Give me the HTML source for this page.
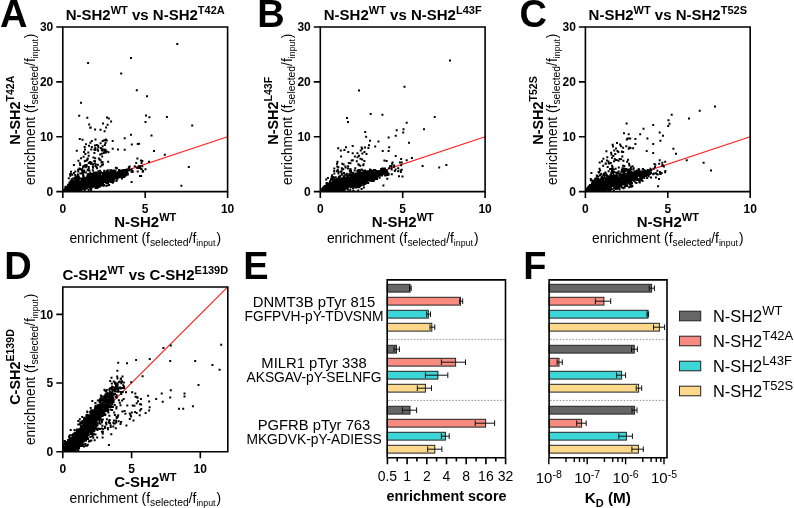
<!DOCTYPE html>
<html><head><meta charset="utf-8"><style>html,body{margin:0;padding:0;background:#fff;}svg{display:block;filter:blur(0.3px);}</style></head><body>
<svg width="794" height="508" viewBox="0 0 794 508" font-family='"Liberation Sans", sans-serif'>
<rect width="794" height="508" fill="#fff"/>
<text x="0" y="27.0" font-size="38" font-weight="bold" text-anchor="start" >A</text>
<text x="257.2" y="27.0" font-size="38" font-weight="bold" text-anchor="start" >B</text>
<text x="519.5" y="27.0" font-size="38" font-weight="bold" text-anchor="start" >C</text>
<text x="4.3" y="278.8" font-size="38" font-weight="bold" text-anchor="start" >D</text>
<text x="243.2" y="279.0" font-size="38" font-weight="bold" text-anchor="start" >E</text>
<text x="523.2" y="278.8" font-size="38" font-weight="bold" text-anchor="start" >F</text>
<line x1="62.8" y1="191.6" x2="227.6" y2="136.7" stroke="#ff2020" stroke-width="1.2"/>
<clipPath id="cA"><rect x="62.8" y="26.98999999999998" width="164.8" height="164.61"/></clipPath>
<path clip-path="url(#cA)" d="M88.9 180.5h2.0M118.9 171.8h2.0M66.7 188.8h2.0M109.2 176.3h2.0M65.4 191.6h2.0M93.8 181.4h2.0M91.9 181.0h2.0M85.2 186.7h2.0M69.7 186.4h2.0M90.0 176.6h2.0M84.2 182.6h2.0M78.9 181.5h2.0M106.6 177.2h2.0M81.9 179.3h2.0M84.8 183.8h2.0M78.2 191.1h2.0M69.8 188.0h2.0M112.9 170.7h2.0M66.9 190.0h2.0M64.0 190.9h2.0M72.5 191.2h2.0M125.5 169.6h2.0M125.3 175.3h2.0M109.7 176.1h2.0M93.6 178.8h2.0M87.6 190.0h2.0M94.8 176.2h2.0M93.2 178.6h2.0M113.8 172.0h2.0M81.7 183.2h2.0M107.3 176.7h2.0M97.1 177.9h2.0M67.7 187.2h2.0M114.7 177.0h2.0M103.1 178.7h2.0M104.0 176.0h2.0M107.1 173.8h2.0M111.5 176.5h2.0M83.6 187.1h2.0M101.9 182.4h2.0M124.5 172.9h2.0M73.1 188.7h2.0M102.9 177.2h2.0M69.0 188.6h2.0M79.1 186.0h2.0M112.7 180.8h2.0M102.4 176.5h2.0M67.9 190.0h2.0M99.1 178.2h2.0M75.9 184.2h2.0M85.5 185.8h2.0M69.5 190.2h2.0M74.0 190.4h2.0M83.8 184.4h2.0M105.2 175.3h2.0M111.3 174.0h2.0M89.1 183.3h2.0M108.0 179.6h2.0M79.4 188.4h2.0M84.0 184.2h2.0M72.0 184.5h2.0M112.8 178.8h2.0M88.2 182.4h2.0M122.0 172.5h2.0M101.7 184.0h2.0M91.4 181.6h2.0M66.5 188.4h2.0M67.8 188.9h2.0M82.0 184.5h2.0M116.5 175.0h2.0M117.4 175.0h2.0M97.3 179.9h2.0M108.6 177.1h2.0M89.1 188.1h2.0M122.7 174.8h2.0M72.5 190.3h2.0M99.1 174.4h2.0M97.8 179.8h2.0M110.4 177.4h2.0M76.9 184.4h2.0M121.8 172.2h2.0M71.1 184.6h2.0M99.6 181.8h2.0M98.9 183.2h2.0M113.0 178.5h2.0M82.5 182.2h2.0M91.5 181.1h2.0M96.0 179.2h2.0M85.8 182.2h2.0M65.7 191.3h2.0M77.0 189.6h2.0M88.5 184.9h2.0M96.6 175.6h2.0M100.5 176.3h2.0M69.5 186.8h2.0M112.7 175.2h2.0M108.1 177.2h2.0M112.0 182.3h2.0M86.4 182.6h2.0M102.3 179.9h2.0M113.3 178.3h2.0M76.4 181.2h2.0M94.4 182.9h2.0M102.5 176.0h2.0M120.1 172.6h2.0M63.9 190.9h2.0M82.9 179.5h2.0M69.2 186.3h2.0M76.2 188.2h2.0M81.2 182.3h2.0M92.2 177.6h2.0M96.8 186.4h2.0M110.5 175.5h2.0M110.7 173.4h2.0M95.9 186.9h2.0M85.8 186.9h2.0M112.3 173.8h2.0M93.3 175.8h2.0M95.2 172.4h2.0M104.3 175.5h2.0M125.9 174.5h2.0M118.0 171.5h2.0M77.2 185.8h2.0M124.9 170.4h2.0M124.4 172.9h2.0M77.3 186.9h2.0M111.9 176.9h2.0M68.8 186.4h2.0M108.1 184.9h2.0M62.6 190.7h2.0M125.3 172.1h2.0M103.8 180.4h2.0M85.6 183.1h2.0M94.1 178.4h2.0M115.7 173.3h2.0M81.1 188.3h2.0M86.4 182.1h2.0M89.7 188.4h2.0M79.8 181.5h2.0M107.2 176.9h2.0M76.5 182.3h2.0M104.3 173.1h2.0M116.4 176.0h2.0M67.5 189.6h2.0M88.9 175.4h2.0M71.0 182.0h2.0M72.8 185.0h2.0M77.7 189.6h2.0M76.4 183.5h2.0M92.3 180.8h2.0M101.4 176.7h2.0M94.6 177.9h2.0M87.3 178.0h2.0M84.6 184.5h2.0M107.2 174.0h2.0M84.1 189.3h2.0M96.4 180.6h2.0M93.2 179.9h2.0M115.8 177.4h2.0M66.2 189.2h2.0M66.8 190.7h2.0M102.0 184.7h2.0M116.7 172.6h2.0M85.4 180.1h2.0M82.7 176.5h2.0M82.7 182.4h2.0M82.1 175.7h2.0M90.1 189.7h2.0M95.2 181.8h2.0M70.9 187.0h2.0M70.4 190.3h2.0M86.8 179.0h2.0M70.4 188.4h2.0M109.0 177.0h2.0M74.6 183.3h2.0M95.2 173.6h2.0M89.2 185.3h2.0M108.0 173.5h2.0M97.1 185.6h2.0M117.7 173.0h2.0M77.0 190.0h2.0M111.7 178.6h2.0M64.2 190.4h2.0M67.0 185.7h2.0M104.2 181.1h2.0M104.9 180.7h2.0M90.0 178.9h2.0M69.5 191.6h2.0M93.3 178.4h2.0M89.5 181.3h2.0M63.3 190.6h2.0M96.4 177.5h2.0M116.9 175.2h2.0M88.2 183.3h2.0M100.3 177.3h2.0M85.3 179.1h2.0M86.7 183.9h2.0M78.3 188.2h2.0M109.7 174.0h2.0M113.8 176.5h2.0M72.6 187.9h2.0M117.6 174.6h2.0M105.8 179.4h2.0M92.3 181.7h2.0M80.2 187.4h2.0M117.6 173.2h2.0M87.2 181.5h2.0M94.8 175.3h2.0M116.0 176.3h2.0M84.1 179.8h2.0M84.0 185.5h2.0M68.4 186.4h2.0M114.4 172.5h2.0M104.7 176.6h2.0M66.8 188.2h2.0M104.4 174.4h2.0M102.8 179.5h2.0M78.0 178.7h2.0M70.5 184.2h2.0M86.5 182.8h2.0M91.6 178.3h2.0M92.4 181.8h2.0M117.3 177.6h2.0M74.9 185.8h2.0M84.9 185.0h2.0M86.8 182.9h2.0M119.7 173.5h2.0M71.9 187.8h2.0M110.8 173.3h2.0M85.4 188.6h2.0M122.8 173.8h2.0M87.4 184.8h2.0M72.8 181.9h2.0M78.9 183.2h2.0M73.0 187.4h2.0M88.8 178.8h2.0M88.2 184.3h2.0M82.4 185.9h2.0M68.7 186.9h2.0M118.0 170.1h2.0M110.4 170.2h2.0M121.0 178.4h2.0M93.3 178.6h2.0M79.0 184.7h2.0M72.7 185.3h2.0M99.9 179.4h2.0M79.4 188.1h2.0M109.1 173.5h2.0M97.3 178.4h2.0M123.3 172.4h2.0M85.1 181.2h2.0M105.8 171.1h2.0M102.6 179.1h2.0M96.0 182.3h2.0M92.3 186.7h2.0M113.5 179.3h2.0M94.5 182.5h2.0M96.6 178.4h2.0M94.4 178.8h2.0M79.3 185.6h2.0M109.2 170.3h2.0M75.0 178.5h2.0M80.3 183.0h2.0M107.8 178.7h2.0M117.5 172.1h2.0M100.8 183.7h2.0M62.8 190.6h2.0M81.0 182.8h2.0M75.7 181.8h2.0M77.9 189.1h2.0M78.3 189.4h2.0M69.7 190.1h2.0M75.0 187.4h2.0M74.8 182.8h2.0M86.7 185.8h2.0M86.8 178.2h2.0M74.3 183.1h2.0M107.8 178.4h2.0M90.2 183.2h2.0M105.3 172.8h2.0M73.7 190.1h2.0M89.4 184.4h2.0M78.3 178.2h2.0M64.5 191.5h2.0M82.2 174.5h2.0M122.2 174.2h2.0M101.2 178.0h2.0M86.6 179.5h2.0M109.9 177.2h2.0M111.4 181.0h2.0M64.1 188.8h2.0M103.0 174.4h2.0M96.5 179.3h2.0M99.3 175.6h2.0M122.9 173.4h2.0M80.1 190.1h2.0M122.5 171.9h2.0M75.2 184.7h2.0M100.3 181.4h2.0M85.8 181.2h2.0M117.4 171.9h2.0M108.1 175.6h2.0M85.7 183.0h2.0M62.7 191.5h2.0M90.7 185.3h2.0M81.4 187.2h2.0M69.4 186.4h2.0M106.6 180.0h2.0M71.7 182.4h2.0M65.7 188.6h2.0M96.9 178.8h2.0M108.3 177.6h2.0M88.5 184.5h2.0M79.5 188.6h2.0M75.3 180.9h2.0M93.5 175.9h2.0M101.8 183.3h2.0M82.4 180.0h2.0M92.3 184.8h2.0M82.4 186.2h2.0M112.9 177.6h2.0M69.6 188.7h2.0M85.6 179.8h2.0M100.5 181.1h2.0M64.7 190.3h2.0M72.6 185.2h2.0M82.7 185.1h2.0M72.9 189.6h2.0M103.8 175.4h2.0M89.8 178.9h2.0M109.8 176.9h2.0M122.2 175.6h2.0M98.1 183.6h2.0M108.5 173.3h2.0M69.2 186.0h2.0M62.7 191.1h2.0M91.7 184.6h2.0M82.2 184.5h2.0M91.7 177.0h2.0M76.9 186.3h2.0M126.7 174.4h2.0M97.1 182.8h2.0M98.8 184.1h2.0M91.4 182.0h2.0M121.3 173.7h2.0M85.0 178.6h2.0M93.9 180.9h2.0M88.4 178.3h2.0M94.7 181.6h2.0M89.5 179.0h2.0M74.9 190.5h2.0M68.0 185.3h2.0M73.9 189.6h2.0M81.6 178.9h2.0M123.9 173.3h2.0M81.9 183.2h2.0M89.2 177.9h2.0M96.2 184.0h2.0M70.9 188.0h2.0M70.4 186.0h2.0M117.2 176.1h2.0M71.7 182.4h2.0M110.4 174.6h2.0M68.5 190.3h2.0M85.7 188.1h2.0M123.5 172.9h2.0M64.7 191.6h2.0M85.6 182.2h2.0M89.3 182.6h2.0M117.4 173.2h2.0M83.8 186.9h2.0M62.4 191.3h2.0M119.2 177.2h2.0M74.0 185.8h2.0M78.7 191.2h2.0M101.6 181.6h2.0M107.7 174.3h2.0M91.7 186.8h2.0M116.2 177.2h2.0M120.4 170.7h2.0M81.6 183.6h2.0M78.2 190.5h2.0M105.6 180.2h2.0M120.5 175.6h2.0M90.8 182.8h2.0M70.1 185.8h2.0M90.4 185.7h2.0M65.0 190.0h2.0M86.6 181.7h2.0M87.9 181.9h2.0M80.2 184.2h2.0M97.7 184.2h2.0M111.7 176.7h2.0M91.1 176.0h2.0M106.3 185.6h2.0M65.4 189.1h2.0M70.0 190.7h2.0M123.1 171.5h2.0M116.1 176.0h2.0M100.1 178.8h2.0M80.6 188.0h2.0M98.6 179.8h2.0M109.1 179.3h2.0M107.6 176.4h2.0M95.3 174.4h2.0M76.5 186.5h2.0M97.3 184.6h2.0M76.0 183.7h2.0M121.0 173.5h2.0M102.7 181.2h2.0M104.7 175.1h2.0M77.3 191.4h2.0M115.5 178.0h2.0M113.7 176.8h2.0M110.6 173.0h2.0M83.9 186.7h2.0M96.2 188.1h2.0M111.3 179.2h2.0M112.2 176.6h2.0M104.9 178.1h2.0M121.0 173.0h2.0M117.1 174.0h2.0M119.8 174.5h2.0M93.1 184.0h2.0M109.1 172.2h2.0M86.4 175.5h2.0M69.1 184.6h2.0M89.5 186.8h2.0M83.3 188.1h2.0M80.0 185.8h2.0M68.2 190.0h2.0M92.3 185.9h2.0M96.7 180.1h2.0M92.7 180.5h2.0M86.7 184.2h2.0M87.0 186.5h2.0M79.3 184.7h2.0M116.5 174.3h2.0M89.7 185.5h2.0M125.3 171.1h2.0M111.3 177.1h2.0M98.2 181.0h2.0M112.8 172.5h2.0M75.3 189.0h2.0M124.4 173.4h2.0M71.4 188.9h2.0M88.5 180.0h2.0M72.6 191.5h2.0M99.1 178.4h2.0M96.3 182.1h2.0M104.7 173.5h2.0M73.6 189.1h2.0M88.1 178.6h2.0M93.7 179.4h2.0M112.4 180.6h2.0M110.8 176.3h2.0M97.8 186.4h2.0M85.1 181.8h2.0M75.7 185.0h2.0M81.6 183.9h2.0M91.8 184.7h2.0M72.7 187.5h2.0M85.2 183.4h2.0M91.4 181.1h2.0M95.5 180.4h2.0M116.3 179.1h2.0M66.3 190.6h2.0M88.5 178.6h2.0M71.0 187.2h2.0M106.9 178.5h2.0M66.3 189.3h2.0M100.1 175.8h2.0M62.5 191.3h2.0M104.8 178.9h2.0M115.8 176.7h2.0M96.9 178.2h2.0M118.7 173.9h2.0M77.4 184.5h2.0M123.8 171.7h2.0M100.4 183.8h2.0M88.7 183.2h2.0M97.5 178.4h2.0M110.9 178.5h2.0M64.5 191.0h2.0M87.4 176.4h2.0M80.5 184.8h2.0M86.9 185.9h2.0M79.0 184.4h2.0M70.4 189.7h2.0M106.0 176.6h2.0M74.4 187.1h2.0M69.1 188.5h2.0M106.7 176.2h2.0M71.8 182.9h2.0M74.1 179.7h2.0M86.1 185.1h2.0M112.1 177.4h2.0M113.5 179.6h2.0M105.6 173.2h2.0M69.5 188.4h2.0M85.5 187.3h2.0M91.3 178.7h2.0M70.5 189.8h2.0M98.3 185.7h2.0M72.7 183.9h2.0M91.7 177.5h2.0M99.6 181.8h2.0M107.3 176.1h2.0M126.4 173.4h2.0M67.0 189.8h2.0M106.1 174.0h2.0M69.6 186.2h2.0M107.7 178.0h2.0M92.7 182.9h2.0M87.3 180.9h2.0M85.7 181.9h2.0M127.6 168.8h2.0M64.5 188.7h2.0M100.1 181.8h2.0M71.4 186.7h2.0M63.3 190.1h2.0M120.9 173.8h2.0M98.0 179.4h2.0M106.9 172.7h2.0M92.2 182.0h2.0M121.2 175.3h2.0M99.2 181.4h2.0M85.3 180.9h2.0M65.8 189.3h2.0M68.3 189.2h2.0M87.6 181.7h2.0M106.1 180.0h2.0M69.4 186.4h2.0M70.0 182.5h2.0M84.7 182.2h2.0M91.8 180.9h2.0M101.9 178.8h2.0M81.8 182.9h2.0M76.1 188.9h2.0M91.1 181.4h2.0M100.0 185.6h2.0M102.0 179.7h2.0M68.2 187.0h2.0M72.8 183.1h2.0M123.5 173.3h2.0M98.3 186.8h2.0M68.5 186.6h2.0M102.9 175.7h2.0M90.0 174.3h2.0M78.8 187.9h2.0M111.4 175.7h2.0M69.3 188.6h2.0M72.2 187.1h2.0M91.1 187.5h2.0M102.3 178.0h2.0M110.5 174.4h2.0M123.1 176.9h2.0M92.1 180.7h2.0M71.0 187.2h2.0M100.5 178.9h2.0M121.6 175.9h2.0M105.4 181.2h2.0M93.9 177.6h2.0M111.7 182.7h2.0M80.5 179.8h2.0M63.9 190.5h2.0M95.6 177.0h2.0M95.4 177.1h2.0M83.1 184.8h2.0M91.5 177.5h2.0M71.6 188.3h2.0M119.1 176.9h2.0M116.2 176.8h2.0M73.3 186.8h2.0M89.4 173.1h2.0M121.7 176.8h2.0M65.8 186.7h2.0M68.0 188.4h2.0M84.8 184.2h2.0M79.7 190.0h2.0M103.6 181.8h2.0M126.6 169.7h2.0M102.4 178.0h2.0M110.5 175.6h2.0M97.8 182.3h2.0M122.3 170.0h2.0M94.2 181.1h2.0M72.2 189.2h2.0M113.0 170.4h2.0M90.6 179.8h2.0M81.4 185.4h2.0M100.6 179.3h2.0M76.4 187.5h2.0M115.5 180.9h2.0M105.8 178.6h2.0M64.9 189.7h2.0M104.0 175.9h2.0M67.1 189.3h2.0M85.9 187.1h2.0M121.5 175.0h2.0M108.2 179.4h2.0M75.2 191.5h2.0M73.5 183.7h2.0M70.9 187.6h2.0M108.9 173.4h2.0M99.0 180.7h2.0M64.3 189.4h2.0M75.8 188.9h2.0M88.8 181.1h2.0M73.5 185.6h2.0M69.9 186.1h2.0M85.6 182.3h2.0M92.9 181.0h2.0M89.6 177.1h2.0M73.1 191.3h2.0M89.3 174.9h2.0M117.9 172.0h2.0M68.8 185.2h2.0M91.6 182.9h2.0M88.8 179.1h2.0M65.2 191.3h2.0M88.9 183.4h2.0M114.5 170.6h2.0M80.2 190.1h2.0M98.9 179.9h2.0M86.4 180.5h2.0M93.3 186.2h2.0M74.0 185.2h2.0M104.0 178.7h2.0M78.8 190.5h2.0M62.8 190.8h2.0M99.6 183.0h2.0M120.0 174.5h2.0M78.5 188.6h2.0M116.0 168.2h2.0M115.1 174.9h2.0M111.0 179.8h2.0M115.1 174.6h2.0M95.0 175.7h2.0M109.4 175.4h2.0M84.0 186.4h2.0M118.1 176.1h2.0M106.3 182.1h2.0M89.4 180.0h2.0M85.1 187.5h2.0M101.7 180.1h2.0M123.1 172.5h2.0M94.8 180.5h2.0M106.3 176.6h2.0M108.9 179.1h2.0M105.9 182.4h2.0M116.1 177.0h2.0M77.9 184.8h2.0M74.2 190.1h2.0M119.0 173.0h2.0M83.0 179.6h2.0M111.1 179.7h2.0M101.2 185.5h2.0M124.6 173.6h2.0M82.5 184.0h2.0M87.3 179.4h2.0M74.4 183.7h2.0M114.6 172.9h2.0M65.3 190.0h2.0M87.5 182.0h2.0M72.4 185.8h2.0M92.3 178.9h2.0M100.3 182.7h2.0M113.2 176.8h2.0M92.9 183.3h2.0M71.9 188.2h2.0M83.2 180.9h2.0M96.6 183.7h2.0M97.5 178.6h2.0M66.6 188.7h2.0M73.4 189.2h2.0M121.0 172.0h2.0M101.9 176.8h2.0M99.8 184.0h2.0M78.0 188.0h2.0M77.2 185.9h2.0M72.4 187.8h2.0M95.9 183.0h2.0M72.2 183.7h2.0M82.0 185.7h2.0M96.5 172.8h2.0M107.0 178.9h2.0M96.0 177.4h2.0M87.2 178.6h2.0M108.9 180.1h2.0M88.0 179.7h2.0M82.6 188.0h2.0M89.5 185.2h2.0M82.4 175.7h2.0M83.0 184.5h2.0M91.3 182.9h2.0M73.5 184.9h2.0M77.9 184.3h2.0M122.4 176.0h2.0M69.4 185.0h2.0M62.8 191.4h2.0M113.3 176.9h2.0M118.8 171.4h2.0M77.7 181.4h2.0M114.7 173.0h2.0M92.6 184.2h2.0M98.6 183.4h2.0M67.1 187.9h2.0M84.1 186.1h2.0M87.6 180.2h2.0M95.2 184.0h2.0M67.4 188.9h2.0M63.1 190.0h2.0M76.0 178.0h2.0M74.5 186.3h2.0M89.3 173.4h2.0M122.8 173.2h2.0M83.2 188.4h2.0M119.9 174.0h2.0M70.0 188.9h2.0M103.6 178.2h2.0M90.0 182.3h2.0M67.3 188.9h2.0M111.5 180.2h2.0M83.6 190.7h2.0M115.8 178.0h2.0M95.6 180.2h2.0M113.6 177.2h2.0M82.4 178.1h2.0M114.7 173.8h2.0M83.0 179.0h2.0M119.9 173.4h2.0M107.0 180.4h2.0M107.1 177.0h2.0M93.5 181.5h2.0M100.2 185.4h2.0M114.0 177.0h2.0M102.1 181.4h2.0M65.7 188.8h2.0M122.0 173.5h2.0M109.2 170.4h2.0M80.0 187.4h2.0M105.5 176.9h2.0M111.6 175.2h2.0M74.2 187.4h2.0M98.1 178.1h2.0M71.2 188.7h2.0M88.9 183.7h2.0M71.3 189.4h2.0M70.9 188.6h2.0M89.0 181.3h2.0M113.0 174.2h2.0M123.6 170.8h2.0M77.4 190.0h2.0M107.5 173.3h2.0M116.1 173.8h2.0M112.7 172.9h2.0M90.8 181.2h2.0M74.7 184.5h2.0M78.4 181.8h2.0M101.6 181.6h2.0M94.6 187.9h2.0M82.2 184.1h2.0M79.9 184.8h2.0M81.6 180.1h2.0M97.8 177.1h2.0M81.0 183.0h2.0M67.7 188.6h2.0M74.5 184.9h2.0M107.6 177.8h2.0M108.8 175.7h2.0M86.7 180.3h2.0M70.5 182.1h2.0M113.5 174.8h2.0M78.0 184.1h2.0M99.9 183.6h2.0M81.0 189.5h2.0M75.2 191.5h2.0M73.5 184.1h2.0M76.6 182.7h2.0M109.8 176.9h2.0M97.0 181.7h2.0M78.6 182.1h2.0M74.7 187.6h2.0M79.2 190.8h2.0M102.6 176.1h2.0M99.7 177.8h2.0M69.4 185.0h2.0M74.8 182.6h2.0M124.2 175.8h2.0M82.1 180.9h2.0M79.9 178.6h2.0M99.1 175.2h2.0M104.1 176.8h2.0M68.2 188.6h2.0M108.0 177.6h2.0M103.9 178.6h2.0M102.5 177.5h2.0M83.8 181.1h2.0M99.2 177.0h2.0M105.6 179.7h2.0M122.2 173.6h2.0M106.1 179.9h2.0M123.7 169.9h2.0M125.3 171.9h2.0M74.6 191.6h2.0M83.9 182.3h2.0M72.0 184.1h2.0M110.4 178.0h2.0M72.2 185.3h2.0M90.0 186.0h2.0M116.0 174.8h2.0M92.5 177.5h2.0M92.6 178.6h2.0M106.9 180.1h2.0M70.4 189.5h2.0M104.8 173.6h2.0M102.2 182.7h2.0M119.1 173.8h2.0M113.6 171.9h2.0M86.3 181.5h2.0M110.5 173.9h2.0M77.3 187.9h2.0M93.0 183.5h2.0M78.8 185.1h2.0M91.4 183.8h2.0M98.1 173.5h2.0M87.4 176.6h2.0M80.8 183.9h2.0M99.9 185.4h2.0M98.1 180.7h2.0M84.3 187.3h2.0M68.4 187.4h2.0M70.6 188.2h2.0M77.7 188.2h2.0M62.7 191.4h2.0M69.9 184.8h2.0M70.9 182.3h2.0M77.6 187.3h2.0M105.8 173.6h2.0M65.1 189.1h2.0M92.2 183.3h2.0M69.2 191.4h2.0M72.8 188.5h2.0M84.4 188.8h2.0M84.8 178.6h2.0M83.3 181.7h2.0M94.1 176.7h2.0M76.5 187.4h2.0M89.5 182.0h2.0M89.2 179.8h2.0M92.9 176.3h2.0M122.9 173.1h2.0M84.5 178.7h2.0M81.3 186.6h2.0M86.5 184.2h2.0M99.5 179.3h2.0M92.7 185.6h2.0M75.8 189.0h2.0M83.0 186.4h2.0M79.7 187.7h2.0M70.0 189.2h2.0M96.7 185.4h2.0M78.9 190.7h2.0M85.4 183.9h2.0M75.1 183.5h2.0M79.7 184.5h2.0M76.1 191.0h2.0M96.0 184.8h2.0M97.9 183.8h2.0M66.0 188.1h2.0M103.8 178.9h2.0M105.7 181.7h2.0M101.5 177.2h2.0M70.9 191.4h2.0M82.8 181.3h2.0M89.9 185.8h2.0M72.7 186.2h2.0M116.7 173.3h2.0M102.5 176.5h2.0M77.3 187.1h2.0M76.0 185.0h2.0M67.5 186.5h2.0M70.9 188.5h2.0M86.5 177.3h2.0M91.5 185.4h2.0M81.8 184.5h2.0M80.6 182.1h2.0M115.9 175.2h2.0M102.4 178.6h2.0M66.2 191.3h2.0M71.8 182.1h2.0M114.7 174.9h2.0M94.8 180.8h2.0M89.9 181.2h2.0M95.0 180.2h2.0M76.5 181.2h2.0M102.0 182.7h2.0M88.3 179.0h2.0M92.6 183.4h2.0M92.1 178.3h2.0M73.8 184.9h2.0M80.2 185.0h2.0M64.8 190.9h2.0M99.3 184.3h2.0M76.4 186.9h2.0M85.6 186.4h2.0M89.6 184.5h2.0M112.3 171.5h2.0M75.4 181.5h2.0M87.1 178.4h2.0M62.6 191.5h2.0M121.3 173.7h2.0M89.3 183.8h2.0M82.4 182.0h2.0M84.0 179.5h2.0M102.0 174.7h2.0M85.6 177.5h2.0M87.1 182.0h2.0M117.5 176.4h2.0M64.5 186.8h2.0M72.8 184.3h2.0M89.2 179.4h2.0M96.8 180.1h2.0M68.9 190.2h2.0M81.0 179.8h2.0M95.6 185.2h2.0M88.9 179.0h2.0M72.0 180.9h2.0M76.2 185.1h2.0M83.8 178.0h2.0M118.0 174.5h2.0M64.7 190.6h2.0M66.7 189.9h2.0M102.8 179.0h2.0M80.5 182.2h2.0M109.1 175.0h2.0M124.6 173.0h2.0M95.0 181.5h2.0M71.0 187.0h2.0M83.3 183.7h2.0M102.8 178.8h2.0M79.2 182.2h2.0M68.2 188.5h2.0M100.2 179.5h2.0M95.4 186.7h2.0M97.6 183.9h2.0M121.5 174.4h2.0M114.1 171.3h2.0M104.1 178.5h2.0M71.8 185.6h2.0M82.9 183.0h2.0M73.4 187.7h2.0M64.2 191.2h2.0M84.4 182.0h2.0M71.2 185.1h2.0M112.4 176.3h2.0M107.6 175.4h2.0M68.6 190.8h2.0M77.0 185.5h2.0M115.3 173.7h2.0M69.6 190.1h2.0M84.6 184.3h2.0M96.6 181.9h2.0M82.8 180.0h2.0M103.7 178.7h2.0M113.7 175.8h2.0M91.1 186.6h2.0M113.2 176.4h2.0M67.3 186.0h2.0M98.6 175.3h2.0M114.8 175.2h2.0M62.8 190.7h2.0M118.6 174.1h2.0M97.4 171.2h2.0M81.8 181.5h2.0M82.3 186.0h2.0M110.7 175.8h2.0M108.1 178.7h2.0M110.1 178.2h2.0M111.2 179.9h2.0M82.6 189.1h2.0M95.8 182.5h2.0M94.6 180.9h2.0M103.8 180.0h2.0M73.2 191.2h2.0M95.3 178.9h2.0M74.7 180.2h2.0M72.9 187.9h2.0M91.6 181.9h2.0M89.4 183.5h2.0M68.3 187.1h2.0M111.0 173.7h2.0M67.3 191.5h2.0M70.9 187.5h2.0M63.2 190.9h2.0M74.0 191.1h2.0M76.7 186.9h2.0M101.3 176.2h2.0M73.4 191.3h2.0M69.0 186.6h2.0M98.8 179.8h2.0M69.3 186.9h2.0M118.4 173.8h2.0M120.3 170.9h2.0M102.7 176.4h2.0M76.6 183.4h2.0M120.4 170.4h2.0M100.2 177.1h2.0M80.2 186.5h2.0M80.0 187.2h2.0M80.4 182.3h2.0M73.6 185.1h2.0M79.1 187.8h2.0M63.1 190.0h2.0M73.0 191.5h2.0M86.0 185.5h2.0M107.9 177.7h2.0M109.5 171.4h2.0M66.1 189.1h2.0M111.9 178.9h2.0M95.5 179.9h2.0M107.9 177.3h2.0M64.0 189.4h2.0M79.0 185.6h2.0M86.8 182.8h2.0M103.2 172.4h2.0M117.9 172.9h2.0M105.3 185.8h2.0M98.6 178.1h2.0M76.0 190.9h2.0M62.3 191.4h2.0M112.7 175.1h2.0M87.1 178.4h2.0M123.4 176.8h2.0M116.2 179.2h2.0M112.4 176.9h2.0M85.6 179.3h2.0M107.7 181.2h2.0M74.9 185.6h2.0M78.1 183.7h2.0M110.2 174.7h2.0M122.6 172.6h2.0M76.4 181.8h2.0M100.6 181.1h2.0M112.1 173.0h2.0M103.3 170.8h2.0M90.7 178.0h2.0M87.9 181.9h2.0M105.3 182.9h2.0M62.0 191.6h2.0M116.4 177.8h2.0M81.8 187.1h2.0M85.8 186.6h2.0M111.7 177.4h2.0M110.2 181.9h2.0M93.1 183.6h2.0M76.6 182.4h2.0M67.8 188.3h2.0M102.3 176.0h2.0M62.1 191.5h2.0M72.7 186.3h2.0M116.4 175.1h2.0M121.2 174.2h2.0M70.0 190.4h2.0M102.0 179.1h2.0M86.8 177.6h2.0M83.7 182.7h2.0M112.0 179.3h2.0M75.7 179.4h2.0M80.8 181.5h2.0M76.8 185.3h2.0M87.4 187.5h2.0M121.6 174.6h2.0M95.8 173.9h2.0M110.1 180.6h2.0M100.9 179.5h2.0M68.0 187.0h2.0M75.4 189.4h2.0M120.3 176.3h2.0M121.4 172.9h2.0M72.9 188.7h2.0M94.4 178.8h2.0M102.6 174.0h2.0M73.7 187.7h2.0M66.5 189.9h2.0M107.5 177.4h2.0M69.0 189.7h2.0M99.3 173.1h2.0M99.7 179.8h2.0M77.2 177.5h2.0M78.2 186.4h2.0M118.8 175.8h2.0M99.6 177.0h2.0M73.0 187.6h2.0M103.2 179.4h2.0M98.6 182.4h2.0M97.7 183.1h2.0M118.8 172.4h2.0M69.7 186.7h2.0M106.6 177.8h2.0M111.2 175.7h2.0M70.0 187.9h2.0M86.3 182.5h2.0M111.8 170.7h2.0M115.8 177.9h2.0M87.8 185.0h2.0M104.6 178.7h2.0M77.1 187.5h2.0M94.6 182.3h2.0M87.5 180.3h2.0M70.9 185.2h2.0M97.5 182.6h2.0M62.2 191.5h2.0M68.2 190.8h2.0M98.9 186.6h2.0M76.1 188.1h2.0M77.2 187.3h2.0M119.4 170.8h2.0M81.4 182.0h2.0M83.3 184.5h2.0M62.5 190.9h2.0M126.9 174.6h2.0M88.2 179.8h2.0M90.7 184.6h2.0M87.8 179.8h2.0M111.2 173.6h2.0M96.5 181.0h2.0M63.4 191.0h2.0M102.3 179.4h2.0M71.3 181.3h2.0M78.3 185.5h2.0M63.6 191.3h2.0M105.6 178.4h2.0M71.4 191.4h2.0M95.2 184.7h2.0M92.8 183.0h2.0M98.3 178.1h2.0M80.9 182.1h2.0M113.0 175.7h2.0M92.0 179.8h2.0M94.6 187.3h2.0M90.7 181.2h2.0M95.2 183.1h2.0M68.8 190.2h2.0M78.7 184.7h2.0M67.3 189.4h2.0M72.0 183.0h2.0M75.0 187.2h2.0M121.5 173.2h2.0M64.3 189.6h2.0M92.6 172.4h2.0M107.0 179.2h2.0M100.9 179.6h2.0M88.1 174.5h2.0M76.2 186.0h2.0M114.2 174.2h2.0M75.9 189.0h2.0M71.0 188.9h2.0M94.9 181.1h2.0M83.7 181.6h2.0M105.1 175.9h2.0M65.5 189.3h2.0M122.3 172.3h2.0M73.3 184.5h2.0M87.9 181.6h2.0M83.7 187.2h2.0M114.8 167.8h2.0M97.4 182.0h2.0M112.3 172.0h2.0M97.6 179.7h2.0M75.9 187.7h2.0M99.8 178.6h2.0M103.0 173.0h2.0M101.5 184.6h2.0M79.9 184.8h2.0M109.6 181.9h2.0M113.4 176.6h2.0M88.1 181.8h2.0M88.9 179.9h2.0M121.9 175.9h2.0M86.0 184.4h2.0M117.2 174.3h2.0M91.6 184.6h2.0M87.2 183.1h2.0M98.0 185.3h2.0M86.1 181.3h2.0M73.5 191.1h2.0M106.8 176.9h2.0M99.0 179.7h2.0M99.4 181.5h2.0M93.2 180.7h2.0M107.5 178.2h2.0M81.9 183.3h2.0M68.6 187.1h2.0M80.9 187.5h2.0M112.9 175.1h2.0M67.1 184.8h2.0M84.8 183.8h2.0M92.1 180.0h2.0M67.3 186.6h2.0M92.6 183.7h2.0M113.2 176.7h2.0M118.6 173.9h2.0M75.4 187.8h2.0M121.1 171.7h2.0M97.0 177.8h2.0M106.8 170.2h2.0M107.0 172.3h2.0M68.7 190.3h2.0M109.4 172.8h2.0M87.6 176.8h2.0M94.3 183.7h2.0M81.1 181.8h2.0M79.3 191.1h2.0M94.2 182.7h2.0M81.0 184.6h2.0M71.5 185.4h2.0M97.2 178.3h2.0M74.9 185.1h2.0M79.0 181.5h2.0M98.0 178.3h2.0M64.2 191.5h2.0M79.7 187.2h2.0M106.1 173.7h2.0M91.9 183.4h2.0M111.2 172.2h2.0M126.6 173.3h2.0M69.5 187.0h2.0M68.6 186.3h2.0M96.6 174.3h2.0M106.7 179.0h2.0M73.7 187.7h2.0M82.0 178.3h2.0M116.1 174.5h2.0M97.9 180.6h2.0M103.0 184.9h2.0M91.7 186.2h2.0M113.0 175.8h2.0M106.6 181.7h2.0M103.4 172.2h2.0M74.9 182.1h2.0M91.7 184.1h2.0M121.2 173.9h2.0M90.6 180.3h2.0M103.4 181.9h2.0M111.1 177.6h2.0M62.0 191.1h2.0M78.5 184.2h2.0M113.8 174.8h2.0M90.6 174.2h2.0M68.8 185.5h2.0M107.2 177.4h2.0M63.7 190.4h2.0M84.2 183.6h2.0M93.0 186.4h2.0M114.5 178.0h2.0M92.5 185.9h2.0M88.5 179.0h2.0M96.3 177.4h2.0M62.4 191.2h2.0M101.9 180.1h2.0M80.4 181.4h2.0M84.4 180.3h2.0M90.5 176.5h2.0M107.0 182.9h2.0M70.6 190.6h2.0M87.1 187.0h2.0M97.0 178.0h2.0M90.2 178.7h2.0M84.4 184.3h2.0M74.7 181.4h2.0M88.0 183.7h2.0M105.4 176.6h2.0M115.0 173.9h2.0M86.4 182.2h2.0M107.1 182.7h2.0M102.8 179.2h2.0M108.9 178.7h2.0M88.0 179.9h2.0M82.9 179.3h2.0M83.4 185.2h2.0M69.1 183.7h2.0M74.8 188.4h2.0M111.8 181.2h2.0M82.5 184.4h2.0M108.8 181.4h2.0M74.0 191.4h2.0M89.6 174.0h2.0M87.0 181.5h2.0M86.6 180.6h2.0M86.4 180.8h2.0M79.6 185.7h2.0M115.0 178.0h2.0M108.0 179.0h2.0M122.8 169.9h2.0M94.0 181.3h2.0M80.2 188.8h2.0M102.0 177.2h2.0M84.2 184.9h2.0M109.5 178.2h2.0M76.2 183.6h2.0M63.6 191.1h2.0M100.8 182.2h2.0M92.3 179.5h2.0M69.9 182.2h2.0M108.7 176.0h2.0M111.5 179.3h2.0M86.8 187.0h2.0M77.1 188.9h2.0M91.5 174.1h2.0M112.3 181.9h2.0M77.7 180.5h2.0M86.5 185.3h2.0M105.7 177.4h2.0M102.6 173.9h2.0M113.8 175.0h2.0M62.2 191.6h2.0M77.5 185.0h2.0M113.7 176.9h2.0M69.5 191.4h2.0M77.8 183.3h2.0M66.5 190.1h2.0M114.5 176.7h2.0M68.0 191.1h2.0M64.5 190.8h2.0M107.8 172.7h2.0M101.5 179.2h2.0M74.2 183.0h2.0M91.5 176.8h2.0M113.8 175.5h2.0M120.1 170.4h2.0M106.3 175.6h2.0M87.9 184.3h2.0M84.0 184.4h2.0M109.6 182.1h2.0M94.7 178.9h2.0M102.6 180.9h2.0M88.3 180.1h2.0M68.6 190.7h2.0M93.0 180.4h2.0M68.6 184.0h2.0M68.6 191.4h2.0M97.9 173.7h2.0M78.3 189.5h2.0M109.9 173.8h2.0M118.4 174.5h2.0M79.7 184.7h2.0M103.0 176.8h2.0M105.6 181.1h2.0M70.5 185.1h2.0M88.0 179.6h2.0M112.0 176.2h2.0M71.0 188.3h2.0M120.4 173.7h2.0M86.5 175.6h2.0M95.6 179.5h2.0M101.7 182.7h2.0M78.2 187.6h2.0M93.1 179.8h2.0M96.6 173.5h2.0M108.5 177.2h2.0M102.2 179.8h2.0M85.3 183.9h2.0M118.5 176.9h2.0M64.6 191.4h2.0M115.5 173.7h2.0M117.5 173.4h2.0M91.9 182.2h2.0M80.6 180.2h2.0M62.5 190.0h2.0M99.0 181.0h2.0M86.9 183.3h2.0M64.7 191.3h2.0M102.7 185.8h2.0M127.8 170.6h2.0M126.1 173.5h2.0M104.6 173.5h2.0M76.3 182.6h2.0M65.3 188.7h2.0M97.8 185.7h2.0M69.1 191.0h2.0M95.9 182.2h2.0M93.6 174.1h2.0M111.7 178.2h2.0M72.4 183.8h2.0M80.2 181.6h2.0M68.4 187.4h2.0M85.6 185.1h2.0M116.2 176.5h2.0M66.3 189.1h2.0M118.3 176.3h2.0M88.0 182.4h2.0M100.7 179.7h2.0M68.1 188.1h2.0M72.3 191.3h2.0M96.6 176.8h2.0M95.3 178.6h2.0M102.7 177.8h2.0M96.8 180.4h2.0M93.9 172.7h2.0M103.3 140.3h2.0M94.0 161.2h2.0M84.6 160.8h2.0M101.3 165.0h2.0M103.2 171.8h2.0M93.9 185.3h2.0M74.3 171.5h2.0M86.0 177.3h2.0M80.3 169.4h2.0M72.9 165.0h2.0M87.8 163.0h2.0M83.6 147.0h2.0M101.5 175.9h2.0M96.8 187.4h2.0M77.0 179.2h2.0M95.4 176.4h2.0M99.2 154.4h2.0M70.9 181.9h2.0M92.0 164.2h2.0M104.9 152.5h2.0M69.2 175.7h2.0M84.0 165.3h2.0M100.8 150.0h2.0M79.2 165.1h2.0M94.2 149.9h2.0M100.1 172.3h2.0M77.2 169.8h2.0M105.6 151.3h2.0M97.9 158.6h2.0M95.5 166.9h2.0M75.6 185.2h2.0M87.7 155.7h2.0M87.1 174.0h2.0M101.2 156.4h2.0M82.0 167.2h2.0M76.9 190.5h2.0M92.4 157.4h2.0M80.6 173.3h2.0M81.5 173.1h2.0M70.0 171.8h2.0M104.5 149.8h2.0M99.6 160.2h2.0M85.3 166.6h2.0M80.1 158.3h2.0M85.3 165.2h2.0M96.9 164.8h2.0M87.8 168.6h2.0M96.6 149.5h2.0M101.0 165.3h2.0M77.1 185.2h2.0M79.3 173.5h2.0M100.7 153.8h2.0M93.8 163.5h2.0M86.4 180.4h2.0M93.4 152.9h2.0M101.6 150.8h2.0M94.2 158.3h2.0M93.8 179.1h2.0M75.1 178.6h2.0M75.5 181.5h2.0M82.8 171.9h2.0M90.1 191.3h2.0M82.6 156.8h2.0M69.2 173.9h2.0M74.8 191.6h2.0M86.0 160.3h2.0M75.9 179.3h2.0M93.3 161.0h2.0M99.0 170.8h2.0M83.8 161.3h2.0M88.8 177.0h2.0M85.7 165.4h2.0M84.5 167.3h2.0M94.1 129.5h2.0M103.6 131.2h2.0M81.5 171.4h2.0M77.8 183.1h2.0M101.5 162.0h2.0M100.7 148.7h2.0M84.4 153.9h2.0M91.9 166.5h2.0M81.1 169.2h2.0M98.6 159.5h2.0M73.9 177.8h2.0M90.9 176.8h2.0M74.7 176.4h2.0M78.6 168.6h2.0M74.2 174.9h2.0M88.5 170.8h2.0M101.5 172.9h2.0M82.6 166.1h2.0M79.9 173.5h2.0M92.0 167.7h2.0M99.5 177.4h2.0M74.1 180.2h2.0M77.4 160.8h2.0M87.7 167.0h2.0M81.0 179.8h2.0M70.9 186.2h2.0M72.9 173.0h2.0M105.8 140.6h2.0M81.6 171.1h2.0M94.4 166.0h2.0M68.4 182.7h2.0M71.9 178.8h2.0M91.8 170.2h2.0M94.8 164.4h2.0M86.6 170.3h2.0M102.7 149.6h2.0M78.2 169.2h2.0M87.2 169.5h2.0M91.0 178.3h2.0M83.2 172.3h2.0M89.4 175.1h2.0M91.5 178.2h2.0M103.8 151.5h2.0M70.3 174.2h2.0M100.5 162.6h2.0M96.1 168.2h2.0M83.8 178.3h2.0M78.9 163.2h2.0M104.6 140.5h2.0M86.4 159.4h2.0M104.5 143.0h2.0M90.5 162.6h2.0M95.8 145.0h2.0M94.3 148.0h2.0M99.4 166.4h2.0M79.4 182.0h2.0M88.4 187.0h2.0M85.7 164.9h2.0M70.7 179.2h2.0M69.5 181.3h2.0M99.6 143.3h2.0M84.9 172.6h2.0M76.3 188.1h2.0M101.9 173.0h2.0M101.7 146.2h2.0M77.2 171.6h2.0M77.8 176.5h2.0M107.2 161.7h2.0M76.1 180.4h2.0M76.9 174.4h2.0M74.4 180.2h2.0M76.4 185.4h2.0M92.8 175.2h2.0M67.8 178.2h2.0M83.2 170.6h2.0M79.3 169.0h2.0M102.0 164.2h2.0M88.9 162.0h2.0M72.4 178.4h2.0M75.9 176.6h2.0M81.2 170.8h2.0M86.8 158.5h2.0M71.3 174.7h2.0M75.5 178.6h2.0M89.9 164.0h2.0M101.9 175.1h2.0M136.7 171.6h2.0M136.4 158.5h2.0M141.7 171.7h2.0M137.7 166.3h2.0M141.3 161.0h2.0M140.6 162.9h2.0M130.5 171.8h2.0M135.9 167.7h2.0M131.6 172.1h2.0M139.0 166.3h2.0M124.5 170.2h2.0M131.7 171.2h2.0M128.6 169.7h2.0M125.9 171.2h2.0M124.1 172.2h2.0M133.8 166.2h2.0M140.1 175.9h2.0M131.2 170.9h2.0M138.9 168.0h2.0M127.9 167.3h2.0M130.6 182.0h2.0M137.4 168.1h2.0M131.1 171.7h2.0M135.2 162.9h2.0M141.3 166.3h2.0M139.9 168.8h2.0M125.4 173.3h2.0M128.0 168.1h2.0M130.7 169.4h2.0M128.7 166.6h2.0M176.3 44.0h2.0M87.1 63.0h2.0M130.0 58.0h2.0M120.2 73.6h2.0M135.8 90.2h2.0M80.0 102.7h2.0M146.0 96.3h2.0M78.2 115.7h2.0M86.3 117.8h2.0M106.0 117.5h2.0M107.8 118.4h2.0M110.1 121.4h2.0M88.2 124.4h2.0M89.7 127.4h2.0M89.2 127.8h2.0M102.0 123.6h2.0M106.6 124.7h2.0M105.1 127.4h2.0M99.5 129.8h2.0M130.0 134.8h2.0M123.7 138.2h2.0M78.8 139.0h2.0M81.5 139.8h2.0M94.5 139.5h2.0M104.9 139.5h2.0M90.8 140.9h2.0M101.6 141.1h2.0M111.7 141.1h2.0M89.4 142.8h2.0M85.0 144.2h2.0M103.9 145.0h2.0M88.0 145.8h2.0M130.8 144.5h2.0M136.8 143.9h2.0M138.1 143.7h2.0M93.9 145.5h2.0M97.1 145.8h2.0M90.8 147.1h2.0M97.4 147.3h2.0M99.9 148.1h2.0M84.0 149.4h2.0M90.3 149.4h2.0M93.4 149.6h2.0M111.7 148.7h2.0M117.0 149.4h2.0M123.7 149.7h2.0M75.8 150.8h2.0M83.0 152.0h2.0M87.3 152.4h2.0M97.1 150.8h2.0M102.8 153.1h2.0M107.5 152.3h2.0M145.0 115.6h2.0M148.4 117.3h2.0M165.9 117.0h2.0M144.5 122.1h2.0M191.2 125.5h2.0M150.5 135.5h2.0M153.0 150.9h2.0M163.8 154.7h2.0M139.9 160.6h2.0M147.9 161.8h2.0M140.7 169.2h2.0M142.1 170.9h2.0M144.5 169.2h2.0M187.8 167.0h2.0M139.0 176.0h2.0M180.4 185.8h2.0" stroke="#000" stroke-width="2" fill="none"/>
<path d="M62.8 191.6V26.98999999999998H227.60000000000002V191.6H62.8" fill="none" stroke="#000" stroke-width="1.6"/>
<path d="M62.8 191.6v6.5M145.2 191.6v6.5M227.6 191.6v6.5M62.8 191.6h-6.5M62.8 136.7h-6.5M62.8 81.9h-6.5M62.8 27.0h-6.5" stroke="#000" stroke-width="1.6"/>
<text x="62.8" y="212.6" font-size="12" font-weight="bold" text-anchor="middle" >0</text>
<text x="145.2" y="212.6" font-size="12" font-weight="bold" text-anchor="middle" >5</text>
<text x="227.6" y="212.6" font-size="12" font-weight="bold" text-anchor="middle" >10</text>
<text x="53.3" y="195.9" font-size="12" font-weight="bold" text-anchor="end" >0</text>
<text x="53.3" y="141.0" font-size="12" font-weight="bold" text-anchor="end" >10</text>
<text x="53.3" y="86.2" font-size="12" font-weight="bold" text-anchor="end" >20</text>
<text x="53.3" y="31.3" font-size="12" font-weight="bold" text-anchor="end" >30</text>
<text x="145.2" y="226.8" font-size="15" font-weight="bold" text-anchor="middle">N-SH2<tspan font-size="11" dy="-6">WT</tspan></text>
<text x="145.2" y="242.8" font-size="13.8" text-anchor="middle">enrichment (f<tspan font-size="10.4" dy="3">selected</tspan><tspan dy="-3">/f</tspan><tspan font-size="8.8" dy="3">input</tspan><tspan dy="-3" dx="1">)</tspan></text>
<text transform="translate(20.0,144.7) rotate(-90)" font-size="14.4" font-weight="bold">N-SH2<tspan font-size="10.6" dy="-5.8">T42A</tspan></text>
<text transform="translate(34.8,109.3) rotate(-90)" font-size="13.8" text-anchor="middle">enrichment (f<tspan font-size="10.4" dy="3">selected</tspan><tspan dy="-3">/f</tspan><tspan font-size="8.8" dy="3">input</tspan><tspan dy="-3" dx="1">)</tspan></text>
<text x="145.2" y="19.8" font-size="15" font-weight="bold" text-anchor="middle">N-SH2<tspan font-size="11" dy="-6">WT</tspan><tspan dy="6"> vs N-SH2</tspan><tspan font-size="11" dy="-6">T42A</tspan></text>
<line x1="320.3" y1="191.6" x2="485.1" y2="136.7" stroke="#ff2020" stroke-width="1.2"/>
<clipPath id="cB"><rect x="320.3" y="26.98999999999998" width="164.8" height="164.61"/></clipPath>
<path clip-path="url(#cB)" d="M326.3 189.4h2.0M346.6 184.7h2.0M332.5 186.5h2.0M360.7 169.6h2.0M382.1 168.8h2.0M355.0 178.3h2.0M353.4 183.9h2.0M379.6 173.9h2.0M346.8 178.0h2.0M342.7 184.4h2.0M339.4 185.5h2.0M344.3 184.6h2.0M342.1 181.9h2.0M384.1 175.3h2.0M373.7 176.6h2.0M325.5 187.8h2.0M344.1 185.1h2.0M375.6 174.1h2.0M338.1 185.2h2.0M347.1 185.8h2.0M381.5 173.2h2.0M343.3 183.6h2.0M359.9 178.4h2.0M361.8 178.5h2.0M342.1 183.7h2.0M365.7 175.2h2.0M358.5 178.3h2.0M342.9 182.1h2.0M330.2 179.0h2.0M381.2 172.3h2.0M344.7 187.2h2.0M368.9 169.6h2.0M328.0 189.8h2.0M335.0 184.2h2.0M380.5 174.4h2.0M335.2 185.5h2.0M324.2 189.7h2.0M343.3 183.0h2.0M321.1 191.0h2.0M331.8 184.1h2.0M332.5 187.9h2.0M357.9 176.1h2.0M365.3 176.7h2.0M348.4 184.1h2.0M341.9 190.2h2.0M358.8 171.9h2.0M347.1 181.8h2.0M345.9 180.4h2.0M331.0 183.9h2.0M374.2 173.4h2.0M338.6 186.5h2.0M360.1 179.7h2.0M346.4 187.3h2.0M339.0 181.8h2.0M362.2 174.3h2.0M354.6 181.8h2.0M330.6 186.1h2.0M372.5 176.7h2.0M342.1 181.6h2.0M327.5 187.6h2.0M331.1 183.1h2.0M339.1 182.2h2.0M319.8 190.7h2.0M346.7 184.7h2.0M338.5 185.7h2.0M354.0 182.3h2.0M338.2 187.7h2.0M354.6 175.6h2.0M369.3 177.2h2.0M386.3 172.0h2.0M361.4 180.0h2.0M359.9 178.8h2.0M349.8 181.0h2.0M346.1 180.4h2.0M364.1 178.5h2.0M346.0 181.1h2.0M354.5 175.9h2.0M346.9 187.6h2.0M366.5 171.5h2.0M334.0 186.9h2.0M353.2 184.9h2.0M356.7 174.8h2.0M347.7 191.6h2.0M360.6 180.8h2.0M383.7 172.2h2.0M365.8 182.0h2.0M375.6 174.0h2.0M340.0 181.5h2.0M379.6 172.8h2.0M360.3 177.4h2.0M331.8 179.8h2.0M332.1 186.8h2.0M344.7 188.6h2.0M367.2 174.9h2.0M354.1 181.5h2.0M375.7 171.1h2.0M350.1 186.2h2.0M372.8 174.6h2.0M368.8 173.8h2.0M351.9 180.3h2.0M346.7 178.4h2.0M358.2 176.3h2.0M358.4 182.7h2.0M362.8 182.4h2.0M349.5 183.8h2.0M359.8 178.6h2.0M341.5 181.4h2.0M339.9 184.3h2.0M378.0 174.8h2.0M339.6 180.7h2.0M372.9 180.3h2.0M324.9 189.1h2.0M374.6 173.2h2.0M360.1 180.9h2.0M350.4 177.7h2.0M349.3 184.0h2.0M332.2 179.9h2.0M368.3 172.6h2.0M349.3 183.2h2.0M341.1 185.5h2.0M382.1 172.0h2.0M365.3 177.3h2.0M381.5 172.6h2.0M356.7 181.4h2.0M320.5 189.8h2.0M323.2 187.1h2.0M377.9 173.1h2.0M362.8 174.4h2.0M335.4 183.5h2.0M374.2 175.6h2.0M370.8 175.2h2.0M325.9 186.2h2.0M321.4 189.8h2.0M350.9 186.0h2.0M329.5 186.9h2.0M326.7 184.2h2.0M353.4 177.5h2.0M340.1 188.7h2.0M385.7 170.8h2.0M350.9 177.2h2.0M350.9 182.2h2.0M379.4 172.7h2.0M362.9 173.8h2.0M324.0 189.4h2.0M367.8 178.4h2.0M355.0 180.7h2.0M385.2 170.4h2.0M362.1 180.6h2.0M360.0 174.1h2.0M334.9 184.5h2.0M341.9 182.8h2.0M335.8 187.6h2.0M320.1 191.2h2.0M353.9 179.0h2.0M346.5 188.4h2.0M376.3 175.4h2.0M351.8 177.1h2.0M378.8 170.9h2.0M335.1 189.3h2.0M359.6 184.8h2.0M360.7 175.1h2.0M360.5 185.3h2.0M334.2 186.7h2.0M329.3 185.8h2.0M353.9 181.2h2.0M352.9 178.4h2.0M351.0 177.4h2.0M336.8 187.9h2.0M353.2 180.8h2.0M352.8 187.4h2.0M377.5 172.8h2.0M343.2 177.8h2.0M349.5 182.0h2.0M323.9 191.5h2.0M335.9 181.5h2.0M327.9 190.6h2.0M355.4 176.9h2.0M320.4 190.9h2.0M380.5 173.6h2.0M359.9 181.6h2.0M360.0 175.4h2.0M347.9 180.0h2.0M363.2 172.9h2.0M385.6 170.0h2.0M336.3 178.7h2.0M330.6 185.5h2.0M327.8 184.8h2.0M336.6 189.1h2.0M323.6 189.4h2.0M346.7 189.5h2.0M365.9 172.0h2.0M345.4 183.5h2.0M323.2 189.5h2.0M343.9 183.1h2.0M326.4 188.8h2.0M343.9 179.1h2.0M363.8 172.4h2.0M350.8 181.3h2.0M369.3 174.0h2.0M342.3 185.0h2.0M352.2 177.6h2.0M327.3 184.8h2.0M348.0 185.2h2.0M332.7 185.8h2.0M350.2 184.0h2.0M373.8 179.1h2.0M371.4 171.9h2.0M352.2 179.2h2.0M369.3 177.3h2.0M347.7 182.5h2.0M347.7 177.7h2.0M339.3 187.9h2.0M351.9 181.4h2.0M322.8 189.8h2.0M338.7 181.6h2.0M365.5 173.4h2.0M327.5 188.9h2.0M362.9 176.4h2.0M339.0 180.9h2.0M330.0 186.9h2.0M339.1 186.7h2.0M383.7 171.3h2.0M355.2 183.1h2.0M327.2 191.1h2.0M375.4 172.5h2.0M359.3 178.7h2.0M352.0 176.6h2.0M356.6 181.4h2.0M340.7 184.9h2.0M333.4 185.1h2.0M352.0 176.8h2.0M381.1 172.5h2.0M376.6 174.4h2.0M372.8 179.5h2.0M333.8 180.9h2.0M338.1 183.3h2.0M321.5 190.3h2.0M338.7 188.5h2.0M341.5 182.2h2.0M334.2 185.1h2.0M382.4 171.7h2.0M381.6 173.7h2.0M324.3 189.5h2.0M366.5 177.0h2.0M345.2 184.6h2.0M365.9 180.6h2.0M364.9 172.8h2.0M356.2 175.3h2.0M335.9 186.4h2.0M330.8 182.7h2.0M379.4 171.2h2.0M363.7 172.3h2.0M350.3 181.2h2.0M331.8 179.5h2.0M380.0 173.8h2.0M328.8 183.1h2.0M366.3 180.5h2.0M341.2 188.6h2.0M381.0 175.4h2.0M370.6 173.0h2.0M354.1 177.0h2.0M340.3 182.1h2.0M369.1 175.5h2.0M357.9 180.9h2.0M356.2 182.2h2.0M319.7 191.4h2.0M336.8 183.7h2.0M341.5 181.3h2.0M327.7 186.8h2.0M365.3 177.1h2.0M362.2 176.0h2.0M326.0 186.1h2.0M373.2 174.1h2.0M338.5 180.1h2.0M369.4 174.7h2.0M339.9 182.0h2.0M331.2 179.6h2.0M326.3 187.1h2.0M365.6 177.7h2.0M357.4 176.6h2.0M325.8 187.9h2.0M331.2 190.1h2.0M339.3 180.1h2.0M357.0 177.6h2.0M370.7 173.0h2.0M339.5 184.0h2.0M365.3 178.5h2.0M364.2 181.1h2.0M328.0 186.1h2.0M366.4 176.4h2.0M354.2 184.2h2.0M334.2 185.8h2.0M359.2 184.3h2.0M353.8 182.5h2.0M360.4 178.3h2.0M349.7 181.4h2.0M330.7 191.5h2.0M325.5 183.7h2.0M340.8 187.9h2.0M331.5 187.6h2.0M355.1 187.4h2.0M337.7 184.0h2.0M385.7 170.9h2.0M338.4 189.9h2.0M329.2 185.1h2.0M350.5 180.3h2.0M359.2 180.2h2.0M335.3 182.3h2.0M352.9 183.2h2.0M341.0 181.0h2.0M331.8 190.8h2.0M343.7 182.9h2.0M383.6 172.6h2.0M341.4 182.8h2.0M371.4 175.8h2.0M347.1 179.6h2.0M345.7 181.1h2.0M352.0 181.7h2.0M352.7 175.4h2.0M363.8 183.1h2.0M343.3 181.0h2.0M346.7 186.5h2.0M339.8 190.0h2.0M350.9 175.5h2.0M331.5 188.0h2.0M353.8 180.7h2.0M374.1 175.1h2.0M356.9 170.6h2.0M354.7 181.5h2.0M351.6 181.4h2.0M335.3 186.5h2.0M346.1 179.1h2.0M345.3 183.7h2.0M367.9 172.6h2.0M367.1 176.5h2.0M359.2 186.3h2.0M360.3 180.2h2.0M324.5 189.1h2.0M358.1 182.9h2.0M340.2 179.7h2.0M353.9 184.8h2.0M364.5 171.5h2.0M321.9 190.5h2.0M327.5 187.8h2.0M353.8 181.6h2.0M373.1 174.6h2.0M335.0 186.0h2.0M326.9 190.5h2.0M352.6 183.8h2.0M367.6 177.0h2.0M332.5 186.2h2.0M345.9 182.9h2.0M360.2 180.0h2.0M324.1 189.0h2.0M348.2 181.9h2.0M377.3 171.9h2.0M381.3 168.4h2.0M351.7 183.3h2.0M374.4 170.6h2.0M352.3 184.6h2.0M350.6 182.7h2.0M373.1 170.1h2.0M345.9 179.0h2.0M325.4 188.4h2.0M334.4 183.6h2.0M365.7 180.2h2.0M382.6 173.1h2.0M349.9 179.5h2.0M356.7 171.1h2.0M340.1 183.3h2.0M325.4 186.5h2.0M343.8 181.1h2.0M358.1 187.2h2.0M373.9 173.1h2.0M339.1 182.5h2.0M350.0 185.6h2.0M359.0 177.0h2.0M349.4 177.7h2.0M363.6 183.3h2.0M367.3 180.5h2.0M341.3 181.2h2.0M340.8 174.7h2.0M340.4 187.0h2.0M369.2 176.5h2.0M373.4 173.5h2.0M361.3 173.1h2.0M350.3 185.0h2.0M363.2 173.6h2.0M349.2 179.2h2.0M382.2 173.0h2.0M363.9 175.1h2.0M338.4 179.8h2.0M340.3 181.5h2.0M320.6 189.9h2.0M326.6 186.8h2.0M329.1 189.1h2.0M369.3 178.3h2.0M320.0 191.1h2.0M358.6 181.7h2.0M341.6 186.7h2.0M334.8 183.1h2.0M356.0 173.9h2.0M363.1 176.3h2.0M368.2 175.5h2.0M365.7 180.7h2.0M320.7 190.6h2.0M352.1 188.5h2.0M378.0 173.9h2.0M346.0 185.4h2.0M368.4 177.3h2.0M332.1 190.6h2.0M329.8 183.7h2.0M374.0 175.5h2.0M379.7 173.6h2.0M347.3 182.3h2.0M320.7 190.6h2.0M350.4 180.0h2.0M330.4 189.8h2.0M342.7 186.1h2.0M371.6 170.7h2.0M352.2 180.0h2.0M353.7 178.5h2.0M335.7 183.6h2.0M346.3 176.7h2.0M330.3 189.4h2.0M334.6 184.1h2.0M369.7 170.1h2.0M338.1 184.2h2.0M333.9 187.9h2.0M323.6 191.3h2.0M334.5 183.4h2.0M334.5 189.1h2.0M351.7 176.9h2.0M344.3 182.4h2.0M368.2 175.3h2.0M341.6 180.9h2.0M335.0 179.8h2.0M343.5 185.4h2.0M323.8 188.5h2.0M374.1 173.8h2.0M332.6 179.7h2.0M367.1 180.4h2.0M374.6 173.5h2.0M360.1 180.8h2.0M339.8 182.8h2.0M354.8 182.3h2.0M348.1 175.4h2.0M348.5 182.4h2.0M362.4 178.0h2.0M323.9 190.8h2.0M369.4 178.5h2.0M366.2 177.1h2.0M365.1 176.1h2.0M350.8 183.1h2.0M362.3 176.1h2.0M328.8 184.2h2.0M356.9 182.5h2.0M376.0 178.1h2.0M380.1 174.4h2.0M335.9 179.2h2.0M335.2 186.5h2.0M361.7 176.9h2.0M358.8 177.3h2.0M363.6 183.5h2.0M346.0 175.2h2.0M332.6 190.6h2.0M336.3 181.5h2.0M346.5 180.6h2.0M369.1 173.4h2.0M378.6 177.8h2.0M348.5 186.3h2.0M322.8 188.1h2.0M334.6 188.6h2.0M354.7 185.6h2.0M325.2 188.1h2.0M335.8 187.8h2.0M383.3 168.5h2.0M381.4 174.0h2.0M358.8 174.7h2.0M347.6 181.7h2.0M378.4 175.4h2.0M334.1 188.0h2.0M334.8 186.5h2.0M370.8 180.7h2.0M355.7 179.3h2.0M380.1 169.0h2.0M328.1 188.0h2.0M348.1 181.6h2.0M336.5 181.5h2.0M345.4 183.5h2.0M354.4 183.7h2.0M361.4 179.5h2.0M348.9 178.9h2.0M321.4 190.9h2.0M366.0 175.5h2.0M324.0 190.5h2.0M324.4 191.1h2.0M339.8 185.5h2.0M354.1 178.9h2.0M325.4 188.9h2.0M335.4 187.9h2.0M341.6 186.4h2.0M351.2 181.7h2.0M372.9 178.3h2.0M358.4 178.1h2.0M346.9 182.3h2.0M361.5 174.6h2.0M362.7 174.7h2.0M329.1 182.6h2.0M373.4 175.2h2.0M326.8 188.3h2.0M321.7 191.4h2.0M329.0 190.0h2.0M366.8 178.5h2.0M339.4 183.4h2.0M379.3 171.5h2.0M324.1 189.5h2.0M361.4 176.7h2.0M363.3 172.3h2.0M367.6 174.0h2.0M325.1 189.5h2.0M371.3 176.8h2.0M340.1 187.0h2.0M344.6 181.5h2.0M372.4 181.0h2.0M342.0 181.2h2.0M345.8 181.8h2.0M372.8 175.6h2.0M347.9 183.2h2.0M376.5 173.3h2.0M357.4 185.3h2.0M383.6 169.7h2.0M366.6 172.5h2.0M344.4 184.3h2.0M369.5 177.8h2.0M369.3 171.9h2.0M351.0 180.8h2.0M365.4 178.4h2.0M359.4 177.1h2.0M370.8 175.4h2.0M329.2 181.3h2.0M351.1 182.6h2.0M331.9 185.6h2.0M345.9 178.2h2.0M351.9 177.9h2.0M361.5 179.6h2.0M363.3 175.0h2.0M350.7 181.6h2.0M374.9 177.1h2.0M345.7 183.1h2.0M359.1 177.2h2.0M351.4 184.2h2.0M373.2 174.8h2.0M342.6 184.4h2.0M369.1 175.4h2.0M373.2 179.4h2.0M371.3 176.1h2.0M375.9 176.0h2.0M377.9 171.2h2.0M360.0 182.4h2.0M325.8 189.5h2.0M358.7 179.1h2.0M349.3 189.4h2.0M368.5 173.7h2.0M331.5 186.7h2.0M325.2 188.1h2.0M332.6 183.4h2.0M319.8 191.3h2.0M342.9 180.2h2.0M363.9 176.7h2.0M347.4 186.3h2.0M350.0 182.5h2.0M352.1 183.0h2.0M345.2 183.2h2.0M356.8 175.9h2.0M376.3 172.5h2.0M341.9 187.0h2.0M377.2 173.9h2.0M359.3 176.0h2.0M334.6 182.5h2.0M329.3 191.5h2.0M335.7 184.3h2.0M320.2 190.7h2.0M342.9 177.7h2.0M357.9 179.5h2.0M333.3 189.3h2.0M336.0 191.0h2.0M323.8 185.9h2.0M328.2 184.5h2.0M364.7 183.0h2.0M327.9 186.8h2.0M362.0 170.8h2.0M363.2 180.5h2.0M370.4 176.5h2.0M344.1 184.9h2.0M339.8 184.6h2.0M321.3 189.7h2.0M334.4 186.5h2.0M375.1 174.1h2.0M382.2 170.2h2.0M369.4 174.9h2.0M331.1 176.5h2.0M361.4 181.3h2.0M353.1 179.8h2.0M360.4 180.2h2.0M364.9 175.8h2.0M341.5 184.5h2.0M323.4 187.9h2.0M366.6 179.2h2.0M345.1 182.4h2.0M367.6 171.3h2.0M338.6 180.3h2.0M350.0 177.5h2.0M349.9 174.8h2.0M338.2 181.7h2.0M322.4 189.5h2.0M341.3 181.4h2.0M350.8 178.9h2.0M368.5 171.9h2.0M322.4 190.0h2.0M371.2 175.4h2.0M341.1 183.1h2.0M365.8 173.5h2.0M330.0 186.9h2.0M355.0 180.9h2.0M356.8 178.9h2.0M360.8 180.6h2.0M377.0 173.4h2.0M382.9 171.8h2.0M329.7 189.7h2.0M366.8 171.2h2.0M382.7 172.6h2.0M333.2 188.2h2.0M370.6 178.1h2.0M329.7 190.7h2.0M342.0 186.0h2.0M376.6 175.4h2.0M363.2 177.4h2.0M361.8 180.0h2.0M346.3 183.2h2.0M330.3 184.5h2.0M347.1 184.6h2.0M337.3 182.2h2.0M352.0 176.0h2.0M331.7 188.6h2.0M331.0 186.2h2.0M340.0 186.4h2.0M339.0 185.8h2.0M356.5 180.8h2.0M341.4 185.6h2.0M323.5 187.0h2.0M340.1 182.3h2.0M334.7 183.8h2.0M374.5 175.0h2.0M351.3 180.2h2.0M332.2 187.9h2.0M353.4 176.1h2.0M357.2 179.3h2.0M326.5 188.1h2.0M369.0 178.6h2.0M339.9 179.8h2.0M365.8 180.0h2.0M354.5 176.1h2.0M367.6 174.6h2.0M357.3 185.4h2.0M362.9 187.4h2.0M339.4 183.6h2.0M324.8 191.5h2.0M368.4 173.6h2.0M363.6 171.6h2.0M339.3 175.9h2.0M322.1 188.8h2.0M362.0 179.5h2.0M372.5 174.1h2.0M352.3 184.0h2.0M358.5 185.5h2.0M325.5 188.0h2.0M327.4 188.4h2.0M348.4 186.1h2.0M322.2 188.3h2.0M358.1 174.1h2.0M326.9 187.8h2.0M338.3 178.6h2.0M358.8 175.0h2.0M321.8 190.8h2.0M340.5 183.8h2.0M320.6 191.2h2.0M357.3 177.2h2.0M328.3 184.4h2.0M362.7 185.1h2.0M386.1 172.2h2.0M349.9 176.1h2.0M354.0 184.6h2.0M346.6 186.5h2.0M334.1 184.2h2.0M360.3 174.8h2.0M354.4 184.5h2.0M336.7 186.4h2.0M367.0 176.5h2.0M365.0 179.8h2.0M368.1 171.4h2.0M342.7 183.4h2.0M358.2 181.2h2.0M379.4 175.6h2.0M352.3 179.2h2.0M336.2 184.5h2.0M351.9 181.3h2.0M359.5 176.7h2.0M378.3 173.7h2.0M336.8 181.5h2.0M335.5 189.8h2.0M322.1 188.7h2.0M352.4 179.5h2.0M378.0 173.5h2.0M330.6 191.1h2.0M362.5 181.4h2.0M371.8 175.3h2.0M360.6 177.8h2.0M360.7 178.5h2.0M347.9 183.7h2.0M326.2 190.4h2.0M367.2 178.3h2.0M367.4 175.9h2.0M331.9 191.5h2.0M366.3 177.1h2.0M369.2 180.7h2.0M346.2 188.5h2.0M323.8 190.6h2.0M320.3 190.6h2.0M331.0 187.9h2.0M321.8 189.9h2.0M384.0 168.5h2.0M350.0 180.6h2.0M327.8 187.9h2.0M368.1 179.9h2.0M331.8 190.9h2.0M341.4 181.1h2.0M337.8 185.2h2.0M377.9 174.6h2.0M356.3 176.3h2.0M320.2 190.9h2.0M348.9 178.9h2.0M350.1 184.0h2.0M364.7 178.2h2.0M364.7 174.4h2.0M332.3 184.3h2.0M365.6 174.1h2.0M382.3 173.3h2.0M374.9 173.0h2.0M340.6 191.0h2.0M377.2 172.9h2.0M327.9 190.4h2.0M340.4 185.3h2.0M372.1 172.0h2.0M343.0 181.0h2.0M321.1 191.1h2.0M323.6 186.2h2.0M346.8 178.2h2.0M326.7 186.8h2.0M322.8 191.0h2.0M324.6 189.1h2.0M333.6 186.9h2.0M368.1 178.0h2.0M326.1 188.1h2.0M366.4 181.5h2.0M372.7 174.7h2.0M356.1 183.1h2.0M362.0 177.3h2.0M320.6 189.3h2.0M376.1 178.9h2.0M380.1 170.5h2.0M347.6 180.1h2.0M374.6 177.4h2.0M354.2 185.8h2.0M371.3 174.6h2.0M357.8 185.5h2.0M356.3 175.6h2.0M338.7 180.1h2.0M364.9 172.9h2.0M355.5 177.9h2.0M324.8 187.0h2.0M358.3 176.6h2.0M339.6 180.7h2.0M325.5 190.6h2.0M350.7 182.9h2.0M330.0 188.5h2.0M349.6 182.4h2.0M332.7 181.8h2.0M380.6 173.2h2.0M343.1 184.1h2.0M364.8 180.4h2.0M341.2 191.2h2.0M380.2 174.4h2.0M359.6 176.2h2.0M357.6 181.6h2.0M344.8 184.1h2.0M347.1 175.9h2.0M328.0 187.4h2.0M339.2 181.9h2.0M354.3 173.5h2.0M348.1 179.5h2.0M367.5 175.7h2.0M349.3 171.7h2.0M351.1 183.2h2.0M327.7 186.6h2.0M349.1 178.3h2.0M372.0 177.6h2.0M340.0 182.5h2.0M356.8 185.3h2.0M331.1 185.1h2.0M356.2 187.0h2.0M342.3 180.5h2.0M323.0 187.6h2.0M348.3 178.7h2.0M365.5 179.6h2.0M351.9 191.4h2.0M332.4 186.2h2.0M323.8 188.2h2.0M363.6 177.0h2.0M347.3 182.3h2.0M381.4 172.3h2.0M333.4 182.0h2.0M344.8 183.8h2.0M328.2 185.9h2.0M352.3 176.6h2.0M355.7 184.6h2.0M355.6 181.5h2.0M341.0 185.9h2.0M328.2 184.5h2.0M384.8 171.5h2.0M341.2 183.8h2.0M349.8 180.6h2.0M369.3 177.2h2.0M336.1 190.3h2.0M343.3 187.6h2.0M339.3 184.7h2.0M323.3 189.6h2.0M344.6 182.2h2.0M337.8 176.7h2.0M357.0 183.9h2.0M380.2 170.7h2.0M326.4 188.7h2.0M344.0 184.3h2.0M353.8 179.9h2.0M341.9 186.3h2.0M324.0 188.1h2.0M323.9 189.2h2.0M344.9 180.3h2.0M367.6 180.0h2.0M334.9 181.0h2.0M355.1 180.9h2.0M327.4 188.3h2.0M328.6 191.3h2.0M342.4 186.8h2.0M338.9 187.5h2.0M372.9 174.2h2.0M332.8 187.5h2.0M384.4 170.2h2.0M340.5 178.9h2.0M369.1 176.4h2.0M343.6 185.4h2.0M375.1 171.8h2.0M354.4 183.2h2.0M321.4 191.4h2.0M340.8 189.8h2.0M362.6 176.8h2.0M332.3 184.8h2.0M361.7 177.8h2.0M359.5 177.7h2.0M353.8 180.3h2.0M369.7 179.7h2.0M330.7 187.4h2.0M327.7 188.4h2.0M381.0 172.0h2.0M352.6 178.7h2.0M340.5 182.0h2.0M341.2 183.3h2.0M350.3 176.3h2.0M363.8 183.9h2.0M337.5 186.4h2.0M361.1 178.3h2.0M377.8 173.7h2.0M348.1 178.1h2.0M342.1 183.1h2.0M346.9 182.5h2.0M357.1 180.5h2.0M339.6 182.5h2.0M341.8 188.1h2.0M369.4 176.1h2.0M321.9 190.9h2.0M341.9 183.8h2.0M328.3 186.1h2.0M357.5 176.1h2.0M347.6 183.2h2.0M373.2 174.1h2.0M367.0 179.6h2.0M339.2 183.0h2.0M343.2 175.6h2.0M353.7 180.8h2.0M333.7 185.6h2.0M330.5 184.0h2.0M349.2 182.4h2.0M332.5 186.0h2.0M331.1 186.5h2.0M338.2 186.7h2.0M364.4 175.8h2.0M324.5 189.3h2.0M345.8 173.8h2.0M383.0 169.8h2.0M367.7 175.7h2.0M350.9 183.0h2.0M347.1 183.5h2.0M331.9 186.3h2.0M343.2 186.6h2.0M328.5 183.9h2.0M335.2 184.3h2.0M340.6 179.5h2.0M349.2 184.0h2.0M358.2 180.4h2.0M335.5 179.4h2.0M380.2 172.2h2.0M342.4 181.2h2.0M348.2 183.5h2.0M333.8 191.3h2.0M353.1 174.6h2.0M342.8 185.4h2.0M324.6 188.8h2.0M366.1 171.9h2.0M353.1 177.4h2.0M358.3 180.2h2.0M333.5 180.6h2.0M355.2 177.8h2.0M329.0 190.0h2.0M365.7 176.7h2.0M371.2 175.2h2.0M353.8 184.7h2.0M339.7 183.9h2.0M342.8 187.6h2.0M352.4 179.2h2.0M386.2 174.9h2.0M344.5 182.5h2.0M347.8 186.5h2.0M378.2 173.6h2.0M358.9 183.2h2.0M325.2 186.8h2.0M350.3 172.5h2.0M336.5 191.2h2.0M350.6 186.7h2.0M328.1 190.5h2.0M328.6 184.1h2.0M319.7 189.8h2.0M364.8 175.4h2.0M373.5 173.7h2.0M384.1 173.2h2.0M365.1 175.5h2.0M372.5 176.9h2.0M323.8 189.5h2.0M372.4 177.6h2.0M346.5 178.6h2.0M353.3 184.2h2.0M336.7 181.1h2.0M343.3 190.8h2.0M362.4 176.9h2.0M329.0 181.5h2.0M361.4 174.4h2.0M334.4 179.6h2.0M378.2 171.0h2.0M373.9 172.7h2.0M375.8 177.2h2.0M330.9 186.6h2.0M364.0 178.9h2.0M331.1 189.9h2.0M365.9 176.5h2.0M362.5 181.0h2.0M330.5 188.4h2.0M322.7 187.4h2.0M347.8 181.3h2.0M356.4 171.2h2.0M347.6 180.3h2.0M366.9 175.4h2.0M345.9 185.5h2.0M337.4 183.2h2.0M341.7 181.6h2.0M329.9 185.7h2.0M355.7 177.5h2.0M351.0 177.9h2.0M332.0 189.3h2.0M343.0 187.6h2.0M340.6 183.7h2.0M374.1 179.1h2.0M367.9 176.6h2.0M352.5 185.4h2.0M333.3 183.5h2.0M348.3 186.6h2.0M358.8 177.7h2.0M335.2 183.8h2.0M380.4 171.7h2.0M332.0 181.7h2.0M370.5 173.9h2.0M345.0 181.6h2.0M373.1 177.0h2.0M356.3 177.0h2.0M336.1 182.2h2.0M362.4 183.0h2.0M320.0 190.9h2.0M349.7 183.4h2.0M365.9 173.2h2.0M376.1 174.1h2.0M352.7 181.6h2.0M377.4 175.1h2.0M342.3 182.9h2.0M371.4 179.3h2.0M326.2 186.5h2.0M336.3 184.1h2.0M360.3 178.2h2.0M352.3 183.6h2.0M354.8 184.0h2.0M372.6 176.1h2.0M337.5 185.4h2.0M362.8 179.2h2.0M321.6 191.2h2.0M348.0 183.0h2.0M351.6 180.3h2.0M364.6 182.6h2.0M370.0 176.3h2.0M370.2 176.6h2.0M339.8 184.7h2.0M382.0 173.0h2.0M343.9 185.2h2.0M336.8 187.1h2.0M375.2 175.6h2.0M348.1 180.3h2.0M363.0 174.6h2.0M340.7 189.2h2.0M325.4 186.3h2.0M367.7 178.4h2.0M367.2 183.0h2.0M342.1 179.6h2.0M373.9 170.1h2.0M338.4 191.3h2.0M332.2 187.5h2.0M379.0 171.8h2.0M353.6 176.8h2.0M325.7 191.3h2.0M352.8 180.6h2.0M349.0 186.5h2.0M366.1 175.9h2.0M325.6 189.5h2.0M351.4 178.6h2.0M350.6 177.7h2.0M322.1 191.4h2.0M330.8 184.1h2.0M321.5 191.0h2.0M340.3 185.3h2.0M326.6 187.9h2.0M320.5 190.6h2.0M341.3 186.6h2.0M365.7 180.3h2.0M339.3 181.0h2.0M356.5 176.4h2.0M376.9 171.8h2.0M365.5 178.1h2.0M367.0 175.8h2.0M358.5 183.5h2.0M326.9 188.7h2.0M338.3 185.9h2.0M372.3 173.8h2.0M359.8 177.9h2.0M355.6 182.6h2.0M378.1 175.4h2.0M386.2 175.0h2.0M367.9 178.1h2.0M332.9 185.5h2.0M326.6 189.0h2.0M375.9 177.4h2.0M345.4 186.6h2.0M352.5 181.7h2.0M354.2 184.6h2.0M342.8 184.8h2.0M323.1 189.8h2.0M364.3 178.0h2.0M335.9 181.8h2.0M371.2 175.1h2.0M342.1 183.0h2.0M377.3 176.2h2.0M373.6 179.0h2.0M336.7 184.4h2.0M350.2 185.2h2.0M343.5 183.4h2.0M373.5 173.5h2.0M336.1 186.3h2.0M338.5 179.6h2.0M332.7 187.5h2.0M343.4 185.4h2.0M331.1 187.4h2.0M366.3 172.7h2.0M369.8 177.1h2.0M320.9 191.6h2.0M371.6 176.3h2.0M356.7 184.0h2.0M342.3 178.9h2.0M326.7 183.8h2.0M357.3 175.4h2.0M381.5 174.5h2.0M327.5 186.4h2.0M370.0 171.3h2.0M352.5 191.0h2.0M361.0 179.1h2.0M341.1 182.1h2.0M338.3 178.8h2.0M351.8 184.8h2.0M355.8 181.6h2.0M355.0 182.5h2.0M321.1 191.4h2.0M357.3 178.1h2.0M364.2 177.5h2.0M335.6 184.3h2.0M341.7 186.9h2.0M382.9 170.2h2.0M334.4 187.8h2.0M331.3 191.3h2.0M349.3 182.4h2.0M348.3 178.5h2.0M341.8 185.1h2.0M325.7 187.8h2.0M361.0 179.2h2.0M331.8 188.0h2.0M371.0 180.9h2.0M344.8 181.8h2.0M325.8 184.5h2.0M355.4 187.5h2.0M363.3 177.5h2.0M341.5 187.4h2.0M324.8 186.4h2.0M375.0 174.2h2.0M360.6 188.9h2.0M342.6 186.5h2.0M360.9 174.4h2.0M341.2 178.2h2.0M372.0 175.0h2.0M363.2 175.7h2.0M330.8 178.5h2.0M326.1 185.2h2.0M375.5 174.9h2.0M339.9 186.6h2.0M360.2 177.3h2.0M350.5 179.5h2.0M332.4 187.1h2.0M381.4 172.1h2.0M328.5 189.1h2.0M349.8 182.1h2.0M371.8 175.0h2.0M331.7 186.7h2.0M325.7 183.1h2.0M342.0 181.0h2.0M361.8 179.3h2.0M377.8 173.9h2.0M325.6 184.2h2.0M346.5 183.3h2.0M365.5 173.8h2.0M332.4 189.9h2.0M331.4 185.7h2.0M376.8 173.1h2.0M371.9 172.4h2.0M350.5 184.7h2.0M322.6 187.2h2.0M324.0 187.6h2.0M356.4 184.5h2.0M375.9 173.2h2.0M365.3 177.0h2.0M377.8 171.4h2.0M338.3 182.7h2.0M378.9 172.8h2.0M349.4 181.8h2.0M367.5 180.0h2.0M330.1 189.2h2.0M327.3 188.4h2.0M330.9 186.8h2.0M329.7 189.2h2.0M364.2 176.7h2.0M364.0 174.7h2.0M325.2 188.3h2.0M323.7 189.2h2.0M333.9 188.5h2.0M376.7 175.1h2.0M334.9 183.2h2.0M386.4 173.0h2.0M328.5 190.2h2.0M339.2 182.6h2.0M341.0 178.7h2.0M377.8 173.9h2.0M381.9 174.0h2.0M356.8 177.6h2.0M356.8 181.0h2.0M383.5 172.6h2.0M348.5 181.8h2.0M383.4 170.8h2.0M346.6 181.1h2.0M369.9 171.3h2.0M373.6 172.4h2.0M363.6 179.9h2.0M381.5 171.3h2.0M354.9 181.3h2.0M330.8 188.1h2.0M385.7 170.2h2.0M369.8 178.3h2.0M357.7 180.2h2.0M343.6 190.5h2.0M383.1 168.7h2.0M341.4 188.8h2.0M326.6 189.7h2.0M373.9 175.3h2.0M378.9 173.3h2.0M357.1 172.9h2.0M359.9 179.9h2.0M366.7 176.2h2.0M369.6 175.5h2.0M339.6 182.1h2.0M330.5 190.2h2.0M320.6 189.9h2.0M327.0 189.1h2.0M358.8 176.9h2.0M356.4 173.4h2.0M347.1 186.8h2.0M373.8 176.5h2.0M358.0 180.8h2.0M327.3 189.7h2.0M356.7 179.5h2.0M331.7 185.3h2.0M364.7 180.7h2.0M364.3 175.2h2.0M334.0 184.8h2.0M358.2 174.8h2.0M347.9 182.3h2.0M329.9 187.5h2.0M347.7 178.1h2.0M352.6 176.4h2.0M345.1 185.9h2.0M373.5 175.3h2.0M371.0 177.1h2.0M363.8 176.0h2.0M331.0 191.6h2.0M376.2 174.7h2.0M358.6 183.3h2.0M352.8 183.2h2.0M321.7 190.2h2.0M347.1 187.1h2.0M334.6 185.3h2.0M361.1 175.0h2.0M360.4 184.6h2.0M344.9 182.1h2.0M330.4 188.1h2.0M345.0 179.7h2.0M322.7 189.0h2.0M349.7 180.9h2.0M377.7 173.9h2.0M365.1 183.3h2.0M356.1 180.1h2.0M367.8 179.5h2.0M353.9 175.1h2.0M350.7 182.9h2.0M345.4 180.2h2.0M351.2 178.0h2.0M319.8 191.5h2.0M335.4 182.4h2.0M351.0 182.4h2.0M330.1 188.7h2.0M350.6 182.4h2.0M360.4 176.9h2.0M331.3 184.1h2.0M366.3 177.2h2.0M346.7 181.0h2.0M332.6 186.0h2.0M327.3 186.0h2.0M350.6 180.6h2.0M383.0 172.0h2.0M354.7 181.0h2.0M346.1 185.6h2.0M319.8 190.9h2.0M335.4 180.5h2.0M364.0 174.9h2.0M383.9 172.1h2.0M330.5 183.1h2.0M351.0 180.1h2.0M361.1 176.2h2.0M335.8 182.2h2.0M354.4 178.6h2.0M373.2 173.5h2.0M336.3 186.8h2.0M338.5 183.7h2.0M337.5 173.6h2.0M353.5 176.9h2.0M375.8 177.2h2.0M374.6 176.9h2.0M376.2 172.3h2.0M321.9 188.0h2.0M336.9 182.9h2.0M357.1 179.2h2.0M345.3 181.1h2.0M324.8 188.6h2.0M324.5 187.0h2.0M379.4 174.5h2.0M336.4 188.8h2.0M334.8 183.6h2.0M360.3 185.3h2.0M343.0 180.8h2.0M367.6 174.0h2.0M344.0 184.2h2.0M374.8 173.7h2.0M341.2 185.9h2.0M375.1 177.3h2.0M346.6 178.8h2.0M350.2 187.1h2.0M351.4 174.8h2.0M359.6 170.2h2.0M350.8 185.2h2.0M331.7 181.7h2.0M348.7 186.6h2.0M337.4 181.2h2.0M324.6 191.5h2.0M366.9 178.2h2.0M374.9 174.1h2.0M367.0 179.5h2.0M361.9 182.9h2.0M350.4 178.6h2.0M359.3 183.3h2.0M338.1 181.8h2.0M381.9 171.3h2.0M322.2 189.0h2.0M319.9 191.4h2.0M336.3 185.9h2.0M377.2 176.1h2.0M353.6 177.0h2.0M361.2 178.7h2.0M335.0 184.7h2.0M340.0 184.4h2.0M368.5 176.2h2.0M374.8 174.8h2.0M347.1 185.0h2.0M364.5 177.7h2.0M363.0 179.0h2.0M374.8 177.1h2.0M377.9 171.4h2.0M372.3 180.7h2.0M345.7 181.7h2.0M348.5 177.9h2.0M361.1 179.7h2.0M345.8 182.4h2.0M363.0 183.0h2.0M361.5 176.3h2.0M327.8 187.4h2.0M375.4 173.2h2.0M349.0 181.9h2.0M365.2 177.9h2.0M336.4 185.4h2.0M330.0 184.8h2.0M338.4 183.4h2.0M380.7 175.3h2.0M338.0 182.1h2.0M334.4 188.5h2.0M352.1 178.4h2.0M325.3 189.1h2.0M364.0 170.6h2.0M357.9 175.7h2.0M356.4 175.3h2.0M322.0 190.9h2.0M374.5 174.0h2.0M360.7 177.1h2.0M372.4 176.4h2.0M383.1 171.0h2.0M347.3 183.0h2.0M361.5 179.3h2.0M325.0 188.4h2.0M355.8 178.1h2.0M329.8 190.4h2.0M340.6 182.1h2.0M365.1 178.1h2.0M346.9 179.2h2.0M353.3 183.5h2.0M345.8 185.6h2.0M321.5 189.7h2.0M376.7 172.7h2.0M358.7 177.1h2.0M340.7 184.3h2.0M375.4 175.4h2.0M329.0 182.7h2.0M374.1 176.0h2.0M365.8 175.0h2.0M335.7 183.5h2.0M334.3 184.0h2.0M363.3 176.4h2.0M368.2 173.7h2.0M351.1 185.2h2.0M343.5 184.5h2.0M346.2 187.2h2.0M359.8 180.2h2.0M328.0 186.1h2.0M372.1 179.0h2.0M339.0 189.0h2.0M362.1 178.2h2.0M363.5 175.6h2.0M343.4 179.0h2.0M357.9 170.0h2.0M359.5 158.7h2.0M350.1 170.6h2.0M333.3 168.5h2.0M358.0 155.8h2.0M355.8 161.3h2.0M365.5 153.9h2.0M347.2 152.0h2.0M342.2 169.2h2.0M348.8 175.4h2.0M350.7 160.4h2.0M356.4 153.3h2.0M336.7 169.7h2.0M340.6 171.2h2.0M359.3 165.8h2.0M341.3 163.8h2.0M340.9 173.8h2.0M325.2 186.1h2.0M362.6 164.2h2.0M336.2 166.4h2.0M334.4 182.9h2.0M342.7 176.8h2.0M332.8 184.0h2.0M351.8 160.2h2.0M337.3 171.4h2.0M328.1 186.0h2.0M329.5 183.5h2.0M336.1 183.1h2.0M343.5 188.5h2.0M338.8 177.2h2.0M368.0 145.2h2.0M341.0 168.7h2.0M332.9 177.7h2.0M344.8 183.9h2.0M348.3 173.9h2.0M335.8 190.1h2.0M359.7 150.5h2.0M348.8 170.8h2.0M364.0 147.5h2.0M356.6 157.3h2.0M346.9 168.6h2.0M327.2 185.1h2.0M342.7 181.4h2.0M349.3 168.9h2.0M336.5 190.3h2.0M360.6 147.6h2.0M329.9 179.4h2.0M330.7 177.1h2.0M332.4 178.8h2.0M357.4 164.3h2.0M354.3 168.2h2.0M332.9 183.4h2.0M333.2 170.9h2.0M340.9 168.2h2.0M336.0 163.8h2.0M344.6 167.6h2.0M347.1 166.3h2.0M363.4 161.0h2.0M342.6 164.6h2.0M352.0 173.0h2.0M362.2 165.3h2.0M333.3 173.4h2.0M357.2 190.5h2.0M349.4 163.3h2.0M340.1 156.6h2.0M325.2 186.4h2.0M351.7 146.0h2.0M353.7 170.4h2.0M334.7 177.3h2.0M326.9 178.1h2.0M332.2 176.9h2.0M336.8 184.8h2.0M344.2 177.5h2.0M343.1 185.1h2.0M344.5 174.7h2.0M359.5 171.8h2.0M357.2 178.2h2.0M357.9 165.0h2.0M343.4 149.9h2.0M336.5 161.7h2.0M353.9 156.4h2.0M332.1 187.6h2.0M331.1 175.2h2.0M343.0 172.9h2.0M339.5 183.8h2.0M344.4 166.5h2.0M367.4 147.9h2.0M347.8 163.1h2.0M360.3 183.0h2.0M349.4 169.2h2.0M344.0 180.1h2.0M348.7 191.5h2.0M335.9 171.2h2.0M341.8 182.6h2.0M327.6 183.6h2.0M357.7 169.9h2.0M352.9 186.8h2.0M359.3 172.3h2.0M337.4 167.3h2.0M362.6 164.5h2.0M351.7 153.3h2.0M330.8 177.1h2.0M342.7 180.4h2.0M361.2 159.6h2.0M339.7 171.7h2.0M325.2 179.6h2.0M361.4 153.4h2.0M351.8 174.1h2.0M398.0 176.3h2.0M391.6 162.6h2.0M388.0 168.3h2.0M390.5 168.3h2.0M390.6 166.0h2.0M400.1 159.0h2.0M400.8 162.4h2.0M398.9 162.5h2.0M399.6 170.4h2.0M385.6 160.9h2.0M393.0 166.8h2.0M384.2 171.2h2.0M394.6 169.4h2.0M393.8 170.9h2.0M391.1 163.8h2.0M390.8 174.3h2.0M390.7 169.6h2.0M384.5 175.5h2.0M397.2 168.3h2.0M385.8 172.2h2.0M386.3 178.8h2.0M400.7 169.7h2.0M387.6 173.8h2.0M397.1 171.2h2.0M387.6 174.8h2.0M389.0 166.2h2.0M400.2 165.3h2.0M383.4 160.5h2.0M399.9 171.9h2.0M393.2 165.5h2.0M449.0 60.5h2.0M358.0 90.4h2.0M403.5 86.8h2.0M346.0 118.0h2.0M347.0 121.9h2.0M369.7 114.1h2.0M381.4 114.7h2.0M433.7 117.0h2.0M405.7 122.8h2.0M423.0 129.3h2.0M364.2 132.0h2.0M395.7 130.3h2.0M402.5 129.3h2.0M402.2 132.6h2.0M394.7 135.8h2.0M365.1 136.8h2.0M369.0 140.7h2.0M387.6 137.5h2.0M377.5 141.4h2.0M408.0 142.7h2.0M337.2 148.2h2.0M339.8 150.5h2.0M345.0 147.2h2.0M361.2 148.8h2.0M363.5 152.1h2.0M388.2 147.2h2.0M387.6 151.1h2.0M374.2 146.6h2.0M381.7 151.1h2.0M394.7 156.0h2.0M410.9 158.0h2.0M405.7 160.2h2.0M421.6 166.0h2.0M438.2 167.4h2.0M445.4 165.1h2.0M401.5 176.5h2.0M382.4 185.5h2.0" stroke="#000" stroke-width="2" fill="none"/>
<path d="M320.3 191.6V26.98999999999998H485.1V191.6H320.3" fill="none" stroke="#000" stroke-width="1.6"/>
<path d="M320.3 191.6v6.5M402.7 191.6v6.5M485.1 191.6v6.5M320.3 191.6h-6.5M320.3 136.7h-6.5M320.3 81.9h-6.5M320.3 27.0h-6.5" stroke="#000" stroke-width="1.6"/>
<text x="320.3" y="212.6" font-size="12" font-weight="bold" text-anchor="middle" >0</text>
<text x="402.7" y="212.6" font-size="12" font-weight="bold" text-anchor="middle" >5</text>
<text x="485.1" y="212.6" font-size="12" font-weight="bold" text-anchor="middle" >10</text>
<text x="310.8" y="195.9" font-size="12" font-weight="bold" text-anchor="end" >0</text>
<text x="310.8" y="141.0" font-size="12" font-weight="bold" text-anchor="end" >10</text>
<text x="310.8" y="86.2" font-size="12" font-weight="bold" text-anchor="end" >20</text>
<text x="310.8" y="31.3" font-size="12" font-weight="bold" text-anchor="end" >30</text>
<text x="402.7" y="226.8" font-size="15" font-weight="bold" text-anchor="middle">N-SH2<tspan font-size="11" dy="-6">WT</tspan></text>
<text x="402.7" y="242.8" font-size="13.8" text-anchor="middle">enrichment (f<tspan font-size="10.4" dy="3">selected</tspan><tspan dy="-3">/f</tspan><tspan font-size="8.8" dy="3">input</tspan><tspan dy="-3" dx="1">)</tspan></text>
<text transform="translate(277.5,144.7) rotate(-90)" font-size="14.4" font-weight="bold">N-SH2<tspan font-size="10.6" dy="-5.8">L43F</tspan></text>
<text transform="translate(292.3,109.3) rotate(-90)" font-size="13.8" text-anchor="middle">enrichment (f<tspan font-size="10.4" dy="3">selected</tspan><tspan dy="-3">/f</tspan><tspan font-size="8.8" dy="3">input</tspan><tspan dy="-3" dx="1">)</tspan></text>
<text x="402.7" y="19.8" font-size="15" font-weight="bold" text-anchor="middle">N-SH2<tspan font-size="11" dy="-6">WT</tspan><tspan dy="6"> vs N-SH2</tspan><tspan font-size="11" dy="-6">L43F</tspan></text>
<line x1="585.4" y1="191.6" x2="750.2" y2="136.7" stroke="#ff2020" stroke-width="1.2"/>
<clipPath id="cC"><rect x="585.4" y="26.98999999999998" width="164.80000000000007" height="164.61"/></clipPath>
<path clip-path="url(#cC)" d="M611.0 179.9h2.0M622.6 180.7h2.0M625.6 179.8h2.0M623.7 178.9h2.0M593.5 182.8h2.0M602.4 189.0h2.0M586.0 190.4h2.0M586.0 190.2h2.0M620.1 179.0h2.0M624.1 176.1h2.0M625.8 182.6h2.0M625.5 177.9h2.0M609.5 187.1h2.0M596.0 185.5h2.0M618.3 181.3h2.0M594.2 185.6h2.0M624.2 171.0h2.0M628.3 181.4h2.0M633.9 176.8h2.0M633.8 171.6h2.0M587.1 187.8h2.0M585.6 190.9h2.0M640.3 177.9h2.0M649.5 169.2h2.0M639.0 176.7h2.0M636.9 172.2h2.0M597.0 191.4h2.0M593.9 186.0h2.0M645.4 174.5h2.0M590.7 187.0h2.0M638.0 174.1h2.0M635.3 179.7h2.0M621.4 174.4h2.0M602.3 188.0h2.0M604.8 181.4h2.0M625.9 177.8h2.0M586.8 190.8h2.0M640.5 175.0h2.0M631.6 178.5h2.0M618.7 175.2h2.0M608.4 185.6h2.0M624.7 171.0h2.0M641.1 171.9h2.0M600.7 184.4h2.0M628.9 179.5h2.0M595.3 184.1h2.0M627.2 177.3h2.0M609.0 182.5h2.0M628.0 178.2h2.0M601.3 187.2h2.0M600.4 186.5h2.0M625.0 179.4h2.0M604.3 181.4h2.0M594.6 183.0h2.0M596.2 184.1h2.0M615.3 182.1h2.0M616.3 181.2h2.0M609.0 191.2h2.0M610.5 184.2h2.0M617.7 185.3h2.0M629.6 174.7h2.0M617.2 179.8h2.0M606.1 182.4h2.0M634.5 173.0h2.0M608.1 180.8h2.0M623.9 183.9h2.0M623.9 178.4h2.0M592.1 187.3h2.0M609.3 189.2h2.0M621.2 174.9h2.0M630.2 179.0h2.0M604.5 181.9h2.0M641.2 172.6h2.0M594.8 185.6h2.0M635.5 171.9h2.0M636.8 180.1h2.0M594.1 184.9h2.0M636.9 174.5h2.0M586.1 189.8h2.0M639.0 172.5h2.0M600.1 185.4h2.0M621.6 181.2h2.0M606.9 179.9h2.0M590.6 190.8h2.0M601.0 189.4h2.0M604.1 184.1h2.0M599.4 189.3h2.0M612.9 183.3h2.0M628.6 176.2h2.0M598.9 184.5h2.0M594.2 179.1h2.0M589.0 189.4h2.0M586.7 190.2h2.0M586.1 191.3h2.0M606.3 189.3h2.0M623.9 175.3h2.0M607.1 183.1h2.0M600.8 179.3h2.0M593.4 180.8h2.0M609.5 174.7h2.0M595.7 188.0h2.0M606.4 180.1h2.0M593.1 184.0h2.0M604.5 183.5h2.0M643.2 170.1h2.0M623.7 177.2h2.0M600.0 180.2h2.0M616.9 187.5h2.0M620.9 179.4h2.0M634.5 175.3h2.0M634.7 174.5h2.0M642.0 177.1h2.0M627.6 171.5h2.0M632.7 172.4h2.0M615.6 179.3h2.0M639.4 177.8h2.0M609.4 179.8h2.0M604.0 185.1h2.0M630.1 177.7h2.0M619.9 180.7h2.0M614.4 177.3h2.0M640.2 173.4h2.0M632.6 177.4h2.0M604.2 187.3h2.0M631.5 180.1h2.0M600.5 191.4h2.0M617.5 178.3h2.0M600.5 189.4h2.0M615.8 177.4h2.0M604.9 188.3h2.0M613.3 184.2h2.0M619.1 181.5h2.0M586.4 191.4h2.0M608.6 183.6h2.0M607.8 183.4h2.0M625.3 176.0h2.0M630.6 177.4h2.0M605.1 186.4h2.0M623.2 171.8h2.0M617.3 181.3h2.0M615.3 183.2h2.0M610.1 179.3h2.0M634.2 173.9h2.0M633.3 175.8h2.0M609.9 187.7h2.0M586.7 188.2h2.0M592.6 184.6h2.0M632.8 180.6h2.0M592.6 187.0h2.0M613.4 185.0h2.0M627.5 180.7h2.0M614.6 188.9h2.0M597.9 191.3h2.0M610.0 182.2h2.0M630.9 186.5h2.0M590.3 188.3h2.0M616.2 179.7h2.0M598.4 186.3h2.0M609.5 188.9h2.0M606.2 184.1h2.0M634.8 173.3h2.0M611.9 185.7h2.0M605.8 178.5h2.0M628.4 175.2h2.0M635.8 176.4h2.0M618.5 173.7h2.0M616.9 186.3h2.0M612.7 172.1h2.0M618.0 177.5h2.0M648.2 170.8h2.0M642.0 168.9h2.0M611.3 180.9h2.0M592.7 191.0h2.0M617.9 182.4h2.0M592.2 190.4h2.0M636.6 170.7h2.0M619.2 182.0h2.0M608.2 185.7h2.0M619.2 180.1h2.0M591.8 184.8h2.0M628.8 179.7h2.0M603.6 181.8h2.0M648.0 174.3h2.0M586.8 191.5h2.0M594.5 184.3h2.0M601.1 188.3h2.0M597.3 190.4h2.0M614.2 180.6h2.0M595.4 190.5h2.0M596.3 189.0h2.0M644.8 174.5h2.0M628.8 174.1h2.0M631.9 178.3h2.0M611.8 168.9h2.0M608.5 182.5h2.0M603.6 181.9h2.0M622.6 172.6h2.0M609.8 186.4h2.0M599.6 190.4h2.0M622.5 180.8h2.0M637.0 179.7h2.0M638.8 182.5h2.0M631.0 175.0h2.0M606.5 191.4h2.0M600.1 183.9h2.0M629.9 176.2h2.0M609.4 178.9h2.0M599.4 183.7h2.0M642.2 174.1h2.0M603.9 191.0h2.0M589.4 189.0h2.0M607.3 177.4h2.0M587.6 188.7h2.0M636.1 178.0h2.0M643.3 177.9h2.0M610.1 188.6h2.0M604.5 181.2h2.0M592.3 188.0h2.0M601.4 183.7h2.0M608.8 177.9h2.0M632.0 175.1h2.0M601.7 189.8h2.0M641.6 173.3h2.0M600.9 181.2h2.0M649.0 172.8h2.0M588.7 188.5h2.0M631.9 173.0h2.0M609.6 180.5h2.0M612.4 181.6h2.0M588.9 190.1h2.0M588.7 188.1h2.0M617.8 182.6h2.0M588.4 191.5h2.0M604.2 186.6h2.0M608.3 189.2h2.0M602.1 182.1h2.0M612.5 185.9h2.0M591.5 185.7h2.0M620.4 171.7h2.0M590.9 191.5h2.0M600.6 178.8h2.0M594.2 191.3h2.0M616.2 180.6h2.0M621.8 175.9h2.0M629.8 184.1h2.0M641.2 172.4h2.0M632.2 174.4h2.0M592.2 187.1h2.0M599.6 185.0h2.0M621.1 175.4h2.0M642.7 175.1h2.0M590.2 185.9h2.0M606.9 182.8h2.0M618.7 186.3h2.0M647.5 174.8h2.0M631.0 183.2h2.0M586.1 191.1h2.0M603.4 186.0h2.0M626.9 179.8h2.0M602.1 185.6h2.0M639.6 173.7h2.0M614.0 187.7h2.0M597.0 180.0h2.0M594.3 186.7h2.0M616.7 187.1h2.0M600.0 187.4h2.0M634.2 175.6h2.0M623.7 182.6h2.0M605.2 186.2h2.0M612.0 179.0h2.0M586.6 187.9h2.0M601.2 183.2h2.0M603.1 184.5h2.0M619.5 177.0h2.0M610.4 184.0h2.0M595.6 182.0h2.0M610.8 182.0h2.0M628.8 173.9h2.0M611.4 177.0h2.0M635.1 171.2h2.0M616.9 181.3h2.0M622.3 179.8h2.0M612.3 180.3h2.0M585.6 191.6h2.0M648.9 174.0h2.0M590.7 189.8h2.0M596.2 181.1h2.0M608.3 189.3h2.0M596.2 191.3h2.0M640.3 172.9h2.0M615.8 182.9h2.0M639.2 171.5h2.0M639.1 176.4h2.0M634.2 178.8h2.0M634.6 177.7h2.0M607.7 187.6h2.0M604.7 182.2h2.0M605.7 180.3h2.0M615.2 184.0h2.0M617.8 179.5h2.0M602.8 187.6h2.0M622.1 179.1h2.0M642.9 176.0h2.0M624.1 181.4h2.0M592.8 188.7h2.0M597.5 191.2h2.0M632.8 173.3h2.0M622.4 188.3h2.0M630.6 171.9h2.0M624.8 183.5h2.0M587.7 189.4h2.0M594.5 187.4h2.0M601.5 187.6h2.0M596.1 191.5h2.0M623.7 187.2h2.0M647.1 173.2h2.0M597.1 183.5h2.0M597.5 186.5h2.0M643.0 172.0h2.0M586.2 188.7h2.0M621.3 179.9h2.0M621.5 182.9h2.0M641.5 181.0h2.0M602.8 183.6h2.0M629.4 180.7h2.0M617.1 186.0h2.0M629.3 172.7h2.0M609.5 179.5h2.0M604.4 182.1h2.0M590.7 188.5h2.0M641.3 172.0h2.0M594.9 184.6h2.0M640.7 175.2h2.0M591.6 190.4h2.0M598.4 189.4h2.0M592.0 191.5h2.0M628.4 182.5h2.0M614.6 180.4h2.0M592.7 191.4h2.0M623.1 175.4h2.0M616.3 181.9h2.0M620.6 178.2h2.0M614.0 178.5h2.0M649.2 172.5h2.0M602.0 179.2h2.0M635.9 170.4h2.0M601.2 182.0h2.0M632.9 172.8h2.0M595.2 178.3h2.0M593.9 185.4h2.0M594.6 186.1h2.0M620.9 181.0h2.0M610.1 177.3h2.0M644.3 175.0h2.0M588.5 191.2h2.0M623.5 180.4h2.0M638.3 175.8h2.0M599.8 189.2h2.0M606.0 184.1h2.0M637.8 172.6h2.0M629.1 173.9h2.0M609.0 184.5h2.0M590.3 185.8h2.0M613.3 176.6h2.0M639.8 179.4h2.0M617.7 171.6h2.0M587.4 191.1h2.0M600.5 188.9h2.0M617.2 177.6h2.0M630.8 173.7h2.0M613.4 188.1h2.0M590.8 189.4h2.0M601.9 189.1h2.0M620.2 186.7h2.0M614.5 186.7h2.0M591.0 187.7h2.0M601.1 191.5h2.0M618.0 184.5h2.0M589.5 185.5h2.0M625.9 180.1h2.0M645.7 172.9h2.0M603.5 189.7h2.0M603.8 182.6h2.0M632.0 178.7h2.0M626.3 185.4h2.0M587.6 186.5h2.0M623.6 182.2h2.0M595.1 179.5h2.0M616.1 188.5h2.0M609.4 183.9h2.0M641.3 172.5h2.0M634.3 182.2h2.0M620.8 171.8h2.0M647.9 172.3h2.0M644.5 172.4h2.0M588.7 186.9h2.0M598.3 182.6h2.0M620.9 170.1h2.0M628.6 174.5h2.0M592.4 189.4h2.0M644.1 171.2h2.0M600.9 185.1h2.0M594.6 190.3h2.0M591.0 188.1h2.0M610.7 185.2h2.0M647.3 172.7h2.0M603.9 178.5h2.0M602.3 181.8h2.0M616.8 178.2h2.0M631.6 176.4h2.0M607.3 183.5h2.0M612.7 186.8h2.0M614.3 183.6h2.0M616.4 176.8h2.0M619.7 174.4h2.0M611.6 180.9h2.0M620.0 179.6h2.0M600.4 185.7h2.0M602.3 184.6h2.0M602.4 190.6h2.0M629.1 184.4h2.0M633.3 175.5h2.0M609.3 175.8h2.0M623.2 177.7h2.0M628.6 181.2h2.0M607.1 176.8h2.0M603.0 183.3h2.0M590.7 188.5h2.0M602.0 178.6h2.0M646.0 175.2h2.0M623.7 180.7h2.0M597.0 182.5h2.0M596.8 188.5h2.0M635.2 174.8h2.0M629.9 186.8h2.0M646.9 173.3h2.0M638.5 173.1h2.0M637.8 175.7h2.0M594.3 187.9h2.0M627.9 183.2h2.0M595.4 188.1h2.0M597.3 191.2h2.0M616.1 179.6h2.0M599.7 184.5h2.0M647.3 173.7h2.0M614.6 177.5h2.0M612.1 177.0h2.0M600.4 191.1h2.0M615.9 181.6h2.0M620.6 176.8h2.0M636.2 179.6h2.0M607.8 180.4h2.0M593.7 184.3h2.0M648.3 170.8h2.0M636.9 173.3h2.0M612.9 175.3h2.0M638.0 171.4h2.0M614.5 181.1h2.0M604.6 183.7h2.0M634.8 175.5h2.0M584.7 189.6h2.0M614.0 183.1h2.0M617.6 180.2h2.0M623.5 187.4h2.0M589.8 187.7h2.0M600.6 180.4h2.0M612.8 178.5h2.0M621.8 177.6h2.0M605.4 183.3h2.0M617.0 180.8h2.0M613.9 180.8h2.0M601.8 181.2h2.0M619.3 184.2h2.0M621.2 187.6h2.0M611.9 184.4h2.0M618.0 183.8h2.0M640.9 174.3h2.0M625.4 178.4h2.0M640.7 177.4h2.0M601.6 185.2h2.0M600.3 178.2h2.0M624.3 178.8h2.0M640.0 175.5h2.0M633.8 176.2h2.0M606.8 182.8h2.0M605.9 181.8h2.0M613.3 175.4h2.0M626.0 176.0h2.0M597.2 191.3h2.0M587.5 189.4h2.0M593.5 190.5h2.0M647.9 171.5h2.0M616.2 182.0h2.0M591.0 185.1h2.0M628.5 176.2h2.0M630.1 177.5h2.0M614.2 183.2h2.0M595.0 187.5h2.0M615.2 176.9h2.0M626.0 179.2h2.0M609.8 177.8h2.0M604.6 180.3h2.0M614.3 183.2h2.0M636.1 175.6h2.0M605.6 182.8h2.0M616.3 172.6h2.0M605.5 181.2h2.0M591.9 182.0h2.0M601.3 177.7h2.0M624.9 175.6h2.0M605.7 181.9h2.0M618.7 183.1h2.0M623.3 175.6h2.0M635.9 173.4h2.0M589.5 187.7h2.0M623.6 176.9h2.0M618.3 178.0h2.0M599.9 191.5h2.0M622.8 183.5h2.0M618.7 182.0h2.0M601.7 178.1h2.0M622.2 177.6h2.0M610.4 182.0h2.0M639.4 174.9h2.0M647.0 170.7h2.0M604.5 180.5h2.0M607.1 189.2h2.0M645.0 173.4h2.0M643.2 172.3h2.0M615.1 184.0h2.0M589.8 190.5h2.0M615.4 179.5h2.0M596.2 185.5h2.0M587.5 189.2h2.0M618.8 181.0h2.0M588.9 187.6h2.0M645.9 172.4h2.0M640.6 173.2h2.0M636.4 180.1h2.0M589.1 190.8h2.0M637.9 179.2h2.0M613.8 178.0h2.0M612.9 184.1h2.0M592.9 188.4h2.0M592.8 191.3h2.0M605.4 185.1h2.0M624.0 174.2h2.0M599.5 183.1h2.0M639.2 176.2h2.0M608.9 179.2h2.0M602.8 191.1h2.0M629.6 177.2h2.0M632.9 178.0h2.0M632.3 175.3h2.0M628.7 183.2h2.0M633.8 177.1h2.0M623.2 175.1h2.0M624.8 178.8h2.0M637.7 168.9h2.0M629.0 175.4h2.0M595.6 185.6h2.0M610.5 182.4h2.0M647.7 173.7h2.0M588.4 185.9h2.0M613.5 184.8h2.0M646.2 174.6h2.0M606.2 179.4h2.0M626.0 179.8h2.0M633.1 180.7h2.0M633.6 176.5h2.0M633.2 177.8h2.0M618.7 177.4h2.0M630.1 172.5h2.0M623.2 182.5h2.0M602.3 183.5h2.0M588.8 189.4h2.0M611.7 185.3h2.0M627.2 181.0h2.0M631.9 176.8h2.0M617.9 188.0h2.0M634.1 175.8h2.0M606.6 180.7h2.0M608.0 184.2h2.0M617.6 184.3h2.0M614.7 182.0h2.0M612.1 177.5h2.0M601.4 186.6h2.0M602.4 183.4h2.0M612.2 185.4h2.0M593.4 182.1h2.0M596.1 184.5h2.0M611.5 189.3h2.0M610.0 185.9h2.0M610.2 180.2h2.0M646.2 178.0h2.0M607.0 182.1h2.0M628.7 172.4h2.0M595.3 186.4h2.0M601.0 184.8h2.0M601.6 186.0h2.0M587.6 191.2h2.0M618.2 180.9h2.0M589.0 188.6h2.0M615.5 182.9h2.0M610.9 182.7h2.0M631.2 179.8h2.0M625.9 185.9h2.0M600.8 185.2h2.0M598.4 184.8h2.0M631.1 176.7h2.0M597.1 185.6h2.0M602.0 185.3h2.0M589.4 189.1h2.0M599.2 183.2h2.0M591.7 191.6h2.0M641.9 173.4h2.0M635.5 173.2h2.0M620.9 183.4h2.0M633.0 178.7h2.0M633.7 172.5h2.0M609.3 179.4h2.0M601.1 190.6h2.0M632.4 173.2h2.0M590.7 187.2h2.0M597.9 184.0h2.0M607.7 177.7h2.0M630.0 169.4h2.0M604.5 190.2h2.0M608.2 178.4h2.0M630.2 183.3h2.0M611.1 185.6h2.0M596.4 185.4h2.0M605.0 184.4h2.0M622.0 174.5h2.0M609.1 183.9h2.0M603.7 191.4h2.0M607.3 183.8h2.0M627.9 179.0h2.0M616.3 188.7h2.0M631.4 185.7h2.0M605.4 187.6h2.0M601.2 182.9h2.0M608.6 186.5h2.0M624.3 185.4h2.0M601.9 191.2h2.0M587.7 191.5h2.0M601.9 179.4h2.0M616.6 173.6h2.0M599.1 184.2h2.0M622.2 181.3h2.0M623.5 168.6h2.0M585.8 191.3h2.0M610.4 179.8h2.0M589.8 186.9h2.0M629.1 171.1h2.0M646.4 174.7h2.0M603.8 185.9h2.0M590.1 191.5h2.0M590.5 190.4h2.0M639.1 176.3h2.0M606.1 185.2h2.0M638.0 175.3h2.0M600.4 187.9h2.0M617.2 178.3h2.0M604.1 184.0h2.0M626.0 177.2h2.0M599.6 185.1h2.0M648.8 173.0h2.0M600.1 191.6h2.0M650.0 177.6h2.0M598.2 190.1h2.0M624.1 178.6h2.0M620.8 177.6h2.0M606.9 186.5h2.0M627.7 182.0h2.0M598.5 180.3h2.0M650.1 172.9h2.0M641.1 171.4h2.0M595.4 183.5h2.0M598.1 183.7h2.0M586.4 189.2h2.0M618.9 181.3h2.0M596.4 191.4h2.0M629.4 178.4h2.0M602.1 182.4h2.0M625.7 183.4h2.0M593.9 185.3h2.0M630.4 182.4h2.0M623.1 181.4h2.0M617.3 183.0h2.0M594.0 191.2h2.0M603.5 185.2h2.0M597.0 191.2h2.0M631.6 180.0h2.0M631.8 175.0h2.0M587.2 189.6h2.0M607.3 188.1h2.0M594.8 184.6h2.0M627.8 179.5h2.0M629.7 177.2h2.0M607.2 186.7h2.0M629.7 180.7h2.0M636.5 175.8h2.0M629.3 176.5h2.0M627.7 175.2h2.0M589.0 185.1h2.0M585.6 190.4h2.0M643.5 170.6h2.0M635.1 175.3h2.0M600.5 182.8h2.0M611.5 176.0h2.0M608.4 191.3h2.0M619.2 184.8h2.0M608.3 191.2h2.0M616.3 180.8h2.0M615.4 174.2h2.0M611.1 180.1h2.0M617.3 182.3h2.0M626.6 181.2h2.0M628.1 179.7h2.0M630.1 173.3h2.0M645.4 172.8h2.0M607.0 181.9h2.0M598.4 185.1h2.0M587.0 188.0h2.0M619.9 178.4h2.0M628.8 177.9h2.0M596.2 189.5h2.0M619.8 176.8h2.0M601.4 185.3h2.0M638.7 180.7h2.0M597.6 180.0h2.0M598.9 179.4h2.0M612.7 179.4h2.0M590.1 189.0h2.0M633.1 180.0h2.0M602.2 188.1h2.0M611.5 179.8h2.0M596.1 181.2h2.0M597.1 186.1h2.0M600.0 186.0h2.0M598.0 190.4h2.0M612.2 178.8h2.0M645.3 171.0h2.0M610.4 181.8h2.0M638.3 181.9h2.0M624.3 176.2h2.0M641.6 175.0h2.0M617.0 184.8h2.0M596.3 186.5h2.0M639.1 174.3h2.0M632.0 174.9h2.0M588.1 191.2h2.0M626.6 173.3h2.0M608.8 185.8h2.0M586.5 191.1h2.0M590.9 184.4h2.0M587.3 189.7h2.0M644.9 176.1h2.0M615.0 182.8h2.0M603.3 183.6h2.0M632.0 180.0h2.0M635.1 177.5h2.0M623.9 182.9h2.0M640.6 176.6h2.0M613.6 176.9h2.0M618.4 181.5h2.0M631.1 177.4h2.0M601.5 179.8h2.0M623.9 170.8h2.0M623.5 176.7h2.0M632.7 168.2h2.0M608.2 178.9h2.0M612.2 173.2h2.0M591.8 191.1h2.0M610.8 182.2h2.0M613.8 183.6h2.0M624.6 177.7h2.0M637.4 175.7h2.0M623.4 175.2h2.0M640.6 180.0h2.0M604.9 185.2h2.0M611.3 177.5h2.0M642.1 173.6h2.0M629.5 172.0h2.0M588.2 191.6h2.0M622.9 179.5h2.0M604.3 182.5h2.0M603.0 184.2h2.0M636.1 177.4h2.0M591.9 191.1h2.0M619.4 179.0h2.0M645.3 175.7h2.0M630.4 180.8h2.0M613.4 184.5h2.0M603.6 182.9h2.0M641.9 171.8h2.0M592.0 189.4h2.0M633.9 177.4h2.0M586.0 189.4h2.0M631.9 176.3h2.0M627.5 177.6h2.0M594.2 190.8h2.0M628.2 173.2h2.0M643.6 171.6h2.0M599.7 187.4h2.0M590.1 190.8h2.0M622.3 184.5h2.0M638.2 170.1h2.0M594.6 186.1h2.0M628.2 187.2h2.0M587.4 191.0h2.0M599.2 186.6h2.0M621.8 176.4h2.0M618.0 178.9h2.0M615.8 185.3h2.0M634.6 176.0h2.0M620.5 175.5h2.0M608.5 186.2h2.0M596.3 189.9h2.0M647.7 176.3h2.0M622.9 170.6h2.0M614.9 176.0h2.0M647.4 171.8h2.0M621.1 175.2h2.0M614.6 184.6h2.0M635.5 183.0h2.0M618.1 186.4h2.0M610.9 170.1h2.0M646.8 170.1h2.0M605.6 175.4h2.0M594.1 182.4h2.0M621.3 184.6h2.0M641.0 178.4h2.0M585.3 190.2h2.0M590.0 187.1h2.0M588.7 187.3h2.0M631.3 179.1h2.0M615.4 172.9h2.0M612.9 190.8h2.0M644.2 172.7h2.0M610.3 182.7h2.0M635.9 177.1h2.0M609.4 190.2h2.0M612.2 179.8h2.0M615.8 187.1h2.0M643.0 173.4h2.0M635.1 179.3h2.0M628.6 181.4h2.0M590.4 189.2h2.0M597.0 180.7h2.0M619.4 182.5h2.0M592.7 188.0h2.0M629.7 178.7h2.0M592.8 186.9h2.0M584.9 191.2h2.0M594.0 182.8h2.0M591.5 190.6h2.0M608.2 182.5h2.0M618.6 189.2h2.0M602.5 178.4h2.0M598.3 185.6h2.0M640.6 177.0h2.0M606.1 175.9h2.0M620.2 184.7h2.0M601.4 178.4h2.0M626.1 180.3h2.0M606.2 178.3h2.0M635.9 173.4h2.0M632.4 178.0h2.0M642.1 173.4h2.0M590.0 190.0h2.0M649.4 168.8h2.0M606.6 184.6h2.0M597.9 184.1h2.0M616.5 176.0h2.0M627.0 174.1h2.0M587.2 187.8h2.0M606.6 186.5h2.0M641.7 169.3h2.0M606.3 191.5h2.0M622.4 176.0h2.0M602.6 182.8h2.0M620.2 181.4h2.0M628.4 174.1h2.0M627.8 169.5h2.0M621.1 176.9h2.0M628.6 180.6h2.0M602.3 184.2h2.0M587.7 188.3h2.0M599.5 185.8h2.0M637.3 174.7h2.0M592.7 187.3h2.0M596.6 185.1h2.0M598.8 188.3h2.0M625.3 168.9h2.0M613.1 178.7h2.0M619.1 175.1h2.0M636.2 178.8h2.0M621.2 183.8h2.0M626.7 176.6h2.0M609.2 184.7h2.0M599.7 183.5h2.0M599.1 181.4h2.0M590.6 189.0h2.0M620.6 175.5h2.0M627.0 174.0h2.0M593.9 187.7h2.0M630.1 167.2h2.0M599.5 181.2h2.0M622.8 177.6h2.0M619.0 184.3h2.0M608.3 186.9h2.0M607.2 184.8h2.0M602.7 185.5h2.0M623.1 178.9h2.0M629.7 184.7h2.0M598.9 191.4h2.0M606.7 182.6h2.0M614.4 182.8h2.0M591.0 183.2h2.0M591.9 191.1h2.0M599.5 181.0h2.0M596.2 184.5h2.0M624.6 173.8h2.0M596.9 185.4h2.0M597.1 189.9h2.0M587.2 191.3h2.0M627.5 181.7h2.0M632.3 177.7h2.0M615.2 181.8h2.0M597.1 178.8h2.0M593.2 190.6h2.0M625.0 181.4h2.0M604.1 191.2h2.0M637.6 179.9h2.0M627.1 178.6h2.0M590.7 190.3h2.0M614.2 180.1h2.0M619.9 182.4h2.0M616.5 181.3h2.0M618.1 178.3h2.0M593.9 188.6h2.0M605.9 178.7h2.0M593.6 189.6h2.0M645.0 172.4h2.0M596.8 183.5h2.0M628.6 174.5h2.0M619.8 177.2h2.0M596.5 191.2h2.0M597.6 172.1h2.0M624.1 175.7h2.0M621.5 168.3h2.0M622.4 160.7h2.0M605.9 160.4h2.0M615.0 148.4h2.0M620.1 159.2h2.0M601.0 176.4h2.0M590.0 180.5h2.0M615.6 160.0h2.0M598.7 162.4h2.0M618.7 159.1h2.0M614.6 168.8h2.0M603.9 178.0h2.0M625.7 183.5h2.0M605.7 174.7h2.0M617.5 160.8h2.0M602.2 165.8h2.0M621.3 156.4h2.0M628.4 165.6h2.0M607.0 176.3h2.0M629.2 138.4h2.0M611.6 144.7h2.0M609.1 169.0h2.0M626.2 161.7h2.0M597.1 176.4h2.0M608.2 177.3h2.0M593.4 185.5h2.0M612.4 155.9h2.0M628.1 163.8h2.0M596.8 190.8h2.0M606.3 157.3h2.0M601.0 161.3h2.0M617.8 167.5h2.0M607.8 163.5h2.0M601.7 185.7h2.0M610.1 185.7h2.0M596.3 183.0h2.0M610.3 174.9h2.0M609.2 181.7h2.0M607.3 181.7h2.0M606.7 167.0h2.0M598.8 175.4h2.0M632.3 169.5h2.0M620.0 146.2h2.0M610.5 154.6h2.0M589.8 179.1h2.0M612.5 169.7h2.0M610.7 171.4h2.0M610.1 152.8h2.0M629.0 179.1h2.0M614.3 153.9h2.0M625.8 139.5h2.0M611.3 179.6h2.0M616.0 143.1h2.0M627.1 171.2h2.0M613.1 161.2h2.0M610.3 173.0h2.0M607.6 171.2h2.0M627.7 134.3h2.0M613.4 172.0h2.0M604.3 172.6h2.0M605.2 179.4h2.0M627.1 159.8h2.0M625.6 123.4h2.0M605.4 151.2h2.0M599.4 175.1h2.0M604.6 163.7h2.0M619.2 173.8h2.0M603.8 181.3h2.0M598.0 172.4h2.0M617.4 152.0h2.0M604.7 191.0h2.0M622.2 152.1h2.0M602.4 158.8h2.0M602.4 184.0h2.0M600.2 173.8h2.0M594.3 178.7h2.0M611.5 166.9h2.0M610.6 181.3h2.0M595.5 179.9h2.0M626.6 138.5h2.0M632.1 148.2h2.0M598.4 183.4h2.0M603.5 175.8h2.0M605.9 184.6h2.0M615.0 159.9h2.0M622.1 147.7h2.0M610.8 168.8h2.0M616.7 180.9h2.0M607.5 161.5h2.0M594.4 179.0h2.0M622.9 181.2h2.0M622.8 171.9h2.0M595.8 175.5h2.0M622.0 165.8h2.0M607.1 187.9h2.0M604.9 163.5h2.0M603.7 189.1h2.0M610.9 157.8h2.0M631.6 166.2h2.0M598.2 181.1h2.0M627.8 148.7h2.0M609.2 163.3h2.0M616.7 182.9h2.0M625.9 169.8h2.0M620.4 180.2h2.0M604.8 173.4h2.0M591.7 180.6h2.0M596.0 176.1h2.0M606.8 176.4h2.0M601.4 178.8h2.0M609.8 163.1h2.0M629.6 168.9h2.0M613.8 159.1h2.0M602.8 177.8h2.0M599.5 189.7h2.0M623.3 165.9h2.0M598.5 168.8h2.0M612.3 178.7h2.0M598.4 183.1h2.0M599.0 184.1h2.0M611.1 165.8h2.0M602.9 173.8h2.0M621.6 151.9h2.0M602.5 175.1h2.0M599.1 170.4h2.0M620.9 151.6h2.0M590.4 172.9h2.0M628.4 147.4h2.0M659.6 174.1h2.0M662.9 166.5h2.0M654.3 164.7h2.0M648.3 171.3h2.0M649.2 170.6h2.0M658.2 163.8h2.0M648.7 171.8h2.0M652.6 168.7h2.0M656.4 170.7h2.0M652.9 173.5h2.0M660.6 173.0h2.0M661.6 165.0h2.0M649.6 171.6h2.0M664.1 172.2h2.0M654.9 177.4h2.0M655.0 173.3h2.0M655.8 173.9h2.0M649.4 173.5h2.0M654.0 167.0h2.0M664.2 161.7h2.0M652.2 174.3h2.0M653.4 164.1h2.0M650.3 170.2h2.0M664.4 171.0h2.0M658.0 179.0h2.0M661.2 165.8h2.0M659.2 174.1h2.0M656.7 174.6h2.0M659.0 172.1h2.0M661.3 162.7h2.0M714.0 106.6h2.0M698.7 110.8h2.0M688.0 118.6h2.0M670.7 114.7h2.0M667.5 120.2h2.0M668.5 123.8h2.0M667.2 126.1h2.0M652.2 125.1h2.0M642.5 128.7h2.0M623.0 133.2h2.0M639.2 134.2h2.0M658.7 132.6h2.0M662.0 135.8h2.0M628.5 138.4h2.0M634.4 139.1h2.0M646.4 138.4h2.0M619.1 144.6h2.0M625.3 146.2h2.0M629.5 147.9h2.0M634.4 144.0h2.0M652.2 144.0h2.0M659.4 140.7h2.0M612.0 146.6h2.0M613.2 150.5h2.0M616.5 151.1h2.0M621.4 152.1h2.0M645.7 151.1h2.0M652.2 153.1h2.0M672.4 148.8h2.0M675.0 153.7h2.0M685.7 160.2h2.0M702.6 162.8h2.0M710.0 170.6h2.0M658.7 160.2h2.0M657.1 186.2h2.0" stroke="#000" stroke-width="2" fill="none"/>
<path d="M585.4 191.6V26.98999999999998H750.2V191.6H585.4" fill="none" stroke="#000" stroke-width="1.6"/>
<path d="M585.4 191.6v6.5M667.8 191.6v6.5M750.2 191.6v6.5M585.4 191.6h-6.5M585.4 136.7h-6.5M585.4 81.9h-6.5M585.4 27.0h-6.5" stroke="#000" stroke-width="1.6"/>
<text x="585.4" y="212.6" font-size="12" font-weight="bold" text-anchor="middle" >0</text>
<text x="667.8" y="212.6" font-size="12" font-weight="bold" text-anchor="middle" >5</text>
<text x="750.2" y="212.6" font-size="12" font-weight="bold" text-anchor="middle" >10</text>
<text x="575.9" y="195.9" font-size="12" font-weight="bold" text-anchor="end" >0</text>
<text x="575.9" y="141.0" font-size="12" font-weight="bold" text-anchor="end" >10</text>
<text x="575.9" y="86.2" font-size="12" font-weight="bold" text-anchor="end" >20</text>
<text x="575.9" y="31.3" font-size="12" font-weight="bold" text-anchor="end" >30</text>
<text x="667.8" y="226.8" font-size="15" font-weight="bold" text-anchor="middle">N-SH2<tspan font-size="11" dy="-6">WT</tspan></text>
<text x="667.8" y="242.8" font-size="13.8" text-anchor="middle">enrichment (f<tspan font-size="10.4" dy="3">selected</tspan><tspan dy="-3">/f</tspan><tspan font-size="8.8" dy="3">input</tspan><tspan dy="-3" dx="1">)</tspan></text>
<text transform="translate(542.6,144.7) rotate(-90)" font-size="14.4" font-weight="bold">N-SH2<tspan font-size="10.6" dy="-5.8">T52S</tspan></text>
<text transform="translate(557.4,109.3) rotate(-90)" font-size="13.8" text-anchor="middle">enrichment (f<tspan font-size="10.4" dy="3">selected</tspan><tspan dy="-3">/f</tspan><tspan font-size="8.8" dy="3">input</tspan><tspan dy="-3" dx="1">)</tspan></text>
<text x="667.8" y="19.8" font-size="15" font-weight="bold" text-anchor="middle">N-SH2<tspan font-size="11" dy="-6">WT</tspan><tspan dy="6"> vs N-SH2</tspan><tspan font-size="11" dy="-6">T52S</tspan></text>
<line x1="62.8" y1="451.7" x2="227.8" y2="286.9" stroke="#ff2020" stroke-width="1.2"/>
<clipPath id="cD"><rect x="62.8" y="286.94" width="165.0" height="164.76"/></clipPath>
<path clip-path="url(#cD)" d="M89.9 422.3h2.0M72.8 445.9h2.0M68.6 448.8h2.0M105.0 390.8h2.0M75.5 443.8h2.0M76.4 440.9h2.0M101.3 403.6h2.0M105.8 403.1h2.0M92.5 418.4h2.0M75.9 440.6h2.0M82.6 430.9h2.0M81.5 434.0h2.0M110.3 394.2h2.0M81.0 431.0h2.0M79.7 438.3h2.0M73.8 445.6h2.0M93.1 416.3h2.0M87.1 424.0h2.0M86.7 415.2h2.0M71.5 451.5h2.0M103.1 405.2h2.0M86.3 427.8h2.0M69.8 444.6h2.0M96.7 405.2h2.0M95.2 426.5h2.0M80.1 425.4h2.0M106.8 406.9h2.0M104.9 406.7h2.0M74.5 441.9h2.0M98.2 417.1h2.0M62.7 450.2h2.0M76.5 438.9h2.0M99.0 413.5h2.0M103.9 395.5h2.0M106.8 394.3h2.0M93.2 425.3h2.0M65.3 449.5h2.0M86.4 412.3h2.0M73.7 441.7h2.0M95.1 411.8h2.0M115.8 388.9h2.0M119.8 378.4h2.0M84.8 421.8h2.0M99.0 416.5h2.0M97.2 406.0h2.0M95.9 422.5h2.0M76.3 448.5h2.0M71.2 443.1h2.0M102.4 404.5h2.0M73.5 430.0h2.0M87.4 426.1h2.0M85.2 428.8h2.0M76.9 441.0h2.0M90.4 410.6h2.0M88.3 425.9h2.0M81.1 433.1h2.0M111.4 393.0h2.0M75.1 444.2h2.0M80.1 435.4h2.0M102.5 398.7h2.0M70.7 443.7h2.0M122.2 385.3h2.0M82.5 425.3h2.0M74.9 440.8h2.0M63.2 447.2h2.0M106.6 410.5h2.0M83.8 437.2h2.0M106.1 402.3h2.0M88.9 424.7h2.0M104.8 393.4h2.0M100.3 410.9h2.0M88.7 423.6h2.0M92.1 424.5h2.0M110.5 377.8h2.0M98.7 418.6h2.0M74.6 443.8h2.0M87.6 420.9h2.0M105.7 399.2h2.0M83.6 437.5h2.0M81.1 441.7h2.0M84.0 428.9h2.0M99.3 398.6h2.0M83.5 417.7h2.0M96.5 410.8h2.0M107.9 403.7h2.0M99.6 414.4h2.0M82.7 424.4h2.0M80.4 425.6h2.0M79.2 423.2h2.0M96.7 411.0h2.0M75.7 440.7h2.0M121.0 381.2h2.0M85.6 430.5h2.0M82.3 425.5h2.0M80.3 440.1h2.0M75.4 435.9h2.0M84.1 432.8h2.0M76.0 437.3h2.0M85.2 427.0h2.0M90.4 429.7h2.0M103.8 408.6h2.0M114.7 396.8h2.0M108.3 403.4h2.0M67.4 451.5h2.0M91.3 417.6h2.0M116.4 370.7h2.0M100.5 415.6h2.0M98.4 413.8h2.0M97.1 417.1h2.0M76.5 443.1h2.0M70.0 451.5h2.0M108.3 389.7h2.0M112.7 394.8h2.0M83.7 429.7h2.0M104.4 397.3h2.0M84.9 427.3h2.0M112.5 399.5h2.0M72.6 441.6h2.0M78.0 435.2h2.0M73.0 444.1h2.0M115.8 397.5h2.0M73.0 439.9h2.0M75.3 438.3h2.0M81.8 438.8h2.0M112.3 393.7h2.0M79.2 441.0h2.0M62.0 449.4h2.0M101.9 432.1h2.0M64.6 444.2h2.0M65.0 450.7h2.0M123.2 388.3h2.0M68.8 451.0h2.0M82.6 436.6h2.0M68.1 444.5h2.0M79.7 435.8h2.0M100.6 398.8h2.0M88.9 441.3h2.0M75.1 438.2h2.0M110.9 387.8h2.0M67.7 445.3h2.0M85.7 425.1h2.0M86.7 425.8h2.0M95.4 423.1h2.0M82.7 433.0h2.0M71.7 446.4h2.0M80.1 443.9h2.0M89.6 413.7h2.0M99.1 416.2h2.0M75.3 441.0h2.0M78.1 447.6h2.0M83.6 428.6h2.0M71.8 446.2h2.0M84.5 432.6h2.0M72.4 443.5h2.0M73.2 439.2h2.0M75.0 432.9h2.0M94.5 403.0h2.0M65.3 445.7h2.0M99.1 410.6h2.0M93.1 419.9h2.0M85.5 432.1h2.0M74.3 444.3h2.0M85.8 422.4h2.0M75.1 448.0h2.0M107.0 410.0h2.0M92.6 423.7h2.0M106.6 399.5h2.0M88.5 422.9h2.0M90.0 425.4h2.0M66.2 450.0h2.0M90.8 423.0h2.0M93.6 410.2h2.0M98.3 407.0h2.0M97.8 413.3h2.0M102.2 400.4h2.0M100.3 410.3h2.0M79.7 427.9h2.0M98.7 421.2h2.0M119.8 391.9h2.0M96.1 413.0h2.0M79.9 442.1h2.0M84.7 426.4h2.0M74.4 441.0h2.0M103.7 409.0h2.0M105.6 409.7h2.0M75.7 443.6h2.0M119.8 379.1h2.0M64.2 446.5h2.0M65.1 449.9h2.0M82.1 440.5h2.0M80.0 445.0h2.0M75.4 443.4h2.0M74.5 433.3h2.0M103.0 407.2h2.0M99.7 416.0h2.0M86.2 411.6h2.0M100.2 405.5h2.0M68.9 443.0h2.0M70.7 451.5h2.0M100.5 404.4h2.0M64.6 451.5h2.0M111.0 393.3h2.0M82.1 432.0h2.0M65.6 446.9h2.0M69.7 451.5h2.0M69.8 443.3h2.0M69.3 450.3h2.0M89.5 427.4h2.0M109.2 392.2h2.0M68.6 450.1h2.0M77.4 433.6h2.0M71.8 442.5h2.0M73.1 437.1h2.0M83.0 426.7h2.0M85.9 429.6h2.0M83.7 432.8h2.0M85.2 424.0h2.0M89.2 425.9h2.0M75.5 444.0h2.0M89.6 419.2h2.0M63.7 451.7h2.0M77.1 438.7h2.0M94.3 419.3h2.0M83.9 438.5h2.0M65.4 449.3h2.0M92.4 413.1h2.0M69.6 440.0h2.0M96.1 417.2h2.0M77.9 441.1h2.0M83.0 439.1h2.0M89.2 412.3h2.0M85.1 425.3h2.0M108.1 400.1h2.0M91.3 434.6h2.0M100.4 404.4h2.0M81.7 427.5h2.0M99.2 418.4h2.0M88.7 425.9h2.0M82.0 440.7h2.0M68.5 438.5h2.0M91.3 414.1h2.0M61.8 446.0h2.0M110.1 388.0h2.0M80.8 439.0h2.0M94.5 424.8h2.0M94.1 414.8h2.0M72.3 437.4h2.0M65.1 451.5h2.0M91.3 415.6h2.0M90.4 426.1h2.0M62.4 450.9h2.0M91.3 428.7h2.0M93.4 411.9h2.0M72.8 443.6h2.0M73.8 441.7h2.0M79.6 437.2h2.0M98.4 415.5h2.0M75.1 436.9h2.0M104.7 408.9h2.0M89.1 415.2h2.0M103.4 407.3h2.0M93.3 416.9h2.0M62.5 451.0h2.0M74.0 442.9h2.0M73.5 435.9h2.0M94.3 421.1h2.0M76.4 433.5h2.0M113.9 383.3h2.0M92.4 434.5h2.0M83.8 433.6h2.0M85.8 430.7h2.0M89.7 415.4h2.0M77.3 424.6h2.0M114.3 382.6h2.0M78.5 431.3h2.0M70.8 443.3h2.0M87.1 422.5h2.0M70.7 446.5h2.0M108.7 398.1h2.0M71.4 446.3h2.0M77.3 439.3h2.0M69.2 451.2h2.0M97.3 407.8h2.0M78.7 434.3h2.0M92.7 419.6h2.0M70.6 440.7h2.0M69.5 448.7h2.0M90.9 424.2h2.0M90.6 426.9h2.0M78.6 436.3h2.0M77.8 439.8h2.0M67.2 451.2h2.0M109.4 409.5h2.0M116.3 385.3h2.0M69.1 435.2h2.0M94.3 411.1h2.0M90.6 417.8h2.0M77.2 441.0h2.0M84.0 432.5h2.0M77.5 443.0h2.0M114.7 388.0h2.0M87.6 435.3h2.0M98.5 411.6h2.0M85.3 426.6h2.0M74.6 446.2h2.0M87.5 420.7h2.0M119.5 388.6h2.0M70.6 448.7h2.0M106.4 392.8h2.0M76.2 437.7h2.0M71.5 437.5h2.0M79.8 442.0h2.0M84.5 422.9h2.0M77.5 433.1h2.0M81.3 444.0h2.0M75.9 431.3h2.0M96.6 424.4h2.0M99.8 410.3h2.0M94.4 403.0h2.0M88.6 422.4h2.0M73.4 434.6h2.0M75.4 448.4h2.0M85.8 436.2h2.0M88.0 425.1h2.0M77.2 441.0h2.0M89.0 418.7h2.0M91.8 412.7h2.0M88.0 428.4h2.0M81.5 441.4h2.0M77.7 440.8h2.0M69.1 443.9h2.0M103.7 396.4h2.0M89.9 417.9h2.0M71.4 444.2h2.0M77.7 434.6h2.0M81.4 435.2h2.0M83.1 424.7h2.0M67.5 447.5h2.0M88.0 421.8h2.0M108.6 394.4h2.0M67.4 445.9h2.0M66.3 450.8h2.0M75.4 451.5h2.0M89.9 423.5h2.0M84.6 440.0h2.0M98.2 407.2h2.0M71.3 442.8h2.0M86.1 428.4h2.0M98.3 411.8h2.0M103.3 409.5h2.0M77.0 444.8h2.0M71.1 445.3h2.0M65.5 442.7h2.0M63.6 450.7h2.0M82.3 433.8h2.0M106.5 396.7h2.0M85.9 426.6h2.0M82.7 424.1h2.0M114.1 394.0h2.0M104.5 399.9h2.0M94.2 418.7h2.0M78.2 436.8h2.0M89.7 422.2h2.0M78.7 443.0h2.0M80.5 438.0h2.0M67.2 446.1h2.0M68.5 450.0h2.0M95.4 413.8h2.0M66.9 451.4h2.0M107.4 403.9h2.0M99.8 406.6h2.0M110.7 401.9h2.0M89.0 422.4h2.0M95.4 414.1h2.0M84.3 423.1h2.0M90.0 422.9h2.0M111.0 402.8h2.0M69.7 451.6h2.0M103.7 410.2h2.0M66.5 451.1h2.0M98.9 407.6h2.0M77.4 441.9h2.0M81.9 444.4h2.0M70.1 446.0h2.0M69.1 444.9h2.0M92.2 422.6h2.0M81.1 432.0h2.0M74.0 435.0h2.0M69.1 447.4h2.0M110.8 383.6h2.0M87.3 419.5h2.0M79.7 439.6h2.0M108.7 419.9h2.0M69.1 451.4h2.0M75.0 445.0h2.0M62.1 449.9h2.0M92.6 426.5h2.0M113.5 387.5h2.0M93.5 427.6h2.0M98.8 411.6h2.0M67.8 451.6h2.0M86.6 428.6h2.0M69.4 441.5h2.0M91.4 429.2h2.0M84.2 436.7h2.0M68.0 436.6h2.0M110.1 398.7h2.0M98.7 414.8h2.0M85.0 424.7h2.0M69.0 443.9h2.0M99.9 395.6h2.0M101.3 404.5h2.0M77.5 437.4h2.0M81.6 435.9h2.0M90.5 418.6h2.0M83.2 435.1h2.0M78.0 436.1h2.0M80.9 439.6h2.0M82.8 435.2h2.0M108.9 397.3h2.0M90.6 421.9h2.0M83.7 420.4h2.0M78.3 441.0h2.0M72.4 443.5h2.0M109.6 406.2h2.0M80.8 443.0h2.0M83.0 418.9h2.0M80.2 435.2h2.0M68.3 436.6h2.0M64.9 447.3h2.0M78.6 432.6h2.0M102.6 413.0h2.0M113.2 389.8h2.0M86.8 429.4h2.0M77.1 432.5h2.0M88.8 420.5h2.0M81.8 438.2h2.0M88.5 430.2h2.0M75.0 435.3h2.0M77.9 443.6h2.0M87.0 419.3h2.0M91.6 431.1h2.0M66.0 451.2h2.0M81.0 433.1h2.0M90.5 418.1h2.0M90.8 426.2h2.0M85.7 425.7h2.0M115.7 395.2h2.0M78.5 443.3h2.0M70.3 445.9h2.0M72.1 439.7h2.0M70.6 448.7h2.0M80.3 436.9h2.0M78.2 433.6h2.0M92.5 425.6h2.0M93.9 408.4h2.0M78.8 441.5h2.0M87.8 416.7h2.0M79.5 443.3h2.0M81.4 441.6h2.0M62.7 447.2h2.0M103.4 406.1h2.0M77.2 440.9h2.0M64.4 450.8h2.0M76.0 448.6h2.0M92.6 418.8h2.0M68.3 449.9h2.0M78.5 446.1h2.0M117.5 388.2h2.0M69.4 449.5h2.0M71.7 437.4h2.0M89.8 418.0h2.0M88.1 427.3h2.0M111.5 395.8h2.0M65.0 450.4h2.0M63.4 451.1h2.0M86.0 420.0h2.0M68.8 443.7h2.0M63.0 450.8h2.0M70.3 446.6h2.0M74.9 439.8h2.0M73.6 445.7h2.0M65.1 450.8h2.0M63.6 451.3h2.0M112.1 394.9h2.0M71.9 447.6h2.0M82.8 423.6h2.0M83.9 429.7h2.0M67.0 451.4h2.0M72.2 444.7h2.0M79.0 436.4h2.0M66.3 443.6h2.0M66.9 443.4h2.0M94.9 417.0h2.0M104.5 391.1h2.0M86.1 437.2h2.0M77.4 436.4h2.0M83.5 434.0h2.0M80.9 444.8h2.0M62.8 450.2h2.0M87.2 420.5h2.0M92.2 418.3h2.0M99.8 401.3h2.0M74.4 450.3h2.0M120.3 383.2h2.0M91.1 416.7h2.0M88.3 424.4h2.0M88.9 421.8h2.0M86.4 417.5h2.0M83.2 439.8h2.0M69.8 441.7h2.0M78.2 436.7h2.0M91.6 419.6h2.0M73.9 434.5h2.0M96.8 406.4h2.0M83.2 433.2h2.0M78.8 437.1h2.0M88.5 418.4h2.0M86.8 444.7h2.0M73.8 436.4h2.0M70.1 449.0h2.0M88.9 422.8h2.0M86.8 428.3h2.0M98.0 410.8h2.0M84.4 425.5h2.0M68.5 449.5h2.0M91.3 410.5h2.0M86.0 429.7h2.0M99.3 406.9h2.0M116.9 391.8h2.0M92.8 426.3h2.0M91.7 423.9h2.0M93.6 418.7h2.0M62.8 450.6h2.0M87.0 439.1h2.0M105.9 406.5h2.0M78.4 442.4h2.0M79.8 431.2h2.0M93.1 418.1h2.0M82.4 429.7h2.0M76.2 441.4h2.0M92.8 425.0h2.0M111.6 390.9h2.0M77.6 433.1h2.0M62.1 451.1h2.0M71.2 443.3h2.0M65.9 447.4h2.0M101.8 400.6h2.0M92.3 411.3h2.0M108.2 397.5h2.0M91.4 416.5h2.0M105.4 402.2h2.0M71.4 450.4h2.0M63.8 451.2h2.0M62.2 448.4h2.0M69.0 446.0h2.0M62.7 447.6h2.0M70.5 438.0h2.0M98.6 415.4h2.0M64.9 449.7h2.0M90.7 424.3h2.0M70.9 440.2h2.0M76.3 434.6h2.0M74.2 436.7h2.0M70.7 442.6h2.0M96.8 412.0h2.0M99.1 419.2h2.0M99.4 410.9h2.0M71.1 450.8h2.0M93.7 411.8h2.0M81.1 439.1h2.0M73.6 439.5h2.0M82.6 433.6h2.0M77.5 436.7h2.0M87.1 424.4h2.0M72.5 449.8h2.0M84.0 424.7h2.0M86.0 434.8h2.0M77.7 441.3h2.0M64.9 449.5h2.0M73.0 451.6h2.0M90.5 424.9h2.0M63.8 443.7h2.0M95.2 411.1h2.0M93.0 418.6h2.0M83.8 432.3h2.0M68.1 440.3h2.0M68.6 451.5h2.0M70.4 448.0h2.0M77.3 439.2h2.0M73.8 439.3h2.0M113.8 405.0h2.0M70.7 442.4h2.0M82.5 440.4h2.0M72.2 434.3h2.0M91.0 427.8h2.0M68.9 450.8h2.0M78.5 439.3h2.0M80.1 430.4h2.0M97.6 408.0h2.0M106.1 407.0h2.0M79.5 432.3h2.0M82.4 436.1h2.0M68.4 444.7h2.0M79.9 436.6h2.0M71.1 445.7h2.0M71.7 445.6h2.0M73.9 436.6h2.0M77.8 440.2h2.0M87.7 419.7h2.0M78.2 439.9h2.0M90.3 433.4h2.0M70.9 446.9h2.0M72.2 447.2h2.0M74.9 439.2h2.0M103.9 400.1h2.0M100.0 408.4h2.0M103.0 406.0h2.0M64.6 441.9h2.0M73.2 442.6h2.0M92.1 419.8h2.0M63.2 450.1h2.0M101.0 420.3h2.0M80.8 425.4h2.0M77.3 421.1h2.0M70.5 447.6h2.0M76.7 444.4h2.0M108.2 394.1h2.0M107.9 406.2h2.0M97.4 412.3h2.0M100.6 405.3h2.0M66.1 443.1h2.0M85.8 431.1h2.0M110.7 389.1h2.0M80.3 444.2h2.0M75.6 448.7h2.0M68.5 448.2h2.0M96.3 415.3h2.0M81.6 435.5h2.0M67.6 441.8h2.0M80.6 435.2h2.0M74.8 438.2h2.0M97.7 415.4h2.0M63.3 448.3h2.0M63.9 440.9h2.0M71.3 441.3h2.0M80.6 432.3h2.0M86.5 428.0h2.0M84.8 429.7h2.0M100.5 411.7h2.0M78.2 444.9h2.0M95.7 411.3h2.0M83.6 432.4h2.0M91.0 428.5h2.0M70.0 450.7h2.0M93.3 430.9h2.0M83.1 434.2h2.0M92.6 428.5h2.0M88.6 421.2h2.0M88.6 431.7h2.0M73.8 448.0h2.0M101.1 408.6h2.0M64.2 449.4h2.0M84.5 430.1h2.0M68.5 449.0h2.0M65.5 450.3h2.0M75.1 446.9h2.0M86.0 424.1h2.0M81.5 420.9h2.0M73.9 446.0h2.0M66.4 451.2h2.0M69.7 447.1h2.0M78.8 438.0h2.0M76.4 441.6h2.0M76.7 442.7h2.0M104.5 399.0h2.0M90.1 423.1h2.0M84.5 434.8h2.0M90.6 432.0h2.0M93.2 412.9h2.0M113.9 391.1h2.0M78.4 430.0h2.0M88.1 426.7h2.0M96.8 400.4h2.0M75.9 433.3h2.0M108.0 401.2h2.0M75.1 447.1h2.0M65.8 451.2h2.0M87.7 428.7h2.0M84.7 432.8h2.0M81.2 428.9h2.0M68.7 448.2h2.0M108.4 400.5h2.0M66.3 444.6h2.0M101.1 404.0h2.0M77.5 442.7h2.0M75.4 445.1h2.0M101.5 399.5h2.0M99.5 413.1h2.0M119.1 387.5h2.0M103.7 397.0h2.0M115.0 386.0h2.0M93.4 428.1h2.0M84.8 425.1h2.0M107.8 401.2h2.0M98.6 413.0h2.0M88.5 420.8h2.0M72.1 447.1h2.0M71.2 441.3h2.0M83.6 434.7h2.0M82.8 426.8h2.0M104.8 403.3h2.0M82.1 435.0h2.0M66.4 444.4h2.0M65.7 443.4h2.0M85.5 421.8h2.0M71.7 448.4h2.0M74.9 436.9h2.0M64.9 446.2h2.0M93.7 429.3h2.0M92.6 425.0h2.0M107.8 402.2h2.0M84.2 425.7h2.0M68.4 447.1h2.0M86.5 429.4h2.0M68.8 439.9h2.0M103.4 415.0h2.0M68.9 445.9h2.0M83.4 438.6h2.0M102.7 401.0h2.0M84.2 432.2h2.0M114.4 388.8h2.0M94.2 429.2h2.0M73.2 443.1h2.0M84.1 431.0h2.0M92.7 428.2h2.0M103.0 402.3h2.0M75.1 446.3h2.0M99.6 418.5h2.0M121.7 392.0h2.0M73.4 448.3h2.0M85.1 429.7h2.0M97.5 409.7h2.0M70.8 444.8h2.0M86.9 415.7h2.0M99.1 410.2h2.0M72.6 435.5h2.0M107.1 411.2h2.0M105.9 397.6h2.0M84.1 438.2h2.0M77.6 432.7h2.0M92.1 419.3h2.0M92.6 425.4h2.0M91.1 420.7h2.0M100.5 403.4h2.0M72.7 441.4h2.0M117.1 389.4h2.0M71.0 448.0h2.0M87.5 432.8h2.0M73.0 441.5h2.0M99.5 409.1h2.0M63.1 450.6h2.0M108.5 404.2h2.0M85.8 427.9h2.0M80.8 433.1h2.0M83.1 430.0h2.0M75.4 439.3h2.0M82.4 435.4h2.0M67.1 442.9h2.0M86.2 433.5h2.0M87.9 429.7h2.0M67.1 440.4h2.0M88.8 426.7h2.0M95.3 416.2h2.0M83.7 440.5h2.0M99.1 415.7h2.0M106.7 396.1h2.0M87.1 420.5h2.0M93.7 420.4h2.0M110.0 402.8h2.0M112.1 400.3h2.0M69.6 444.2h2.0M99.8 413.5h2.0M90.5 419.9h2.0M95.8 413.6h2.0M95.1 419.1h2.0M76.8 436.9h2.0M102.8 405.2h2.0M88.0 441.5h2.0M90.7 416.2h2.0M62.5 447.1h2.0M96.7 413.1h2.0M91.0 411.5h2.0M116.4 383.4h2.0M67.9 447.4h2.0M98.8 413.0h2.0M91.7 417.2h2.0M89.8 418.7h2.0M102.6 404.4h2.0M82.8 441.4h2.0M79.1 442.3h2.0M86.3 425.3h2.0M86.0 445.7h2.0M104.5 397.2h2.0M105.0 403.1h2.0M104.6 400.1h2.0M75.0 441.5h2.0M85.8 434.4h2.0M77.2 443.2h2.0M80.0 440.6h2.0M91.4 413.8h2.0M85.3 419.1h2.0M111.0 394.2h2.0M87.8 434.7h2.0M62.1 450.3h2.0M90.4 418.4h2.0M62.7 446.7h2.0M79.3 436.7h2.0M96.2 425.5h2.0M67.4 449.1h2.0M90.8 412.1h2.0M92.5 416.1h2.0M78.5 438.9h2.0M83.0 438.4h2.0M94.5 434.4h2.0M82.4 433.9h2.0M64.0 449.7h2.0M69.5 450.9h2.0M94.5 407.8h2.0M109.2 380.9h2.0M70.6 450.4h2.0M77.9 444.7h2.0M89.7 428.3h2.0M90.0 411.2h2.0M62.3 451.7h2.0M76.9 433.4h2.0M69.9 446.7h2.0M84.0 432.2h2.0M71.6 440.9h2.0M111.1 389.4h2.0M104.9 395.9h2.0M105.1 406.4h2.0M76.1 439.4h2.0M82.1 424.7h2.0M115.9 391.6h2.0M90.6 418.4h2.0M89.2 422.6h2.0M80.4 432.0h2.0M98.6 410.4h2.0M98.1 422.7h2.0M67.8 443.1h2.0M79.4 446.0h2.0M71.3 445.9h2.0M85.9 431.1h2.0M71.2 451.5h2.0M79.7 431.4h2.0M77.6 439.8h2.0M69.5 445.8h2.0M110.7 396.2h2.0M91.2 426.0h2.0M95.6 417.4h2.0M85.0 428.9h2.0M64.0 450.1h2.0M70.9 449.1h2.0M85.6 424.6h2.0M90.0 434.1h2.0M82.0 432.7h2.0M96.7 414.1h2.0M94.8 411.8h2.0M83.9 428.1h2.0M106.0 405.4h2.0M91.6 429.0h2.0M112.2 397.8h2.0M94.9 417.9h2.0M71.9 448.7h2.0M84.2 426.1h2.0M64.3 451.2h2.0M71.2 451.6h2.0M103.5 406.4h2.0M90.2 417.6h2.0M96.8 412.0h2.0M65.2 447.9h2.0M81.9 429.4h2.0M68.9 451.3h2.0M89.4 419.4h2.0M92.3 416.9h2.0M89.9 416.2h2.0M88.7 423.4h2.0M92.1 414.6h2.0M73.4 439.7h2.0M77.7 443.2h2.0M81.6 437.6h2.0M64.7 451.0h2.0M103.6 413.9h2.0M65.7 451.4h2.0M80.5 425.8h2.0M69.0 448.8h2.0M71.1 442.6h2.0M78.7 437.2h2.0M82.2 435.2h2.0M84.9 433.1h2.0M90.7 427.2h2.0M68.3 441.7h2.0M86.0 422.6h2.0M97.4 406.9h2.0M82.3 427.0h2.0M81.2 417.0h2.0M83.6 431.7h2.0M117.7 391.4h2.0M72.4 451.7h2.0M90.0 423.5h2.0M110.1 405.6h2.0M73.3 450.1h2.0M97.0 410.3h2.0M88.6 424.5h2.0M68.8 439.9h2.0M73.6 445.2h2.0M83.3 437.3h2.0M90.0 433.0h2.0M89.5 436.9h2.0M70.3 439.6h2.0M67.9 444.6h2.0M90.5 426.9h2.0M95.9 408.1h2.0M95.8 412.3h2.0M85.7 430.8h2.0M73.0 450.9h2.0M90.8 422.7h2.0M102.8 411.9h2.0M106.3 400.9h2.0M86.0 418.6h2.0M87.6 421.4h2.0M70.2 449.3h2.0M97.4 412.6h2.0M93.0 427.7h2.0M97.6 411.7h2.0M79.4 430.7h2.0M75.6 440.3h2.0M96.6 414.5h2.0M67.4 445.4h2.0M120.1 378.8h2.0M74.1 443.4h2.0M92.5 421.6h2.0M90.7 424.3h2.0M71.8 442.5h2.0M68.6 448.3h2.0M90.6 425.2h2.0M73.9 447.5h2.0M83.8 424.3h2.0M97.8 412.4h2.0M79.2 442.5h2.0M93.5 414.6h2.0M91.6 424.0h2.0M92.8 414.8h2.0M80.3 433.4h2.0M106.1 410.4h2.0M82.9 435.0h2.0M72.3 436.9h2.0M97.9 408.8h2.0M98.6 413.1h2.0M78.8 443.1h2.0M101.8 405.2h2.0M77.0 437.6h2.0M81.7 441.9h2.0M67.8 442.4h2.0M79.4 436.3h2.0M80.7 432.0h2.0M79.2 435.8h2.0M74.1 440.6h2.0M90.2 428.1h2.0M70.9 443.6h2.0M99.7 417.5h2.0M87.8 422.2h2.0M68.2 447.3h2.0M83.4 427.8h2.0M116.2 376.4h2.0M74.1 442.0h2.0M91.4 427.3h2.0M64.1 450.6h2.0M105.3 401.1h2.0M65.0 443.4h2.0M69.6 446.9h2.0M62.0 450.0h2.0M86.8 433.3h2.0M111.7 387.3h2.0M77.3 450.0h2.0M78.1 442.4h2.0M85.0 430.8h2.0M99.2 405.0h2.0M99.6 398.5h2.0M111.9 407.0h2.0M73.6 432.8h2.0M80.9 430.8h2.0M67.9 448.6h2.0M77.3 433.8h2.0M106.2 402.4h2.0M100.5 406.9h2.0M97.7 410.6h2.0M93.8 423.1h2.0M80.3 429.6h2.0M71.3 444.8h2.0M69.7 429.9h2.0M80.1 428.0h2.0M92.0 414.8h2.0M76.5 430.0h2.0M82.9 427.3h2.0M91.8 422.0h2.0M75.0 436.2h2.0M80.4 445.9h2.0M86.6 427.6h2.0M84.3 422.1h2.0M91.1 410.5h2.0M87.8 424.3h2.0M101.3 403.9h2.0M93.0 417.7h2.0M100.4 406.2h2.0M80.4 426.9h2.0M75.0 442.1h2.0M105.8 406.7h2.0M101.9 419.4h2.0M78.5 434.5h2.0M111.8 390.0h2.0M63.3 444.1h2.0M120.5 382.2h2.0M89.8 422.2h2.0M81.6 421.8h2.0M89.4 417.9h2.0M97.6 409.4h2.0M92.1 410.3h2.0M62.4 451.4h2.0M89.4 418.3h2.0M93.6 422.1h2.0M84.8 433.2h2.0M65.3 450.1h2.0M84.2 443.9h2.0M66.0 449.6h2.0M75.2 434.6h2.0M83.4 440.8h2.0M104.1 409.0h2.0M96.4 412.9h2.0M71.2 443.3h2.0M63.2 451.7h2.0M73.8 439.5h2.0M81.2 422.8h2.0M75.6 438.5h2.0M93.1 412.5h2.0M87.6 428.6h2.0M70.1 446.5h2.0M80.3 441.2h2.0M91.2 412.0h2.0M72.3 444.0h2.0M72.6 438.7h2.0M94.7 428.5h2.0M76.7 446.7h2.0M112.4 401.0h2.0M103.9 405.1h2.0M88.7 421.8h2.0M90.9 423.7h2.0M83.1 429.7h2.0M94.1 419.5h2.0M78.0 431.8h2.0M82.6 433.0h2.0M77.6 431.9h2.0M62.9 450.5h2.0M75.5 440.1h2.0M62.3 445.3h2.0M81.5 429.4h2.0M112.6 402.2h2.0M78.4 437.9h2.0M87.0 420.9h2.0M94.3 414.8h2.0M94.6 419.4h2.0M89.2 431.3h2.0M82.8 431.8h2.0M67.2 443.7h2.0M99.6 408.4h2.0M78.0 442.2h2.0M85.2 430.5h2.0M101.8 412.2h2.0M88.8 417.9h2.0M85.4 415.7h2.0M72.7 443.6h2.0M94.4 421.9h2.0M76.0 429.4h2.0M73.1 440.4h2.0M93.4 418.6h2.0M103.7 406.1h2.0M97.8 417.5h2.0M99.3 415.5h2.0M93.9 416.4h2.0M82.7 430.0h2.0M72.1 442.4h2.0M78.7 437.0h2.0M93.0 424.8h2.0M100.4 408.7h2.0M73.1 441.9h2.0M91.2 413.8h2.0M84.7 420.8h2.0M103.7 408.9h2.0M63.1 451.3h2.0M68.9 451.5h2.0M95.8 416.2h2.0M100.4 396.7h2.0M84.4 444.1h2.0M71.2 445.6h2.0M80.1 440.3h2.0M76.1 439.2h2.0M65.6 449.7h2.0M73.7 446.9h2.0M110.7 400.3h2.0M84.8 423.3h2.0M108.6 401.8h2.0M84.9 428.6h2.0M77.6 444.1h2.0M65.6 449.8h2.0M83.8 429.7h2.0M65.6 443.1h2.0M81.2 434.1h2.0M66.4 451.2h2.0M87.3 426.1h2.0M78.7 435.9h2.0M68.7 451.3h2.0M97.6 417.0h2.0M77.9 440.1h2.0M123.0 386.8h2.0M105.3 398.9h2.0M86.7 426.1h2.0M99.5 411.0h2.0M81.7 434.3h2.0M92.3 425.9h2.0M82.8 431.1h2.0M116.6 386.7h2.0M107.4 412.4h2.0M102.0 407.0h2.0M70.3 448.5h2.0M94.9 408.1h2.0M108.7 407.0h2.0M88.3 427.3h2.0M97.4 417.4h2.0M95.2 411.3h2.0M96.6 419.8h2.0M65.2 444.9h2.0M75.6 430.8h2.0M104.4 414.8h2.0M92.7 415.8h2.0M85.8 433.2h2.0M89.4 427.8h2.0M94.9 407.6h2.0M84.7 425.7h2.0M103.4 389.7h2.0M84.1 432.3h2.0M81.8 429.6h2.0M111.2 392.4h2.0M87.2 428.2h2.0M107.7 400.5h2.0M115.5 407.1h2.0M80.9 433.6h2.0M81.3 435.1h2.0M77.3 437.3h2.0M83.1 446.5h2.0M75.1 443.2h2.0M81.8 440.0h2.0M94.0 428.3h2.0M69.8 442.4h2.0M74.4 443.1h2.0M68.7 440.7h2.0M72.5 436.7h2.0M88.1 429.2h2.0M67.8 446.8h2.0M72.0 447.7h2.0M96.9 419.1h2.0M86.3 431.5h2.0M79.6 431.6h2.0M97.9 408.8h2.0M87.1 431.9h2.0M70.6 450.3h2.0M84.0 430.2h2.0M82.4 436.1h2.0M97.5 411.3h2.0M71.0 447.6h2.0M79.4 432.2h2.0M93.3 427.7h2.0M68.6 446.3h2.0M67.5 441.0h2.0M73.2 449.0h2.0M118.8 381.5h2.0M109.5 393.8h2.0M69.8 447.3h2.0M85.3 429.4h2.0M77.5 432.3h2.0M66.2 450.1h2.0M63.7 449.3h2.0M97.7 406.7h2.0M81.0 435.8h2.0M114.1 390.8h2.0M92.4 418.1h2.0M87.3 432.0h2.0M71.9 442.9h2.0M89.5 430.0h2.0M74.1 448.5h2.0M62.9 441.6h2.0M62.1 447.8h2.0M102.0 396.4h2.0M108.3 397.1h2.0M83.4 432.2h2.0M86.1 426.9h2.0M71.9 443.1h2.0M95.8 418.4h2.0M103.8 402.1h2.0M69.4 446.3h2.0M93.7 418.3h2.0M86.9 431.8h2.0M100.2 409.9h2.0M84.6 423.2h2.0M78.1 437.3h2.0M105.9 409.9h2.0M72.8 445.6h2.0M62.3 448.8h2.0M77.5 451.6h2.0M92.5 415.5h2.0M97.5 414.9h2.0M81.2 440.5h2.0M82.0 437.7h2.0M80.1 426.9h2.0M102.4 402.0h2.0M97.0 414.8h2.0M104.9 409.3h2.0M77.6 440.2h2.0M72.7 443.4h2.0M105.0 403.9h2.0M87.5 429.1h2.0M76.0 443.5h2.0M84.8 426.4h2.0M87.6 432.1h2.0M102.5 403.0h2.0M71.0 447.8h2.0M81.3 432.9h2.0M75.4 446.1h2.0M74.4 441.6h2.0M94.8 417.4h2.0M72.0 434.2h2.0M90.2 427.3h2.0M77.3 436.5h2.0M98.6 400.1h2.0M72.5 443.4h2.0M88.4 424.1h2.0M87.5 429.0h2.0M90.5 426.1h2.0M114.5 384.0h2.0M88.1 430.6h2.0M90.0 432.8h2.0M86.1 435.6h2.0M100.4 410.7h2.0M101.4 396.4h2.0M111.3 398.6h2.0M85.8 417.3h2.0M90.9 422.9h2.0M91.5 417.1h2.0M109.9 396.0h2.0M83.2 430.0h2.0M76.6 442.7h2.0M75.7 446.4h2.0M100.4 399.7h2.0M91.8 426.0h2.0M65.6 451.1h2.0M94.0 411.4h2.0M73.2 436.2h2.0M89.7 408.0h2.0M82.6 429.5h2.0M64.8 450.7h2.0M95.0 412.9h2.0M63.6 450.8h2.0M62.5 450.2h2.0M73.6 445.9h2.0M111.5 399.9h2.0M85.2 433.3h2.0M110.8 398.0h2.0M73.2 443.6h2.0M111.1 409.9h2.0M120.3 393.9h2.0M91.3 400.9h2.0M77.9 435.8h2.0M74.5 447.2h2.0M81.4 439.3h2.0M94.8 410.5h2.0M86.1 428.4h2.0M108.8 405.6h2.0M117.8 382.2h2.0M76.3 440.4h2.0M97.5 405.0h2.0M78.7 445.5h2.0M88.2 415.3h2.0M78.4 440.1h2.0M97.9 412.2h2.0M88.6 427.5h2.0M82.1 434.7h2.0M77.0 447.9h2.0M77.6 440.7h2.0M89.1 423.6h2.0M104.8 405.6h2.0M73.9 442.0h2.0M83.4 432.2h2.0M66.5 442.7h2.0M67.8 450.4h2.0M116.5 378.4h2.0M90.7 411.6h2.0M94.5 405.7h2.0M82.0 427.5h2.0M75.3 443.2h2.0M88.7 440.7h2.0M70.3 439.9h2.0M89.7 419.2h2.0M78.3 446.1h2.0M87.8 434.5h2.0M96.4 410.4h2.0M69.5 443.1h2.0M80.4 436.3h2.0M93.8 413.3h2.0M121.5 376.4h2.0M106.7 395.9h2.0M105.1 400.2h2.0M77.4 440.5h2.0M82.4 421.4h2.0M84.3 428.9h2.0M70.0 446.3h2.0M62.8 449.6h2.0M92.5 422.4h2.0M85.1 440.4h2.0M73.6 446.3h2.0M71.1 443.0h2.0M88.2 426.1h2.0M81.5 420.9h2.0M72.7 451.3h2.0M99.7 407.7h2.0M103.3 405.5h2.0M98.5 410.4h2.0M92.7 416.4h2.0M85.1 445.8h2.0M99.6 412.0h2.0M77.1 443.4h2.0M66.5 451.6h2.0M100.7 407.8h2.0M85.6 435.5h2.0M99.1 411.0h2.0M74.9 442.7h2.0M94.3 414.2h2.0M99.2 405.1h2.0M106.4 408.1h2.0M71.3 444.3h2.0M84.9 436.6h2.0M95.0 409.5h2.0M73.2 446.1h2.0M79.0 434.5h2.0M96.0 407.7h2.0M75.4 440.3h2.0M78.9 431.1h2.0M62.3 451.7h2.0M83.2 436.6h2.0M91.4 419.1h2.0M89.9 427.2h2.0M77.9 434.9h2.0M99.3 413.4h2.0M71.7 442.4h2.0M113.8 389.5h2.0M81.3 431.1h2.0M71.5 442.5h2.0M71.0 450.5h2.0M97.6 406.4h2.0M92.9 423.8h2.0M80.2 437.8h2.0M88.4 415.7h2.0M90.8 424.1h2.0M62.9 450.4h2.0M89.7 430.2h2.0M64.4 451.4h2.0M93.2 423.1h2.0M72.1 442.0h2.0M101.3 409.6h2.0M82.1 437.5h2.0M69.8 441.8h2.0M81.9 435.9h2.0M83.0 435.0h2.0M72.7 439.3h2.0M98.9 409.1h2.0M69.9 447.3h2.0M79.8 437.9h2.0M101.7 412.3h2.0M88.4 417.1h2.0M90.0 423.6h2.0M75.1 433.3h2.0M93.2 411.7h2.0M82.4 445.2h2.0M99.4 402.8h2.0M78.2 436.6h2.0M77.6 442.5h2.0M110.3 407.1h2.0M74.6 441.6h2.0M85.9 425.3h2.0M93.0 416.4h2.0M81.3 443.0h2.0M108.7 388.5h2.0M97.7 404.8h2.0M107.4 402.7h2.0M81.5 431.6h2.0M109.7 396.7h2.0M73.9 441.1h2.0M73.8 435.5h2.0M88.2 427.9h2.0M62.5 451.4h2.0M101.2 407.8h2.0M88.4 426.0h2.0M70.2 451.4h2.0M77.3 440.9h2.0M98.4 413.2h2.0M95.3 420.7h2.0M90.9 424.8h2.0M69.1 450.6h2.0M91.9 418.9h2.0M100.1 409.4h2.0M95.9 420.0h2.0M105.7 402.7h2.0M66.5 451.0h2.0M68.9 443.6h2.0M103.2 413.8h2.0M108.4 395.8h2.0M62.1 449.1h2.0M84.9 429.7h2.0M73.5 442.8h2.0M77.2 430.7h2.0M105.8 390.0h2.0M87.8 421.4h2.0M83.6 421.5h2.0M75.7 448.5h2.0M69.7 449.6h2.0M102.7 401.7h2.0M63.4 451.5h2.0M118.9 387.4h2.0M90.8 412.7h2.0M101.5 406.1h2.0M80.2 439.0h2.0M73.3 448.2h2.0M82.8 423.7h2.0M87.4 424.9h2.0M73.5 438.7h2.0M90.8 425.3h2.0M77.1 434.1h2.0M79.0 441.0h2.0M75.9 442.6h2.0M72.1 448.3h2.0M68.0 444.7h2.0M86.3 422.6h2.0M70.5 444.9h2.0M109.2 391.8h2.0M64.6 449.4h2.0M71.4 443.1h2.0M104.0 407.7h2.0M79.5 422.2h2.0M87.2 431.5h2.0M96.2 411.7h2.0M74.6 450.4h2.0M121.1 387.9h2.0M77.4 439.8h2.0M72.2 450.8h2.0M70.6 443.4h2.0M66.8 450.2h2.0M80.0 439.0h2.0M102.5 406.9h2.0M97.1 416.9h2.0M100.9 408.3h2.0M66.4 442.1h2.0M115.3 385.9h2.0M73.1 440.1h2.0M87.9 424.2h2.0M87.7 432.7h2.0M90.5 418.9h2.0M83.9 425.3h2.0M90.7 426.6h2.0M78.2 433.9h2.0M83.2 430.4h2.0M74.1 437.8h2.0M83.6 438.5h2.0M72.4 439.7h2.0M102.8 398.9h2.0M67.2 440.1h2.0M80.7 423.0h2.0M91.1 431.6h2.0M73.7 444.8h2.0M102.1 413.4h2.0M71.9 437.5h2.0M84.8 428.2h2.0M93.3 422.8h2.0M86.9 431.1h2.0M86.7 437.7h2.0M76.2 438.0h2.0M99.9 408.3h2.0M102.8 405.0h2.0M83.1 429.6h2.0M93.3 421.5h2.0M85.0 419.8h2.0M84.6 424.9h2.0M101.0 407.5h2.0M100.3 409.1h2.0M78.8 419.3h2.0M74.8 437.8h2.0M100.5 410.6h2.0M105.3 400.0h2.0M90.1 420.7h2.0M114.0 391.3h2.0M70.9 449.8h2.0M97.5 428.6h2.0M69.1 443.7h2.0M91.9 423.9h2.0M97.6 419.3h2.0M96.4 413.3h2.0M78.0 447.9h2.0M102.3 414.6h2.0M111.1 386.6h2.0M82.8 433.8h2.0M91.3 424.8h2.0M74.6 442.7h2.0M72.0 449.1h2.0M76.9 433.5h2.0M96.6 416.4h2.0M101.6 415.9h2.0M84.4 418.7h2.0M106.0 405.3h2.0M79.8 438.9h2.0M76.0 445.6h2.0M98.0 414.0h2.0M91.7 427.9h2.0M110.3 388.1h2.0M87.7 428.2h2.0M82.8 435.7h2.0M85.8 437.5h2.0M74.3 437.8h2.0M87.7 417.3h2.0M77.3 444.5h2.0M66.6 451.2h2.0M87.8 424.7h2.0M89.5 421.6h2.0M69.0 449.5h2.0M80.5 431.4h2.0M83.4 434.5h2.0M125.0 392.2h2.0M90.7 417.8h2.0M85.8 415.0h2.0M109.3 400.2h2.0M71.6 442.7h2.0M83.3 429.2h2.0M84.8 429.7h2.0M69.7 448.7h2.0M74.0 446.3h2.0M69.7 451.5h2.0M98.2 406.3h2.0M90.1 430.2h2.0M95.3 406.6h2.0M81.8 433.4h2.0M76.0 440.8h2.0M91.0 422.0h2.0M67.0 447.4h2.0M112.8 381.4h2.0M64.6 448.7h2.0M114.2 391.5h2.0M105.3 408.6h2.0M76.8 439.0h2.0M73.1 445.1h2.0M71.0 435.3h2.0M94.9 406.4h2.0M95.0 413.4h2.0M78.3 433.0h2.0M106.1 395.1h2.0M92.9 422.7h2.0M65.3 448.4h2.0M66.1 450.3h2.0M83.2 429.2h2.0M94.3 416.7h2.0M69.6 447.6h2.0M111.3 404.6h2.0M87.8 431.3h2.0M106.9 407.9h2.0M62.6 451.5h2.0M70.7 450.6h2.0M79.3 430.7h2.0M98.7 401.9h2.0M96.6 411.0h2.0M98.1 418.6h2.0M83.2 425.0h2.0M106.4 401.1h2.0M76.3 443.5h2.0M83.5 423.6h2.0M88.0 421.1h2.0M66.3 446.8h2.0M77.3 444.4h2.0M96.7 411.2h2.0M69.0 444.9h2.0M69.9 450.3h2.0M103.6 399.9h2.0M65.9 442.4h2.0M78.1 441.3h2.0M75.2 445.2h2.0M79.3 428.9h2.0M89.8 429.5h2.0M74.9 441.8h2.0M90.4 424.4h2.0M67.6 441.5h2.0M91.9 423.9h2.0M91.3 422.1h2.0M102.6 410.9h2.0M87.2 423.9h2.0M104.7 411.3h2.0M94.2 417.7h2.0M90.0 424.6h2.0M81.9 434.6h2.0M81.1 446.0h2.0M99.4 416.1h2.0M94.2 407.6h2.0M84.0 435.2h2.0M108.7 392.6h2.0M76.4 437.4h2.0M104.4 400.5h2.0M90.5 421.3h2.0M122.8 382.4h2.0M83.1 437.7h2.0M74.7 446.9h2.0M73.6 442.0h2.0M74.6 442.1h2.0M96.2 407.1h2.0M75.9 433.3h2.0M77.3 429.4h2.0M93.6 411.6h2.0M85.9 432.0h2.0M107.2 401.2h2.0M79.7 437.0h2.0M95.4 416.7h2.0M65.6 445.5h2.0M85.5 438.8h2.0M95.3 420.9h2.0M96.5 430.0h2.0M91.2 424.5h2.0M87.6 425.1h2.0M69.7 451.4h2.0M70.3 450.9h2.0M102.2 402.8h2.0M67.9 442.5h2.0M70.0 446.1h2.0M89.8 429.6h2.0M70.5 444.6h2.0M86.3 424.2h2.0M101.2 413.0h2.0M79.6 434.0h2.0M80.8 434.2h2.0M78.6 439.8h2.0M63.7 447.7h2.0M77.3 440.6h2.0M75.2 439.9h2.0M93.2 413.8h2.0M74.0 445.2h2.0M73.8 440.6h2.0M63.6 451.5h2.0M78.4 429.3h2.0M64.1 448.1h2.0M79.0 438.4h2.0M89.5 411.6h2.0M76.1 439.4h2.0M83.7 437.2h2.0M72.1 435.7h2.0M86.0 435.2h2.0M95.7 410.8h2.0M97.7 418.6h2.0M98.5 408.3h2.0M95.8 419.5h2.0M89.2 420.6h2.0M97.2 410.7h2.0M65.4 447.2h2.0M99.0 411.7h2.0M82.0 430.0h2.0M91.8 429.1h2.0M79.0 424.5h2.0M85.3 429.4h2.0M75.5 443.6h2.0M97.5 404.8h2.0M86.7 428.3h2.0M105.0 398.0h2.0M84.2 427.2h2.0M90.6 410.3h2.0M86.6 421.5h2.0M66.7 451.5h2.0M67.7 451.6h2.0M118.8 402.7h2.0M78.4 424.4h2.0M105.9 397.1h2.0M65.5 450.8h2.0M116.6 385.2h2.0M64.1 450.7h2.0M65.6 450.4h2.0M76.4 438.4h2.0M94.1 421.0h2.0M70.7 446.2h2.0M77.8 442.6h2.0M119.8 388.3h2.0M91.2 433.8h2.0M109.1 423.2h2.0M93.7 440.2h2.0M90.1 424.9h2.0M105.3 422.6h2.0M119.5 424.1h2.0M107.9 422.6h2.0M105.0 423.0h2.0M95.0 409.9h2.0M90.9 430.2h2.0M92.6 433.6h2.0M113.2 412.5h2.0M102.2 429.3h2.0M91.8 433.7h2.0M109.7 425.6h2.0M91.5 436.0h2.0M100.9 431.8h2.0M90.4 440.4h2.0M96.2 437.5h2.0M105.9 419.3h2.0M113.0 420.4h2.0M106.8 428.0h2.0M88.2 427.7h2.0M100.7 428.6h2.0M101.4 425.7h2.0M89.0 429.7h2.0M87.8 432.2h2.0M100.9 422.2h2.0M92.3 437.7h2.0M104.0 426.7h2.0M112.3 422.8h2.0M115.1 420.5h2.0M113.0 423.4h2.0M105.4 424.5h2.0M101.7 433.7h2.0M102.1 413.8h2.0M131.7 405.4h2.0M126.3 405.5h2.0M123.1 386.6h2.0M128.8 419.0h2.0M133.4 405.8h2.0M115.4 408.6h2.0M121.4 411.6h2.0M120.1 422.1h2.0M130.9 412.4h2.0M99.4 423.7h2.0M136.5 397.8h2.0M136.6 397.6h2.0M144.6 412.9h2.0M135.6 413.1h2.0M117.2 415.2h2.0M134.6 396.7h2.0M130.1 416.6h2.0M107.9 444.9h2.0M98.8 429.0h2.0M110.3 434.3h2.0M113.8 423.5h2.0M121.2 400.5h2.0M119.5 405.3h2.0M140.1 404.5h2.0M116.7 417.0h2.0M106.4 403.1h2.0M113.9 415.0h2.0M140.2 409.0h2.0M117.9 400.3h2.0M138.7 415.2h2.0M117.7 421.3h2.0M107.0 429.3h2.0M115.2 422.5h2.0M115.6 416.8h2.0M128.8 413.6h2.0M135.6 397.0h2.0M122.7 399.1h2.0M112.3 426.6h2.0M108.4 415.8h2.0M123.6 410.9h2.0M125.4 425.6h2.0M108.1 420.8h2.0M108.6 423.0h2.0M124.4 413.7h2.0M129.6 415.3h2.0M139.1 410.5h2.0M96.1 428.9h2.0M109.7 427.0h2.0M137.0 401.3h2.0M134.3 393.4h2.0M115.8 418.1h2.0M103.9 428.1h2.0M132.5 420.5h2.0M139.9 399.0h2.0M114.8 428.3h2.0M101.6 437.4h2.0M102.3 413.7h2.0M139.0 404.2h2.0M131.1 392.2h2.0M220.2 344.8h2.0M169.8 345.5h2.0M162.4 348.1h2.0M194.2 361.1h2.0M211.4 365.0h2.0M218.6 369.8h2.0M169.2 361.1h2.0M148.7 359.1h2.0M135.1 360.1h2.0M126.0 363.3h2.0M117.2 362.7h2.0M141.6 376.3h2.0M130.2 382.2h2.0M197.5 385.1h2.0M169.8 390.3h2.0M183.5 393.6h2.0M183.5 396.5h2.0M169.2 397.5h2.0M160.7 393.6h2.0M147.1 395.8h2.0M155.2 399.1h2.0M161.7 401.7h2.0M148.1 401.4h2.0M148.7 407.2h2.0M148.1 410.5h2.0M178.0 408.8h2.0M182.2 408.8h2.0M191.9 406.2h2.0M135.7 403.3h2.0M134.1 412.1h2.0" stroke="#000" stroke-width="2" fill="none"/>
<path d="M62.8 451.7V286.94H227.8V451.7H62.8" fill="none" stroke="#000" stroke-width="1.6"/>
<path d="M62.8 451.7v6.5M131.6 451.7v6.5M200.3 451.7v6.5M62.8 451.7h-6.5M62.8 383.0h-6.5M62.8 314.4h-6.5" stroke="#000" stroke-width="1.6"/>
<text x="62.8" y="472.7" font-size="12" font-weight="bold" text-anchor="middle" >0</text>
<text x="131.6" y="472.7" font-size="12" font-weight="bold" text-anchor="middle" >5</text>
<text x="200.3" y="472.7" font-size="12" font-weight="bold" text-anchor="middle" >10</text>
<text x="53.3" y="456.0" font-size="12" font-weight="bold" text-anchor="end" >0</text>
<text x="53.3" y="387.3" font-size="12" font-weight="bold" text-anchor="end" >5</text>
<text x="53.3" y="318.7" font-size="12" font-weight="bold" text-anchor="end" >10</text>
<text x="145.3" y="486.9" font-size="15" font-weight="bold" text-anchor="middle">C-SH2<tspan font-size="11" dy="-6">WT</tspan></text>
<text x="145.3" y="502.9" font-size="13.8" text-anchor="middle">enrichment (f<tspan font-size="10.4" dy="3">selected</tspan><tspan dy="-3">/f</tspan><tspan font-size="8.8" dy="3">input</tspan><tspan dy="-3" dx="1">)</tspan></text>
<text transform="translate(20.0,404.8) rotate(-90)" font-size="14.4" font-weight="bold">C-SH2<tspan font-size="10.6" dy="-5.8">E139D</tspan></text>
<text transform="translate(34.8,369.3) rotate(-90)" font-size="13.8" text-anchor="middle">enrichment (f<tspan font-size="10.4" dy="3">selected</tspan><tspan dy="-3">/f</tspan><tspan font-size="8.8" dy="3">input</tspan><tspan dy="-3" dx="1">)</tspan></text>
<text x="145.3" y="280" font-size="15" font-weight="bold" text-anchor="middle">C-SH2<tspan font-size="11" dy="-6">WT</tspan><tspan dy="6"> vs C-SH2</tspan><tspan font-size="11" dy="-6">E139D</tspan></text>
<line x1="388.2" y1="339.4" x2="504.5" y2="339.4" stroke="#777" stroke-width="0.8" stroke-dasharray="1.6,1.6"/>
<line x1="388.2" y1="400.4" x2="504.5" y2="400.4" stroke="#777" stroke-width="0.8" stroke-dasharray="1.6,1.6"/>
<rect x="387.2" y="284.3" width="22.9" height="7.8" fill="#666666" stroke="#222" stroke-width="1"/>
<path d="M409.5 288.2H411.2M409.5 285.4v5.6M411.2 285.4v5.6" stroke="#111" stroke-width="1" fill="none"/>
<rect x="387.2" y="297.3" width="73.3" height="7.8" fill="#f88a80" stroke="#222" stroke-width="1"/>
<path d="M459.7 301.2H462.7M459.7 298.4v5.6M462.7 298.4v5.6" stroke="#111" stroke-width="1" fill="none"/>
<rect x="387.2" y="310.3" width="41.1" height="7.8" fill="#3cd6d8" stroke="#222" stroke-width="1"/>
<path d="M426.7 314.2H430.5M426.7 311.4v5.6M430.5 311.4v5.6" stroke="#111" stroke-width="1" fill="none"/>
<rect x="387.2" y="323.3" width="44.6" height="7.8" fill="#fcd98a" stroke="#222" stroke-width="1"/>
<path d="M430.0 327.2H434.8M430.0 324.4v5.6M434.8 324.4v5.6" stroke="#111" stroke-width="1" fill="none"/>
<rect x="387.2" y="345.3" width="9.3" height="7.8" fill="#666666" stroke="#222" stroke-width="1"/>
<path d="M394.0 349.2H399.4M394.0 346.4v5.6M399.4 346.4v5.6" stroke="#111" stroke-width="1" fill="none"/>
<rect x="387.2" y="358.3" width="68.4" height="7.8" fill="#f88a80" stroke="#222" stroke-width="1"/>
<path d="M441.4 362.2H465.5M441.4 359.4v5.6M465.5 359.4v5.6" stroke="#111" stroke-width="1" fill="none"/>
<rect x="387.2" y="371.3" width="50.7" height="7.8" fill="#3cd6d8" stroke="#222" stroke-width="1"/>
<path d="M425.4 375.2H447.8M425.4 372.4v5.6M447.8 372.4v5.6" stroke="#111" stroke-width="1" fill="none"/>
<rect x="387.2" y="384.3" width="38.2" height="7.8" fill="#fcd98a" stroke="#222" stroke-width="1"/>
<path d="M417.3 388.2H431.5M417.3 385.4v5.6M431.5 385.4v5.6" stroke="#111" stroke-width="1" fill="none"/>
<rect x="387.2" y="406.3" width="22.8" height="7.8" fill="#666666" stroke="#222" stroke-width="1"/>
<path d="M402.4 410.2H416.6M402.4 407.4v5.6M416.6 407.4v5.6" stroke="#111" stroke-width="1" fill="none"/>
<rect x="387.2" y="419.3" width="98.4" height="7.8" fill="#f88a80" stroke="#222" stroke-width="1"/>
<path d="M475.2 423.2H494.6M475.2 420.4v5.6M494.6 420.4v5.6" stroke="#111" stroke-width="1" fill="none"/>
<rect x="387.2" y="432.3" width="58.2" height="7.8" fill="#3cd6d8" stroke="#222" stroke-width="1"/>
<path d="M441.4 436.2H449.2M441.4 433.4v5.6M449.2 433.4v5.6" stroke="#111" stroke-width="1" fill="none"/>
<rect x="387.2" y="445.3" width="47.6" height="7.8" fill="#fcd98a" stroke="#222" stroke-width="1"/>
<path d="M427.7 449.2H441.9M427.7 446.4v5.6M441.9 446.4v5.6" stroke="#111" stroke-width="1" fill="none"/>
<path d="M387.2 457.7V279.9H505.5V457.7H387.2" fill="none" stroke="#000" stroke-width="1.6"/>
<path d="M387.4 457.7v6.5M397.2 457.7v3.8M407.1 457.7v6.5M416.9 457.7v3.8M426.8 457.7v6.5M436.6 457.7v3.8M446.5 457.7v6.5M456.4 457.7v3.8M466.2 457.7v6.5M476.1 457.7v3.8M485.9 457.7v6.5M495.8 457.7v3.8M505.6 457.7v6.5" stroke="#000" stroke-width="1.6"/>
<text x="387.4" y="481.3" font-size="14" text-anchor="middle" >0.5</text>
<text x="407.1" y="481.3" font-size="14" text-anchor="middle" >1</text>
<text x="426.8" y="481.3" font-size="14" text-anchor="middle" >2</text>
<text x="446.5" y="481.3" font-size="14" text-anchor="middle" >4</text>
<text x="466.2" y="481.3" font-size="14" text-anchor="middle" >8</text>
<text x="485.9" y="481.3" font-size="14" text-anchor="middle" >16</text>
<text x="505.6" y="481.3" font-size="14" text-anchor="middle" >32</text>
<text x="446.5" y="500.6" font-size="14.4" font-weight="bold" text-anchor="middle" >enrichment score</text>
<text x="314" y="306.5" font-size="14.8" text-anchor="middle" >DNMT3B pTyr 815</text>
<text x="314" y="320.8" font-size="13.8" text-anchor="middle" >FGFPVH-pY-TDVSNM</text>
<text x="314" y="368.0" font-size="14.8" text-anchor="middle" >MILR1 pTyr 338</text>
<text x="314" y="382.3" font-size="13.8" text-anchor="middle" >AKSGAV-pY-SELNFG</text>
<text x="314" y="430.0" font-size="14.8" text-anchor="middle" >PGFRB pTyr 763</text>
<text x="314" y="444.3" font-size="13.8" text-anchor="middle" >MKGDVK-pY-ADIESS</text>
<line x1="550.1" y1="339.4" x2="666.0" y2="339.4" stroke="#777" stroke-width="0.8" stroke-dasharray="1.6,1.6"/>
<line x1="550.1" y1="400.4" x2="666.0" y2="400.4" stroke="#777" stroke-width="0.8" stroke-dasharray="1.6,1.6"/>
<rect x="549.1" y="284.3" width="102.5" height="7.8" fill="#666666" stroke="#222" stroke-width="1"/>
<path d="M649.2 288.2H654.4M649.2 285.4v5.6M654.4 285.4v5.6" stroke="#111" stroke-width="1" fill="none"/>
<rect x="549.1" y="297.3" width="54.8" height="7.8" fill="#f88a80" stroke="#222" stroke-width="1"/>
<path d="M595.4 301.2H610.7M595.4 298.4v5.6M610.7 298.4v5.6" stroke="#111" stroke-width="1" fill="none"/>
<rect x="549.1" y="310.3" width="98.9" height="7.8" fill="#3cd6d8" stroke="#222" stroke-width="1"/>
<path d="M647.0 314.2H648.6M647.0 311.4v5.6M648.6 311.4v5.6" stroke="#111" stroke-width="1" fill="none"/>
<rect x="549.1" y="323.3" width="110.3" height="7.8" fill="#fcd98a" stroke="#222" stroke-width="1"/>
<path d="M653.5 327.2H664.6M653.5 324.4v5.6M664.6 324.4v5.6" stroke="#111" stroke-width="1" fill="none"/>
<rect x="549.1" y="345.3" width="85.2" height="7.8" fill="#666666" stroke="#222" stroke-width="1"/>
<path d="M631.5 349.2H637.4M631.5 346.4v5.6M637.4 346.4v5.6" stroke="#111" stroke-width="1" fill="none"/>
<rect x="549.1" y="358.3" width="9.9" height="7.8" fill="#f88a80" stroke="#222" stroke-width="1"/>
<path d="M557.1 362.2H562.3M557.1 359.4v5.6M562.3 359.4v5.6" stroke="#111" stroke-width="1" fill="none"/>
<rect x="549.1" y="371.3" width="72.5" height="7.8" fill="#3cd6d8" stroke="#222" stroke-width="1"/>
<path d="M616.6 375.2H625.6M616.6 372.4v5.6M625.6 372.4v5.6" stroke="#111" stroke-width="1" fill="none"/>
<rect x="549.1" y="384.3" width="89.5" height="7.8" fill="#fcd98a" stroke="#222" stroke-width="1"/>
<path d="M636.2 388.2H641.7M636.2 385.4v5.6M641.7 385.4v5.6" stroke="#111" stroke-width="1" fill="none"/>
<rect x="549.1" y="406.3" width="85.5" height="7.8" fill="#666666" stroke="#222" stroke-width="1"/>
<path d="M632.0 410.2H637.0M632.0 407.4v5.6M637.0 407.4v5.6" stroke="#111" stroke-width="1" fill="none"/>
<rect x="549.1" y="419.3" width="32.5" height="7.8" fill="#f88a80" stroke="#222" stroke-width="1"/>
<path d="M576.7 423.2H586.2M576.7 420.4v5.6M586.2 420.4v5.6" stroke="#111" stroke-width="1" fill="none"/>
<rect x="549.1" y="432.3" width="77.3" height="7.8" fill="#3cd6d8" stroke="#222" stroke-width="1"/>
<path d="M618.8 436.2H632.4M618.8 433.4v5.6M632.4 433.4v5.6" stroke="#111" stroke-width="1" fill="none"/>
<rect x="549.1" y="445.3" width="89.3" height="7.8" fill="#fcd98a" stroke="#222" stroke-width="1"/>
<path d="M631.9 449.2H643.3M631.9 446.4v5.6M643.3 446.4v5.6" stroke="#111" stroke-width="1" fill="none"/>
<path d="M549.1 457.7V279.9H667.0V457.7H549.1" fill="none" stroke="#000" stroke-width="1.6"/>
<path d="M548.8 457.7v6.5M566.0 457.7v4.2M574.3 457.7v4.2M579.5 457.7v4.2M584.0 457.7v4.2M587.2 457.7v6.5M604.4 457.7v4.2M612.7 457.7v4.2M617.9 457.7v4.2M622.4 457.7v4.2M625.6 457.7v6.5M642.8 457.7v4.2M651.1 457.7v4.2M656.3 457.7v4.2M660.8 457.7v4.2M664.0 457.7v6.5" stroke="#000" stroke-width="1.4"/>
<text x="548.8" y="482.5" font-size="15" text-anchor="middle">10<tspan font-size="10.5" dy="-4.8">-8</tspan></text>
<text x="587.2" y="482.5" font-size="15" text-anchor="middle">10<tspan font-size="10.5" dy="-4.8">-7</tspan></text>
<text x="625.6" y="482.5" font-size="15" text-anchor="middle">10<tspan font-size="10.5" dy="-4.8">-6</tspan></text>
<text x="664.0" y="482.5" font-size="15" text-anchor="middle">10<tspan font-size="10.5" dy="-4.8">-5</tspan></text>
<text x="607.8" y="502.6" font-size="15.3" font-weight="bold" text-anchor="middle">K<tspan font-size="11" dy="4.5">D</tspan><tspan dy="-4.5"> (M)</tspan></text>
<rect x="679.5" y="311.2" width="21.2" height="9.6" fill="#666666" stroke="#222" stroke-width="1"/>
<text x="713" y="322.3" font-size="16.4">N-SH2<tspan font-size="13" dy="-7">WT</tspan></text>
<rect x="679.5" y="336.2" width="21.2" height="9.6" fill="#f88a80" stroke="#222" stroke-width="1"/>
<text x="713" y="347.3" font-size="16.4">N-SH2<tspan font-size="13" dy="-7">T42A</tspan></text>
<rect x="679.5" y="361.2" width="21.2" height="9.6" fill="#3cd6d8" stroke="#222" stroke-width="1"/>
<text x="713" y="372.3" font-size="16.4">N-SH2<tspan font-size="13" dy="-7">L43F</tspan></text>
<rect x="679.5" y="386.2" width="21.2" height="9.6" fill="#fcd98a" stroke="#222" stroke-width="1"/>
<text x="713" y="397.3" font-size="16.4">N-SH2<tspan font-size="13" dy="-7">T52S</tspan></text>
</svg>
</body></html>
